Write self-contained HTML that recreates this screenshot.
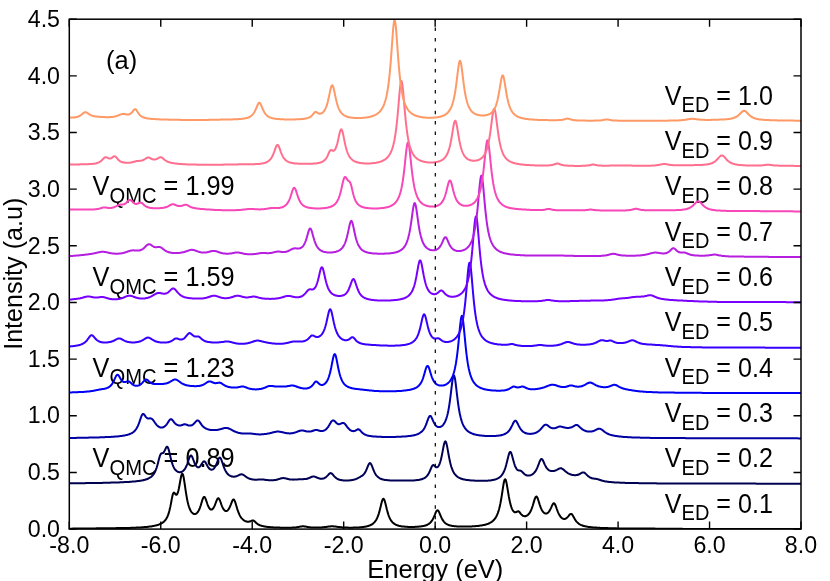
<!DOCTYPE html>
<html><head><meta charset="utf-8"><title>Spectra</title>
<style>
html,body{margin:0;padding:0;background:#fff;}
body{width:830px;height:581px;overflow:hidden;font-family:"Liberation Sans",sans-serif;}
svg{display:block;will-change:transform;}
svg text{filter:grayscale(1);font-family:"Liberation Sans",sans-serif;font-size:24px;fill:#000;}
</style></head>
<body>
<svg width="830" height="581" viewBox="0 0 830 581">
<rect width="830" height="581" fill="#fff"/>
<defs><clipPath id="c"><rect x="69.3" y="19.2" width="731.7" height="509.90000000000003"/></clipPath></defs>
<text transform="translate(69.30,552.80) scale(0.9670,1)" style="font-size:24.00px" text-anchor="middle">-8.0</text>
<text transform="translate(160.76,552.80) scale(0.9670,1)" style="font-size:24.00px" text-anchor="middle">-6.0</text>
<text transform="translate(252.23,552.80) scale(0.9670,1)" style="font-size:24.00px" text-anchor="middle">-4.0</text>
<text transform="translate(343.69,552.80) scale(0.9670,1)" style="font-size:24.00px" text-anchor="middle">-2.0</text>
<text transform="translate(435.15,552.80) scale(0.9670,1)" style="font-size:24.00px" text-anchor="middle">0.0</text>
<text transform="translate(526.61,552.80) scale(0.9670,1)" style="font-size:24.00px" text-anchor="middle">2.0</text>
<text transform="translate(618.08,552.80) scale(0.9670,1)" style="font-size:24.00px" text-anchor="middle">4.0</text>
<text transform="translate(709.54,552.80) scale(0.9670,1)" style="font-size:24.00px" text-anchor="middle">6.0</text>
<text transform="translate(801.00,552.80) scale(0.9670,1)" style="font-size:24.00px" text-anchor="middle">8.0</text>
<text transform="translate(60.00,536.80) scale(0.9670,1)" style="font-size:24.00px" text-anchor="end">0.0</text>
<text transform="translate(60.00,480.14) scale(0.9670,1)" style="font-size:24.00px" text-anchor="end">0.5</text>
<text transform="translate(60.00,423.49) scale(0.9670,1)" style="font-size:24.00px" text-anchor="end">1.0</text>
<text transform="translate(60.00,366.83) scale(0.9670,1)" style="font-size:24.00px" text-anchor="end">1.5</text>
<text transform="translate(60.00,310.18) scale(0.9670,1)" style="font-size:24.00px" text-anchor="end">2.0</text>
<text transform="translate(60.00,253.52) scale(0.9670,1)" style="font-size:24.00px" text-anchor="end">2.5</text>
<text transform="translate(60.00,196.87) scale(0.9670,1)" style="font-size:24.00px" text-anchor="end">3.0</text>
<text transform="translate(60.00,140.21) scale(0.9670,1)" style="font-size:24.00px" text-anchor="end">3.5</text>
<text transform="translate(60.00,83.56) scale(0.9670,1)" style="font-size:24.00px" text-anchor="end">4.0</text>
<text transform="translate(60.00,26.90) scale(0.9670,1)" style="font-size:24.00px" text-anchor="end">4.5</text>
<text transform="translate(664.80,512.54) scale(0.9370,1)" style="font-size:26.80px">V<tspan style="font-size:21.40px" dy="7.7">ED</tspan><tspan dy="-7.7"> = 0.1</tspan></text>
<text transform="translate(664.80,467.21) scale(0.9370,1)" style="font-size:26.80px">V<tspan style="font-size:21.40px" dy="7.7">ED</tspan><tspan dy="-7.7"> = 0.2</tspan></text>
<text transform="translate(664.80,421.89) scale(0.9370,1)" style="font-size:26.80px">V<tspan style="font-size:21.40px" dy="7.7">ED</tspan><tspan dy="-7.7"> = 0.3</tspan></text>
<text transform="translate(664.80,376.56) scale(0.9370,1)" style="font-size:26.80px">V<tspan style="font-size:21.40px" dy="7.7">ED</tspan><tspan dy="-7.7"> = 0.4</tspan></text>
<text transform="translate(664.80,331.24) scale(0.9370,1)" style="font-size:26.80px">V<tspan style="font-size:21.40px" dy="7.7">ED</tspan><tspan dy="-7.7"> = 0.5</tspan></text>
<text transform="translate(664.80,285.92) scale(0.9370,1)" style="font-size:26.80px">V<tspan style="font-size:21.40px" dy="7.7">ED</tspan><tspan dy="-7.7"> = 0.6</tspan></text>
<text transform="translate(664.80,240.59) scale(0.9370,1)" style="font-size:26.80px">V<tspan style="font-size:21.40px" dy="7.7">ED</tspan><tspan dy="-7.7"> = 0.7</tspan></text>
<text transform="translate(664.80,195.27) scale(0.9370,1)" style="font-size:26.80px">V<tspan style="font-size:21.40px" dy="7.7">ED</tspan><tspan dy="-7.7"> = 0.8</tspan></text>
<text transform="translate(664.80,149.94) scale(0.9370,1)" style="font-size:26.80px">V<tspan style="font-size:21.40px" dy="7.7">ED</tspan><tspan dy="-7.7"> = 0.9</tspan></text>
<text transform="translate(664.80,104.62) scale(0.9370,1)" style="font-size:26.80px">V<tspan style="font-size:21.40px" dy="7.7">ED</tspan><tspan dy="-7.7"> = 1.0</tspan></text>
<text transform="translate(92.60,467.21) scale(0.9440,1)" style="font-size:26.80px">V<tspan style="font-size:21.40px" dy="7.7">QMC</tspan><tspan dy="-7.7"> = 0.89</tspan></text>
<text transform="translate(92.60,376.56) scale(0.9440,1)" style="font-size:26.80px">V<tspan style="font-size:21.40px" dy="7.7">QMC</tspan><tspan dy="-7.7"> = 1.23</tspan></text>
<text transform="translate(92.60,285.92) scale(0.9440,1)" style="font-size:26.80px">V<tspan style="font-size:21.40px" dy="7.7">QMC</tspan><tspan dy="-7.7"> = 1.59</tspan></text>
<text transform="translate(92.60,195.27) scale(0.9440,1)" style="font-size:26.80px">V<tspan style="font-size:21.40px" dy="7.7">QMC</tspan><tspan dy="-7.7"> = 1.99</tspan></text>
<text transform="translate(106.00,69.00)" style="font-size:25.50px">(a)</text>
<text transform="translate(435.30,577.50)" style="font-size:25.50px" text-anchor="middle">Energy (eV)</text>
<text transform="translate(22.30,273.80) rotate(-90) scale(0.9850,1)" style="font-size:25.50px" text-anchor="middle">Intensity (a.u)</text>
<g fill="none" stroke-width="2" stroke-linejoin="round" stroke-linecap="round" clip-path="url(#c)">
<path d="M69.3,528.7 L69.8,528.7 L70.3,528.7 L70.8,528.7 L71.3,528.7 L71.8,528.7 L72.3,528.7 L72.8,528.6 L73.3,528.6 L73.8,528.6 L74.3,528.6 L74.8,528.6 L75.3,528.6 L75.8,528.6 L76.3,528.6 L76.8,528.6 L77.3,528.6 L77.8,528.6 L78.3,528.6 L78.8,528.6 L79.3,528.6 L79.8,528.6 L80.3,528.6 L80.8,528.6 L81.3,528.5 L81.8,528.5 L82.3,528.5 L82.8,528.5 L83.3,528.5 L83.8,528.5 L84.3,528.5 L84.8,528.5 L85.3,528.5 L85.8,528.5 L86.3,528.5 L86.8,528.5 L87.3,528.5 L87.8,528.5 L88.3,528.5 L88.8,528.4 L89.3,528.4 L89.8,528.4 L90.3,528.4 L90.8,528.4 L91.3,528.4 L91.8,528.4 L92.3,528.4 L92.8,528.4 L93.3,528.4 L93.8,528.4 L94.3,528.4 L94.8,528.4 L95.3,528.4 L95.8,528.4 L96.3,528.3 L96.8,528.3 L97.3,528.3 L97.8,528.3 L98.3,528.3 L98.8,528.3 L99.3,528.3 L99.8,528.3 L100.3,528.3 L100.8,528.3 L101.3,528.3 L101.8,528.3 L102.3,528.3 L102.8,528.3 L103.3,528.3 L103.8,528.3 L104.3,528.3 L104.8,528.3 L105.3,528.3 L105.8,528.3 L106.3,528.2 L106.8,528.2 L107.3,528.2 L107.8,528.2 L108.3,528.2 L108.8,528.2 L109.3,528.2 L109.8,528.2 L110.3,528.2 L110.8,528.2 L111.3,528.2 L111.8,528.2 L112.3,528.2 L112.8,528.2 L113.3,528.2 L113.8,528.2 L114.3,528.2 L114.8,528.2 L115.3,528.2 L115.8,528.2 L116.3,528.1 L116.8,528.1 L117.3,528.1 L117.8,528.1 L118.3,528.1 L118.8,528.1 L119.3,528.1 L119.8,528.1 L120.3,528.1 L120.8,528.1 L121.3,528.1 L121.8,528.1 L122.3,528.1 L122.8,528.0 L123.3,528.0 L123.8,528.0 L124.3,528.0 L124.8,528.0 L125.3,528.0 L125.8,528.0 L126.3,528.0 L126.8,528.0 L127.3,527.9 L127.8,527.9 L128.3,527.9 L128.8,527.9 L129.3,527.9 L129.8,527.9 L130.3,527.9 L130.8,527.8 L131.3,527.8 L131.8,527.8 L132.3,527.8 L132.8,527.8 L133.3,527.8 L133.8,527.7 L134.3,527.7 L134.8,527.7 L135.3,527.7 L135.8,527.7 L136.3,527.6 L136.8,527.6 L137.3,527.6 L137.8,527.6 L138.3,527.5 L138.8,527.5 L139.3,527.5 L139.8,527.4 L140.3,527.4 L140.8,527.4 L141.3,527.4 L141.8,527.3 L142.3,527.3 L142.8,527.3 L143.3,527.2 L143.8,527.2 L144.3,527.1 L144.8,527.1 L145.3,527.1 L145.8,527.0 L146.3,527.0 L146.8,526.9 L147.3,526.9 L147.8,526.8 L148.3,526.8 L148.8,526.7 L149.3,526.6 L149.8,526.6 L150.3,526.5 L150.8,526.4 L151.3,526.4 L151.8,526.3 L152.3,526.2 L152.8,526.1 L153.3,526.0 L153.8,525.9 L154.3,525.8 L154.8,525.7 L155.3,525.6 L155.8,525.5 L156.3,525.4 L156.8,525.2 L157.3,525.1 L157.8,524.9 L158.3,524.8 L158.8,524.6 L159.3,524.4 L159.8,524.2 L160.3,524.0 L160.8,523.7 L161.3,523.5 L161.8,523.2 L162.3,522.9 L162.8,522.5 L163.3,522.1 L163.8,521.7 L164.3,521.2 L164.8,520.7 L165.3,520.1 L165.8,519.5 L166.3,518.7 L166.8,517.8 L167.3,516.9 L167.8,515.7 L168.3,514.4 L168.8,512.9 L169.3,511.1 L169.8,509.1 L170.3,506.9 L170.8,504.4 L171.3,501.7 L171.8,498.9 L172.3,496.4 L172.8,494.4 L173.3,493.1 L173.8,492.6 L174.3,492.7 L174.8,493.3 L175.3,494.0 L175.8,494.6 L176.3,494.8 L176.8,494.6 L177.3,493.9 L177.8,492.7 L178.3,491.0 L178.8,488.8 L179.3,486.3 L179.8,483.5 L180.3,480.7 L180.8,478.0 L181.3,475.7 L181.8,474.2 L182.3,473.7 L182.8,474.2 L183.3,475.8 L183.8,478.3 L184.3,481.3 L184.8,484.7 L185.3,488.2 L185.8,491.6 L186.3,494.7 L186.8,497.6 L187.3,500.2 L187.8,502.5 L188.3,504.5 L188.8,506.2 L189.3,507.7 L189.8,509.0 L190.3,510.1 L190.8,511.0 L191.3,511.8 L191.8,512.4 L192.3,512.9 L192.8,513.3 L193.3,513.7 L193.8,513.9 L194.3,514.0 L194.8,514.0 L195.3,513.9 L195.8,513.8 L196.3,513.5 L196.8,513.1 L197.3,512.6 L197.8,512.0 L198.3,511.2 L198.8,510.3 L199.3,509.3 L199.8,508.1 L200.3,506.7 L200.8,505.2 L201.3,503.5 L201.8,501.9 L202.3,500.2 L202.8,498.8 L203.3,497.7 L203.8,497.0 L204.3,496.9 L204.8,497.3 L205.3,498.2 L205.8,499.4 L206.3,500.8 L206.8,502.3 L207.3,503.8 L207.8,505.1 L208.3,506.3 L208.8,507.3 L209.3,508.2 L209.8,508.8 L210.3,509.3 L210.8,509.5 L211.3,509.6 L211.8,509.5 L212.3,509.3 L212.8,508.8 L213.3,508.2 L213.8,507.4 L214.3,506.4 L214.8,505.3 L215.3,504.0 L215.8,502.7 L216.3,501.3 L216.8,500.1 L217.3,499.1 L217.8,498.4 L218.3,498.2 L218.8,498.5 L219.3,499.2 L219.8,500.2 L220.3,501.5 L220.8,502.9 L221.3,504.3 L221.8,505.6 L222.3,506.8 L222.8,507.9 L223.3,508.8 L223.8,509.5 L224.3,510.1 L224.8,510.6 L225.3,510.9 L225.8,511.0 L226.3,511.0 L226.8,510.9 L227.3,510.6 L227.8,510.2 L228.3,509.6 L228.8,508.9 L229.3,508.0 L229.8,507.0 L230.3,505.8 L230.8,504.6 L231.3,503.3 L231.8,502.0 L232.3,500.8 L232.8,500.0 L233.3,499.5 L233.8,499.5 L234.3,500.1 L234.8,501.1 L235.3,502.4 L235.8,504.0 L236.3,505.7 L236.8,507.4 L237.3,509.1 L237.8,510.6 L238.3,512.0 L238.8,513.2 L239.3,514.4 L239.8,515.4 L240.3,516.3 L240.8,517.1 L241.3,517.8 L241.8,518.4 L242.3,518.9 L242.8,519.4 L243.3,519.9 L243.8,520.2 L244.3,520.6 L244.8,520.9 L245.3,521.1 L245.8,521.3 L246.3,521.5 L246.8,521.6 L247.3,521.7 L247.8,521.8 L248.3,521.8 L248.8,521.7 L249.3,521.6 L249.8,521.5 L250.3,521.3 L250.8,521.1 L251.3,520.9 L251.8,520.7 L252.3,520.5 L252.8,520.4 L253.3,520.5 L253.8,520.7 L254.3,521.1 L254.8,521.5 L255.3,522.0 L255.8,522.5 L256.3,523.0 L256.8,523.4 L257.3,523.8 L257.8,524.1 L258.3,524.5 L258.8,524.7 L259.3,525.0 L259.8,525.2 L260.3,525.4 L260.8,525.6 L261.3,525.7 L261.8,525.9 L262.3,526.0 L262.8,526.1 L263.3,526.2 L263.8,526.3 L264.3,526.4 L264.8,526.5 L265.3,526.6 L265.8,526.7 L266.3,526.7 L266.8,526.8 L267.3,526.9 L267.8,526.9 L268.3,527.0 L268.8,527.0 L269.3,527.1 L269.8,527.1 L270.3,527.2 L270.8,527.2 L271.3,527.2 L271.8,527.3 L272.3,527.3 L272.8,527.3 L273.3,527.4 L273.8,527.4 L274.3,527.4 L274.8,527.5 L275.3,527.5 L275.8,527.5 L276.3,527.5 L276.8,527.5 L277.3,527.6 L277.8,527.6 L278.3,527.6 L278.8,527.6 L279.3,527.6 L279.8,527.6 L280.3,527.7 L280.8,527.7 L281.3,527.7 L281.8,527.7 L282.3,527.7 L282.8,527.7 L283.3,527.7 L283.8,527.7 L284.3,527.7 L284.8,527.7 L285.3,527.7 L285.8,527.8 L286.3,527.8 L286.8,527.8 L287.3,527.8 L287.8,527.7 L288.3,527.7 L288.8,527.7 L289.3,527.7 L289.8,527.7 L290.3,527.7 L290.8,527.7 L291.3,527.7 L291.8,527.7 L292.3,527.6 L292.8,527.6 L293.3,527.6 L293.8,527.5 L294.3,527.5 L294.8,527.5 L295.3,527.4 L295.8,527.4 L296.3,527.3 L296.8,527.2 L297.3,527.2 L297.8,527.1 L298.3,527.0 L298.8,526.9 L299.3,526.8 L299.8,526.7 L300.3,526.6 L300.8,526.5 L301.3,526.4 L301.8,526.4 L302.3,526.3 L302.8,526.3 L303.3,526.3 L303.8,526.3 L304.3,526.4 L304.8,526.4 L305.3,526.5 L305.8,526.6 L306.3,526.7 L306.8,526.8 L307.3,526.9 L307.8,527.0 L308.3,527.1 L308.8,527.2 L309.3,527.2 L309.8,527.3 L310.3,527.3 L310.8,527.4 L311.3,527.4 L311.8,527.5 L312.3,527.5 L312.8,527.5 L313.3,527.6 L313.8,527.6 L314.3,527.6 L314.8,527.6 L315.3,527.6 L315.8,527.6 L316.3,527.6 L316.8,527.6 L317.3,527.6 L317.8,527.6 L318.3,527.6 L318.8,527.5 L319.3,527.5 L319.8,527.5 L320.3,527.5 L320.8,527.4 L321.3,527.4 L321.8,527.4 L322.3,527.3 L322.8,527.3 L323.3,527.2 L323.8,527.2 L324.3,527.1 L324.8,527.1 L325.3,527.0 L325.8,526.9 L326.3,526.9 L326.8,526.8 L327.3,526.7 L327.8,526.7 L328.3,526.6 L328.8,526.5 L329.3,526.5 L329.8,526.4 L330.3,526.4 L330.8,526.3 L331.3,526.3 L331.8,526.3 L332.3,526.3 L332.8,526.3 L333.3,526.3 L333.8,526.4 L334.3,526.4 L334.8,526.5 L335.3,526.5 L335.8,526.6 L336.3,526.7 L336.8,526.7 L337.3,526.8 L337.8,526.9 L338.3,526.9 L338.8,527.0 L339.3,527.1 L339.8,527.1 L340.3,527.2 L340.8,527.2 L341.3,527.3 L341.8,527.3 L342.3,527.4 L342.8,527.4 L343.3,527.4 L343.8,527.5 L344.3,527.5 L344.8,527.5 L345.3,527.6 L345.8,527.6 L346.3,527.6 L346.8,527.6 L347.3,527.6 L347.8,527.6 L348.3,527.7 L348.8,527.7 L349.3,527.7 L349.8,527.7 L350.3,527.7 L350.8,527.7 L351.3,527.7 L351.8,527.7 L352.3,527.7 L352.8,527.7 L353.3,527.6 L353.8,527.6 L354.3,527.6 L354.8,527.6 L355.3,527.6 L355.8,527.6 L356.3,527.6 L356.8,527.5 L357.3,527.5 L357.8,527.5 L358.3,527.5 L358.8,527.4 L359.3,527.4 L359.8,527.3 L360.3,527.3 L360.8,527.3 L361.3,527.2 L361.8,527.2 L362.3,527.1 L362.8,527.1 L363.3,527.0 L363.8,526.9 L364.3,526.8 L364.8,526.8 L365.3,526.7 L365.8,526.6 L366.3,526.5 L366.8,526.4 L367.3,526.2 L367.8,526.1 L368.3,526.0 L368.8,525.8 L369.3,525.6 L369.8,525.4 L370.3,525.2 L370.8,525.0 L371.3,524.7 L371.8,524.5 L372.3,524.1 L372.8,523.8 L373.3,523.4 L373.8,522.9 L374.3,522.4 L374.8,521.9 L375.3,521.2 L375.8,520.5 L376.3,519.7 L376.8,518.8 L377.3,517.7 L377.8,516.5 L378.3,515.1 L378.8,513.6 L379.3,511.9 L379.8,510.0 L380.3,508.0 L380.8,505.9 L381.3,503.8 L381.8,501.9 L382.3,500.3 L382.8,499.2 L383.3,498.7 L383.8,498.9 L384.3,499.8 L384.8,501.2 L385.3,503.0 L385.8,505.0 L386.3,507.1 L386.8,509.2 L387.3,511.1 L387.8,512.9 L388.3,514.5 L388.8,515.9 L389.3,517.1 L389.8,518.2 L390.3,519.2 L390.8,520.1 L391.3,520.8 L391.8,521.5 L392.3,522.1 L392.8,522.6 L393.3,523.0 L393.8,523.4 L394.3,523.8 L394.8,524.1 L395.3,524.4 L395.8,524.7 L396.3,524.9 L396.8,525.1 L397.3,525.3 L397.8,525.5 L398.3,525.6 L398.8,525.8 L399.3,525.9 L399.8,526.0 L400.3,526.1 L400.8,526.2 L401.3,526.3 L401.8,526.4 L402.3,526.4 L402.8,526.5 L403.3,526.5 L403.8,526.6 L404.3,526.6 L404.8,526.7 L405.3,526.7 L405.8,526.8 L406.3,526.8 L406.8,526.8 L407.3,526.8 L407.8,526.9 L408.3,526.9 L408.8,526.9 L409.3,526.9 L409.8,526.9 L410.3,526.9 L410.8,526.9 L411.3,526.9 L411.8,526.9 L412.3,526.9 L412.8,526.9 L413.3,526.9 L413.8,526.9 L414.3,526.9 L414.8,526.9 L415.3,526.8 L415.8,526.8 L416.3,526.8 L416.8,526.8 L417.3,526.7 L417.8,526.7 L418.3,526.7 L418.8,526.6 L419.3,526.6 L419.8,526.5 L420.3,526.5 L420.8,526.4 L421.3,526.3 L421.8,526.3 L422.3,526.2 L422.8,526.1 L423.3,526.0 L423.8,525.9 L424.3,525.8 L424.8,525.7 L425.3,525.5 L425.8,525.4 L426.3,525.2 L426.8,525.0 L427.3,524.8 L427.8,524.5 L428.3,524.2 L428.8,523.9 L429.3,523.5 L429.8,523.1 L430.3,522.7 L430.8,522.1 L431.3,521.5 L431.8,520.8 L432.3,520.1 L432.8,519.2 L433.3,518.2 L433.8,517.1 L434.3,516.0 L434.8,514.8 L435.3,513.5 L435.8,512.4 L436.3,511.4 L436.8,510.7 L437.3,510.3 L437.8,510.4 L438.3,510.8 L438.8,511.6 L439.3,512.6 L439.8,513.8 L440.3,515.0 L440.8,516.2 L441.3,517.3 L441.8,518.4 L442.3,519.3 L442.8,520.2 L443.3,520.9 L443.8,521.6 L444.3,522.1 L444.8,522.7 L445.3,523.1 L445.8,523.5 L446.3,523.8 L446.8,524.1 L447.3,524.4 L447.8,524.6 L448.3,524.9 L448.8,525.0 L449.3,525.2 L449.8,525.4 L450.3,525.5 L450.8,525.6 L451.3,525.7 L451.8,525.8 L452.3,525.9 L452.8,526.0 L453.3,526.0 L453.8,526.1 L454.3,526.2 L454.8,526.2 L455.3,526.3 L455.8,526.3 L456.3,526.3 L456.8,526.4 L457.3,526.4 L457.8,526.4 L458.3,526.4 L458.8,526.5 L459.3,526.5 L459.8,526.5 L460.3,526.5 L460.8,526.5 L461.3,526.5 L461.8,526.5 L462.3,526.6 L462.8,526.6 L463.3,526.6 L463.8,526.6 L464.3,526.6 L464.8,526.6 L465.3,526.6 L465.8,526.5 L466.3,526.5 L466.8,526.5 L467.3,526.5 L467.8,526.5 L468.3,526.5 L468.8,526.5 L469.3,526.5 L469.8,526.5 L470.3,526.4 L470.8,526.4 L471.3,526.4 L471.8,526.4 L472.3,526.3 L472.8,526.3 L473.3,526.3 L473.8,526.3 L474.3,526.2 L474.8,526.2 L475.3,526.2 L475.8,526.1 L476.3,526.1 L476.8,526.0 L477.3,526.0 L477.8,525.9 L478.3,525.9 L478.8,525.8 L479.3,525.8 L479.8,525.7 L480.3,525.6 L480.8,525.6 L481.3,525.5 L481.8,525.4 L482.3,525.3 L482.8,525.2 L483.3,525.1 L483.8,525.0 L484.3,524.9 L484.8,524.8 L485.3,524.7 L485.8,524.5 L486.3,524.4 L486.8,524.2 L487.3,524.1 L487.8,523.9 L488.3,523.7 L488.8,523.5 L489.3,523.3 L489.8,523.0 L490.3,522.7 L490.8,522.4 L491.3,522.1 L491.8,521.8 L492.3,521.4 L492.8,521.0 L493.3,520.5 L493.8,520.0 L494.3,519.5 L494.8,518.8 L495.3,518.1 L495.8,517.4 L496.3,516.5 L496.8,515.5 L497.3,514.4 L497.8,513.1 L498.3,511.7 L498.8,510.1 L499.3,508.3 L499.8,506.2 L500.3,503.9 L500.8,501.3 L501.3,498.5 L501.8,495.4 L502.3,492.1 L502.8,488.8 L503.3,485.6 L503.8,482.8 L504.3,480.7 L504.8,479.5 L505.3,479.2 L505.8,480.1 L506.3,481.9 L506.8,484.4 L507.3,487.3 L507.8,490.4 L508.3,493.4 L508.8,496.4 L509.3,499.0 L509.8,501.4 L510.3,503.6 L510.8,505.4 L511.3,507.0 L511.8,508.3 L512.3,509.4 L512.8,510.3 L513.3,511.1 L513.8,511.6 L514.3,512.0 L514.8,512.2 L515.3,512.3 L515.8,512.2 L516.3,512.0 L516.8,511.8 L517.3,511.5 L517.8,511.4 L518.3,511.3 L518.8,511.5 L519.3,511.9 L519.8,512.5 L520.3,513.1 L520.8,513.8 L521.3,514.4 L521.8,514.9 L522.3,515.3 L522.8,515.7 L523.3,515.9 L523.8,516.1 L524.3,516.2 L524.8,516.2 L525.3,516.2 L525.8,516.0 L526.3,515.9 L526.8,515.6 L527.3,515.3 L527.8,515.0 L528.3,514.5 L528.8,514.0 L529.3,513.3 L529.8,512.6 L530.3,511.8 L530.8,510.8 L531.3,509.7 L531.8,508.4 L532.3,507.0 L532.8,505.5 L533.3,503.8 L533.8,502.1 L534.3,500.4 L534.8,498.9 L535.3,497.7 L535.8,496.8 L536.3,496.5 L536.8,496.7 L537.3,497.5 L537.8,498.7 L538.3,500.2 L538.8,501.8 L539.3,503.4 L539.8,505.0 L540.3,506.4 L540.8,507.7 L541.3,508.9 L541.8,509.9 L542.3,510.8 L542.8,511.5 L543.3,512.1 L543.8,512.6 L544.3,513.0 L544.8,513.3 L545.3,513.4 L545.8,513.5 L546.3,513.5 L546.8,513.4 L547.3,513.2 L547.8,512.9 L548.3,512.4 L548.8,511.9 L549.3,511.2 L549.8,510.4 L550.3,509.4 L550.8,508.4 L551.3,507.3 L551.8,506.1 L552.3,505.1 L552.8,504.2 L553.3,503.5 L553.8,503.3 L554.3,503.5 L554.8,504.0 L555.3,505.0 L555.8,506.2 L556.3,507.5 L556.8,509.0 L557.3,510.3 L557.8,511.6 L558.3,512.8 L558.8,513.9 L559.3,514.8 L559.8,515.7 L560.3,516.4 L560.8,517.0 L561.3,517.5 L561.8,518.0 L562.3,518.3 L562.8,518.6 L563.3,518.8 L563.8,518.9 L564.3,518.9 L564.8,518.9 L565.3,518.8 L565.8,518.5 L566.3,518.3 L566.8,517.9 L567.3,517.4 L567.8,516.9 L568.3,516.3 L568.8,515.6 L569.3,515.0 L569.8,514.5 L570.3,514.1 L570.8,513.9 L571.3,513.9 L571.8,514.2 L572.3,514.8 L572.8,515.5 L573.3,516.4 L573.8,517.3 L574.3,518.2 L574.8,519.1 L575.3,519.9 L575.8,520.6 L576.3,521.3 L576.8,521.9 L577.3,522.4 L577.8,522.9 L578.3,523.3 L578.8,523.7 L579.3,524.1 L579.8,524.4 L580.3,524.6 L580.8,524.9 L581.3,525.1 L581.8,525.3 L582.3,525.5 L582.8,525.7 L583.3,525.8 L583.8,526.0 L584.3,526.1 L584.8,526.2 L585.3,526.3 L585.8,526.4 L586.3,526.5 L586.8,526.6 L587.3,526.7 L587.8,526.8 L588.3,526.9 L588.8,526.9 L589.3,527.0 L589.8,527.1 L590.3,527.1 L590.8,527.2 L591.3,527.2 L591.8,527.3 L592.3,527.3 L592.8,527.4 L593.3,527.4 L593.8,527.5 L594.3,527.5 L594.8,527.5 L595.3,527.6 L595.8,527.6 L596.3,527.6 L596.8,527.7 L597.3,527.7 L597.8,527.7 L598.3,527.8 L598.8,527.8 L599.3,527.8 L599.8,527.8 L600.3,527.9 L600.8,527.9 L601.3,527.9 L601.8,527.9 L602.3,528.0 L602.8,528.0 L603.3,528.0 L603.8,528.0 L604.3,528.0 L604.8,528.0 L605.3,528.1 L605.8,528.1 L606.3,528.1 L606.8,528.1 L607.3,528.1 L607.8,528.1 L608.3,528.2 L608.8,528.2 L609.3,528.2 L609.8,528.2 L610.3,528.2 L610.8,528.2 L611.3,528.2 L611.8,528.3 L612.3,528.3 L612.8,528.3 L613.3,528.3 L613.8,528.3 L614.3,528.3 L614.8,528.3 L615.3,528.3 L615.8,528.3 L616.3,528.3 L616.8,528.4 L617.3,528.4 L617.8,528.4 L618.3,528.4 L618.8,528.4 L619.3,528.4 L619.8,528.4 L620.3,528.4 L620.8,528.4 L621.3,528.4 L621.8,528.4 L622.3,528.4 L622.8,528.5 L623.3,528.5 L623.8,528.5 L624.3,528.5 L624.8,528.5 L625.3,528.5 L625.8,528.5 L626.3,528.5 L626.8,528.5 L627.3,528.5 L627.8,528.5 L628.3,528.5 L628.8,528.5 L629.3,528.5 L629.8,528.5 L630.3,528.5 L630.8,528.5 L631.3,528.5 L631.8,528.5 L632.3,528.6 L632.8,528.6 L633.3,528.6 L633.8,528.6 L634.3,528.6 L634.8,528.6 L635.3,528.6 L635.8,528.6 L636.3,528.6 L636.8,528.6 L637.3,528.6 L637.8,528.6 L638.3,528.6 L638.8,528.6 L639.3,528.6 L639.8,528.6 L640.3,528.6 L640.8,528.6 L641.3,528.6 L641.8,528.6 L642.3,528.6 L642.8,528.6 L643.3,528.6 L643.8,528.6 L644.3,528.6 L644.8,528.6 L645.3,528.6 L645.8,528.6 L646.3,528.6 L646.8,528.6 L647.3,528.6 L647.8,528.6 L648.3,528.6 L648.8,528.6 L649.3,528.6 L649.8,528.6 L650.3,528.6 L650.8,528.6 L651.3,528.6 L651.8,528.6 L652.3,528.6 L652.8,528.6 L653.3,528.6 L653.8,528.6 L654.3,528.6 L654.8,528.6 L655.3,528.7 L655.8,528.7 L656.3,528.7 L656.8,528.7 L657.3,528.7 L657.8,528.7 L658.3,528.7 L658.8,528.7 L659.3,528.7 L659.8,528.7 L660.3,528.7 L660.8,528.7 L661.3,528.7 L661.8,528.7 L662.3,528.7 L662.8,528.7 L663.3,528.7 L663.8,528.7 L664.3,528.7 L664.8,528.7 L665.3,528.7 L665.8,528.7 L666.3,528.7 L666.8,528.8 L667.3,528.8 L667.8,528.8 L668.3,528.8 L668.8,528.8 L669.3,528.8 L669.8,528.8 L670.3,528.8 L670.8,528.8 L671.3,528.8 L671.8,528.8 L672.3,528.8 L672.8,528.8 L673.3,528.8 L673.8,528.8 L674.3,528.8 L674.8,528.8 L675.3,528.8 L675.8,528.8 L676.3,528.8 L676.8,528.8 L677.3,528.8 L677.8,528.8 L678.3,528.8 L678.8,528.8 L679.3,528.8 L679.8,528.8 L680.3,528.8 L680.8,528.8 L681.3,528.8 L681.8,528.8 L682.3,528.8 L682.8,528.9 L683.3,528.9 L683.8,528.9 L684.3,528.9 L684.8,528.9 L685.3,528.9 L685.8,528.9 L686.3,528.9 L686.8,528.9 L687.3,528.9 L687.8,528.9 L688.3,528.9 L688.8,528.9 L689.3,528.9 L689.8,528.9 L690.3,528.9 L690.8,528.9 L691.3,528.9 L691.8,528.9 L692.3,528.9 L692.8,528.9 L693.3,528.9 L693.8,528.9 L694.3,528.9 L694.8,528.9 L695.3,528.9 L695.8,528.9 L696.3,528.9 L696.8,528.9 L697.3,528.9 L697.8,528.9 L698.3,528.9 L698.8,528.9 L699.3,528.9 L699.8,528.9 L700.3,528.9 L700.8,528.9 L701.3,528.9 L701.8,528.9 L702.3,528.9 L702.8,528.9 L703.3,528.9 L703.8,528.9 L704.3,528.9 L704.8,528.9 L705.3,528.9 L705.8,528.9 L706.3,528.9 L706.8,528.9 L707.3,528.9 L707.8,528.9 L708.3,528.9 L708.8,528.9 L709.3,528.9 L709.8,528.9 L710.3,528.9 L710.8,528.9 L711.3,528.9 L711.8,528.9 L712.3,528.9 L712.8,528.9 L713.3,528.9 L713.8,528.9 L714.3,528.9 L714.8,528.9 L715.3,528.9 L715.8,528.9 L716.3,528.9 L716.8,528.9 L717.3,528.9 L717.8,528.9 L718.3,528.9 L718.8,528.9 L719.3,528.9 L719.8,528.9 L720.3,528.9 L720.8,528.9 L721.3,528.9 L721.8,528.9 L722.3,528.9 L722.8,529.0 L723.3,529.0 L723.8,529.0 L724.3,529.0 L724.8,529.0 L725.3,529.0 L725.8,529.0 L726.3,529.0 L726.8,529.0 L727.3,529.0 L727.8,529.0 L728.3,529.0 L728.8,529.0 L729.3,529.0 L729.8,529.0 L730.3,529.0 L730.8,529.0 L731.3,529.0 L731.8,529.0 L732.3,529.0 L732.8,529.0 L733.3,529.0 L733.8,529.0 L734.3,529.0 L734.8,529.0 L735.3,529.0 L735.8,529.0 L736.3,529.0 L736.8,529.0 L737.3,529.0 L737.8,529.0 L738.3,529.0 L738.8,529.0 L739.3,529.0 L739.8,529.0 L740.3,529.0 L740.8,529.0 L741.3,529.0 L741.8,529.0 L742.3,529.0 L742.8,529.0 L743.3,529.0 L743.8,529.0 L744.3,529.0 L744.8,529.0 L745.3,529.0 L745.8,529.0 L746.3,529.0 L746.8,529.0 L747.3,529.0 L747.8,529.0 L748.3,529.0 L748.8,529.0 L749.3,529.0 L749.8,529.0 L750.3,529.0 L750.8,529.0 L751.3,529.0 L751.8,529.0 L752.3,529.0 L752.8,529.0 L753.3,529.0 L753.8,529.0 L754.3,529.0 L754.8,529.0 L755.3,529.0 L755.8,529.0 L756.3,529.0 L756.8,529.0 L757.3,529.0 L757.8,529.0 L758.3,529.0 L758.8,529.0 L759.3,529.0 L759.8,529.0 L760.3,529.0 L760.8,529.0 L761.3,529.0 L761.8,529.0 L762.3,529.0 L762.8,529.0 L763.3,529.0 L763.8,529.0 L764.3,529.0 L764.8,529.0 L765.3,529.0 L765.8,529.0 L766.3,529.0 L766.8,529.0 L767.3,529.0 L767.8,529.0 L768.3,529.0 L768.8,529.0 L769.3,529.0 L769.8,529.0 L770.3,529.0 L770.8,529.0 L771.3,529.0 L771.8,529.0 L772.3,529.0 L772.8,529.0 L773.3,529.0 L773.8,529.0 L774.3,529.0 L774.8,529.0 L775.3,529.0 L775.8,529.0 L776.3,529.0 L776.8,529.0 L777.3,529.0 L777.8,529.0 L778.3,529.0 L778.8,529.0 L779.3,529.0 L779.8,529.0 L780.3,529.0 L780.8,529.0 L781.3,529.0 L781.8,529.0 L782.3,529.0 L782.8,529.0 L783.3,529.0 L783.8,529.0 L784.3,529.0 L784.8,529.0 L785.3,529.0 L785.8,529.0 L786.3,529.0 L786.8,529.0 L787.3,529.0 L787.8,529.0 L788.3,529.0 L788.8,529.0 L789.3,529.0 L789.8,529.0 L790.3,529.0 L790.8,529.0 L791.3,529.0 L791.8,529.0 L792.3,529.0 L792.8,529.0 L793.3,529.0 L793.8,529.0 L794.3,529.0 L794.8,529.0 L795.3,529.0 L795.8,529.0 L796.3,529.0 L796.8,529.0 L797.3,529.0 L797.8,529.0 L798.3,529.0 L798.8,529.0 L799.3,529.0 L799.8,529.0 L800.3,529.0 L800.8,529.0" stroke="#000000"/>
<path d="M69.3,483.3 L69.8,483.3 L70.3,483.3 L70.8,483.3 L71.3,483.3 L71.8,483.3 L72.3,483.3 L72.8,483.3 L73.3,483.3 L73.8,483.3 L74.3,483.3 L74.8,483.3 L75.3,483.3 L75.8,483.3 L76.3,483.3 L76.8,483.3 L77.3,483.3 L77.8,483.2 L78.3,483.2 L78.8,483.2 L79.3,483.2 L79.8,483.2 L80.3,483.2 L80.8,483.2 L81.3,483.2 L81.8,483.2 L82.3,483.2 L82.8,483.2 L83.3,483.2 L83.8,483.2 L84.3,483.2 L84.8,483.2 L85.3,483.2 L85.8,483.1 L86.3,483.1 L86.8,483.1 L87.3,483.1 L87.8,483.1 L88.3,483.1 L88.8,483.1 L89.3,483.1 L89.8,483.1 L90.3,483.1 L90.8,483.1 L91.3,483.1 L91.8,483.1 L92.3,483.0 L92.8,483.0 L93.3,483.0 L93.8,483.0 L94.3,483.0 L94.8,483.0 L95.3,483.0 L95.8,483.0 L96.3,483.0 L96.8,483.0 L97.3,483.0 L97.8,482.9 L98.3,482.9 L98.8,482.9 L99.3,482.9 L99.8,482.9 L100.3,482.9 L100.8,482.9 L101.3,482.9 L101.8,482.9 L102.3,482.9 L102.8,482.8 L103.3,482.8 L103.8,482.8 L104.3,482.8 L104.8,482.8 L105.3,482.8 L105.8,482.8 L106.3,482.8 L106.8,482.8 L107.3,482.7 L107.8,482.7 L108.3,482.7 L108.8,482.7 L109.3,482.7 L109.8,482.7 L110.3,482.7 L110.8,482.6 L111.3,482.6 L111.8,482.6 L112.3,482.6 L112.8,482.6 L113.3,482.6 L113.8,482.6 L114.3,482.5 L114.8,482.5 L115.3,482.5 L115.8,482.5 L116.3,482.5 L116.8,482.5 L117.3,482.4 L117.8,482.4 L118.3,482.4 L118.8,482.4 L119.3,482.4 L119.8,482.3 L120.3,482.3 L120.8,482.3 L121.3,482.3 L121.8,482.3 L122.3,482.2 L122.8,482.2 L123.3,482.2 L123.8,482.2 L124.3,482.1 L124.8,482.1 L125.3,482.1 L125.8,482.1 L126.3,482.0 L126.8,482.0 L127.3,482.0 L127.8,481.9 L128.3,481.9 L128.8,481.9 L129.3,481.9 L129.8,481.8 L130.3,481.8 L130.8,481.7 L131.3,481.7 L131.8,481.7 L132.3,481.6 L132.8,481.6 L133.3,481.5 L133.8,481.5 L134.3,481.5 L134.8,481.4 L135.3,481.4 L135.8,481.3 L136.3,481.3 L136.8,481.2 L137.3,481.1 L137.8,481.1 L138.3,481.0 L138.8,481.0 L139.3,480.9 L139.8,480.8 L140.3,480.7 L140.8,480.7 L141.3,480.6 L141.8,480.5 L142.3,480.4 L142.8,480.3 L143.3,480.2 L143.8,480.0 L144.3,479.9 L144.8,479.8 L145.3,479.7 L145.8,479.5 L146.3,479.3 L146.8,479.2 L147.3,479.0 L147.8,478.8 L148.3,478.5 L148.8,478.3 L149.3,478.0 L149.8,477.7 L150.3,477.4 L150.8,477.1 L151.3,476.7 L151.8,476.2 L152.3,475.8 L152.8,475.2 L153.3,474.6 L153.8,473.9 L154.3,473.1 L154.8,472.2 L155.3,471.2 L155.8,470.0 L156.3,468.7 L156.8,467.2 L157.3,465.5 L157.8,463.7 L158.3,461.8 L158.8,459.8 L159.3,457.9 L159.8,456.2 L160.3,454.9 L160.8,454.0 L161.3,453.5 L161.8,453.3 L162.3,453.2 L162.8,453.1 L163.3,452.8 L163.8,452.2 L164.3,451.4 L164.8,450.4 L165.3,449.3 L165.8,448.2 L166.3,447.3 L166.8,446.7 L167.3,446.7 L167.8,447.3 L168.3,448.5 L168.8,450.1 L169.3,452.1 L169.8,454.2 L170.3,456.3 L170.8,458.4 L171.3,460.4 L171.8,462.1 L172.3,463.7 L172.8,465.1 L173.3,466.3 L173.8,467.4 L174.3,468.3 L174.8,469.1 L175.3,469.8 L175.8,470.3 L176.3,470.8 L176.8,471.2 L177.3,471.5 L177.8,471.8 L178.3,472.0 L178.8,472.1 L179.3,472.2 L179.8,472.2 L180.3,472.2 L180.8,472.1 L181.3,472.0 L181.8,471.8 L182.3,471.5 L182.8,471.2 L183.3,470.8 L183.8,470.3 L184.3,469.7 L184.8,469.1 L185.3,468.3 L185.8,467.3 L186.3,466.3 L186.8,465.1 L187.3,463.8 L187.8,462.3 L188.3,460.8 L188.8,459.3 L189.3,457.9 L189.8,456.8 L190.3,455.9 L190.8,455.5 L191.3,455.6 L191.8,456.2 L192.3,457.1 L192.8,458.3 L193.3,459.7 L193.8,461.0 L194.3,462.3 L194.8,463.5 L195.3,464.5 L195.8,465.4 L196.3,466.1 L196.8,466.7 L197.3,467.0 L197.8,467.2 L198.3,467.3 L198.8,467.2 L199.3,467.0 L199.8,466.6 L200.3,466.1 L200.8,465.4 L201.3,464.6 L201.8,463.8 L202.3,463.0 L202.8,462.3 L203.3,461.7 L203.8,461.4 L204.3,461.3 L204.8,461.6 L205.3,462.1 L205.8,462.9 L206.3,463.8 L206.8,464.7 L207.3,465.7 L207.8,466.6 L208.3,467.3 L208.8,468.0 L209.3,468.6 L209.8,469.0 L210.3,469.4 L210.8,469.6 L211.3,469.7 L211.8,469.7 L212.3,469.6 L212.8,469.4 L213.3,469.1 L213.8,468.6 L214.3,468.0 L214.8,467.3 L215.3,466.5 L215.8,465.5 L216.3,464.4 L216.8,463.2 L217.3,461.9 L217.8,460.6 L218.3,459.4 L218.8,458.4 L219.3,457.8 L219.8,457.6 L220.3,457.8 L220.8,458.5 L221.3,459.6 L221.8,461.0 L222.3,462.5 L222.8,464.0 L223.3,465.5 L223.8,466.9 L224.3,468.2 L224.8,469.4 L225.3,470.4 L225.8,471.3 L226.3,472.2 L226.8,472.9 L227.3,473.5 L227.8,474.1 L228.3,474.5 L228.8,475.0 L229.3,475.3 L229.8,475.6 L230.3,475.9 L230.8,476.1 L231.3,476.3 L231.8,476.5 L232.3,476.6 L232.8,476.6 L233.3,476.7 L233.8,476.7 L234.3,476.7 L234.8,476.6 L235.3,476.6 L235.8,476.4 L236.3,476.3 L236.8,476.1 L237.3,475.9 L237.8,475.7 L238.3,475.4 L238.8,475.2 L239.3,474.9 L239.8,474.7 L240.3,474.5 L240.8,474.4 L241.3,474.3 L241.8,474.3 L242.3,474.4 L242.8,474.6 L243.3,474.8 L243.8,475.1 L244.3,475.5 L244.8,475.8 L245.3,476.2 L245.8,476.6 L246.3,476.9 L246.8,477.3 L247.3,477.6 L247.8,477.9 L248.3,478.2 L248.8,478.4 L249.3,478.6 L249.8,478.8 L250.3,479.0 L250.8,479.1 L251.3,479.2 L251.8,479.3 L252.3,479.4 L252.8,479.5 L253.3,479.6 L253.8,479.6 L254.3,479.7 L254.8,479.7 L255.3,479.7 L255.8,479.7 L256.3,479.7 L256.8,479.7 L257.3,479.7 L257.8,479.6 L258.3,479.6 L258.8,479.6 L259.3,479.6 L259.8,479.5 L260.3,479.5 L260.8,479.5 L261.3,479.5 L261.8,479.5 L262.3,479.5 L262.8,479.5 L263.3,479.6 L263.8,479.6 L264.3,479.7 L264.8,479.7 L265.3,479.8 L265.8,479.9 L266.3,479.9 L266.8,480.0 L267.3,480.1 L267.8,480.1 L268.3,480.2 L268.8,480.2 L269.3,480.3 L269.8,480.3 L270.3,480.3 L270.8,480.3 L271.3,480.3 L271.8,480.3 L272.3,480.3 L272.8,480.3 L273.3,480.2 L273.8,480.2 L274.3,480.1 L274.8,480.0 L275.3,480.0 L275.8,479.9 L276.3,479.8 L276.8,479.7 L277.3,479.5 L277.8,479.4 L278.3,479.2 L278.8,479.1 L279.3,478.9 L279.8,478.8 L280.3,478.6 L280.8,478.5 L281.3,478.3 L281.8,478.2 L282.3,478.2 L282.8,478.1 L283.3,478.1 L283.8,478.1 L284.3,478.2 L284.8,478.2 L285.3,478.3 L285.8,478.4 L286.3,478.6 L286.8,478.7 L287.3,478.8 L287.8,479.0 L288.3,479.1 L288.8,479.2 L289.3,479.3 L289.8,479.4 L290.3,479.5 L290.8,479.5 L291.3,479.6 L291.8,479.6 L292.3,479.6 L292.8,479.6 L293.3,479.7 L293.8,479.6 L294.3,479.6 L294.8,479.6 L295.3,479.6 L295.8,479.5 L296.3,479.5 L296.8,479.4 L297.3,479.4 L297.8,479.4 L298.3,479.3 L298.8,479.3 L299.3,479.2 L299.8,479.2 L300.3,479.2 L300.8,479.2 L301.3,479.2 L301.8,479.2 L302.3,479.2 L302.8,479.2 L303.3,479.2 L303.8,479.1 L304.3,479.1 L304.8,479.1 L305.3,479.0 L305.8,479.0 L306.3,478.9 L306.8,478.8 L307.3,478.7 L307.8,478.5 L308.3,478.3 L308.8,478.2 L309.3,477.9 L309.8,477.7 L310.3,477.5 L310.8,477.3 L311.3,477.0 L311.8,476.8 L312.3,476.7 L312.8,476.6 L313.3,476.5 L313.8,476.5 L314.3,476.6 L314.8,476.7 L315.3,476.9 L315.8,477.1 L316.3,477.3 L316.8,477.5 L317.3,477.7 L317.8,478.0 L318.3,478.1 L318.8,478.3 L319.3,478.5 L319.8,478.6 L320.3,478.7 L320.8,478.7 L321.3,478.7 L321.8,478.7 L322.3,478.7 L322.8,478.6 L323.3,478.5 L323.8,478.4 L324.3,478.2 L324.8,477.9 L325.3,477.6 L325.8,477.3 L326.3,476.9 L326.8,476.4 L327.3,475.9 L327.8,475.4 L328.3,474.8 L328.8,474.3 L329.3,473.8 L329.8,473.4 L330.3,473.2 L330.8,473.1 L331.3,473.3 L331.8,473.6 L332.3,474.0 L332.8,474.6 L333.3,475.2 L333.8,475.8 L334.3,476.4 L334.8,476.9 L335.3,477.4 L335.8,477.8 L336.3,478.2 L336.8,478.5 L337.3,478.8 L337.8,479.1 L338.3,479.3 L338.8,479.5 L339.3,479.7 L339.8,479.8 L340.3,479.9 L340.8,480.0 L341.3,480.1 L341.8,480.2 L342.3,480.3 L342.8,480.3 L343.3,480.4 L343.8,480.4 L344.3,480.4 L344.8,480.5 L345.3,480.5 L345.8,480.5 L346.3,480.5 L346.8,480.5 L347.3,480.5 L347.8,480.5 L348.3,480.4 L348.8,480.4 L349.3,480.4 L349.8,480.3 L350.3,480.3 L350.8,480.2 L351.3,480.2 L351.8,480.1 L352.3,480.0 L352.8,479.9 L353.3,479.8 L353.8,479.7 L354.3,479.6 L354.8,479.4 L355.3,479.3 L355.8,479.1 L356.3,478.9 L356.8,478.7 L357.3,478.4 L357.8,478.2 L358.3,477.9 L358.8,477.6 L359.3,477.4 L359.8,477.1 L360.3,476.8 L360.8,476.5 L361.3,476.2 L361.8,475.9 L362.3,475.6 L362.8,475.2 L363.3,474.8 L363.8,474.2 L364.3,473.6 L364.8,472.9 L365.3,472.1 L365.8,471.1 L366.3,470.0 L366.8,468.9 L367.3,467.6 L367.8,466.4 L368.3,465.2 L368.8,464.2 L369.3,463.5 L369.8,463.1 L370.3,463.2 L370.8,463.7 L371.3,464.5 L371.8,465.6 L372.3,466.9 L372.8,468.2 L373.3,469.5 L373.8,470.7 L374.3,471.8 L374.8,472.9 L375.3,473.8 L375.8,474.6 L376.3,475.3 L376.8,475.9 L377.3,476.4 L377.8,476.9 L378.3,477.3 L378.8,477.7 L379.3,478.0 L379.8,478.3 L380.3,478.6 L380.8,478.8 L381.3,479.0 L381.8,479.2 L382.3,479.3 L382.8,479.4 L383.3,479.6 L383.8,479.7 L384.3,479.8 L384.8,479.9 L385.3,479.9 L385.8,480.0 L386.3,480.1 L386.8,480.1 L387.3,480.2 L387.8,480.2 L388.3,480.3 L388.8,480.3 L389.3,480.3 L389.8,480.4 L390.3,480.4 L390.8,480.4 L391.3,480.4 L391.8,480.4 L392.3,480.4 L392.8,480.5 L393.3,480.5 L393.8,480.5 L394.3,480.5 L394.8,480.5 L395.3,480.5 L395.8,480.5 L396.3,480.5 L396.8,480.5 L397.3,480.5 L397.8,480.5 L398.3,480.5 L398.8,480.5 L399.3,480.5 L399.8,480.5 L400.3,480.5 L400.8,480.5 L401.3,480.5 L401.8,480.5 L402.3,480.5 L402.8,480.5 L403.3,480.6 L403.8,480.6 L404.3,480.6 L404.8,480.6 L405.3,480.6 L405.8,480.6 L406.3,480.6 L406.8,480.6 L407.3,480.5 L407.8,480.5 L408.3,480.5 L408.8,480.5 L409.3,480.5 L409.8,480.5 L410.3,480.5 L410.8,480.5 L411.3,480.5 L411.8,480.5 L412.3,480.4 L412.8,480.4 L413.3,480.4 L413.8,480.4 L414.3,480.4 L414.8,480.3 L415.3,480.3 L415.8,480.2 L416.3,480.2 L416.8,480.1 L417.3,480.1 L417.8,480.0 L418.3,480.0 L418.8,479.9 L419.3,479.8 L419.8,479.7 L420.3,479.6 L420.8,479.5 L421.3,479.3 L421.8,479.2 L422.3,479.0 L422.8,478.8 L423.3,478.6 L423.8,478.4 L424.3,478.1 L424.8,477.8 L425.3,477.5 L425.8,477.1 L426.3,476.6 L426.8,476.1 L427.3,475.5 L427.8,474.9 L428.3,474.1 L428.8,473.2 L429.3,472.2 L429.8,471.2 L430.3,470.0 L430.8,468.8 L431.3,467.6 L431.8,466.5 L432.3,465.7 L432.8,465.2 L433.3,465.1 L433.8,465.2 L434.3,465.6 L434.8,466.1 L435.3,466.6 L435.8,467.0 L436.3,467.2 L436.8,467.3 L437.3,467.2 L437.8,466.9 L438.3,466.3 L438.8,465.5 L439.3,464.5 L439.8,463.3 L440.3,461.8 L440.8,460.0 L441.3,457.9 L441.8,455.6 L442.3,453.1 L442.8,450.4 L443.3,447.8 L443.8,445.3 L444.3,443.3 L444.8,441.9 L445.3,441.3 L445.8,441.7 L446.3,442.9 L446.8,444.9 L447.3,447.4 L447.8,450.1 L448.3,453.0 L448.8,455.8 L449.3,458.4 L449.8,460.8 L450.3,463.0 L450.8,464.9 L451.3,466.7 L451.8,468.2 L452.3,469.5 L452.8,470.7 L453.3,471.7 L453.8,472.6 L454.3,473.4 L454.8,474.1 L455.3,474.7 L455.8,475.3 L456.3,475.8 L456.8,476.2 L457.3,476.6 L457.8,477.0 L458.3,477.3 L458.8,477.6 L459.3,477.9 L459.8,478.1 L460.3,478.3 L460.8,478.5 L461.3,478.7 L461.8,478.9 L462.3,479.0 L462.8,479.2 L463.3,479.3 L463.8,479.4 L464.3,479.5 L464.8,479.6 L465.3,479.7 L465.8,479.8 L466.3,479.9 L466.8,480.0 L467.3,480.0 L467.8,480.1 L468.3,480.1 L468.8,480.2 L469.3,480.2 L469.8,480.3 L470.3,480.3 L470.8,480.4 L471.3,480.4 L471.8,480.5 L472.3,480.5 L472.8,480.5 L473.3,480.6 L473.8,480.6 L474.3,480.6 L474.8,480.7 L475.3,480.7 L475.8,480.7 L476.3,480.7 L476.8,480.8 L477.3,480.8 L477.8,480.8 L478.3,480.8 L478.8,480.8 L479.3,480.8 L479.8,480.8 L480.3,480.8 L480.8,480.8 L481.3,480.8 L481.8,480.8 L482.3,480.8 L482.8,480.8 L483.3,480.8 L483.8,480.8 L484.3,480.8 L484.8,480.8 L485.3,480.8 L485.8,480.8 L486.3,480.7 L486.8,480.7 L487.3,480.7 L487.8,480.7 L488.3,480.6 L488.8,480.6 L489.3,480.5 L489.8,480.5 L490.3,480.4 L490.8,480.4 L491.3,480.3 L491.8,480.2 L492.3,480.1 L492.8,480.0 L493.3,479.9 L493.8,479.8 L494.3,479.7 L494.8,479.6 L495.3,479.4 L495.8,479.3 L496.3,479.1 L496.8,478.9 L497.3,478.6 L497.8,478.4 L498.3,478.1 L498.8,477.8 L499.3,477.5 L499.8,477.1 L500.3,476.7 L500.8,476.2 L501.3,475.7 L501.8,475.1 L502.3,474.4 L502.8,473.6 L503.3,472.8 L503.8,471.8 L504.3,470.7 L504.8,469.4 L505.3,468.0 L505.8,466.4 L506.3,464.6 L506.8,462.6 L507.3,460.6 L507.8,458.5 L508.3,456.4 L508.8,454.6 L509.3,453.1 L509.8,452.2 L510.3,451.9 L510.8,452.3 L511.3,453.3 L511.8,454.8 L512.3,456.5 L512.8,458.4 L513.3,460.3 L513.8,462.1 L514.3,463.8 L514.8,465.3 L515.3,466.5 L515.8,467.6 L516.3,468.5 L516.8,469.2 L517.3,469.7 L517.8,470.1 L518.3,470.3 L518.8,470.4 L519.3,470.5 L519.8,470.6 L520.3,470.6 L520.8,470.8 L521.3,471.1 L521.8,471.5 L522.3,471.9 L522.8,472.5 L523.3,473.0 L523.8,473.5 L524.3,474.0 L524.8,474.4 L525.3,474.7 L525.8,475.0 L526.3,475.2 L526.8,475.4 L527.3,475.5 L527.8,475.6 L528.3,475.6 L528.8,475.6 L529.3,475.5 L529.8,475.4 L530.3,475.3 L530.8,475.1 L531.3,474.9 L531.8,474.7 L532.3,474.4 L532.8,474.0 L533.3,473.6 L533.8,473.2 L534.3,472.6 L534.8,472.0 L535.3,471.4 L535.8,470.6 L536.3,469.7 L536.8,468.7 L537.3,467.6 L537.8,466.4 L538.3,465.1 L538.8,463.8 L539.3,462.5 L539.8,461.2 L540.3,460.2 L540.8,459.4 L541.3,459.0 L541.8,459.1 L542.3,459.5 L542.8,460.2 L543.3,461.2 L543.8,462.3 L544.3,463.5 L544.8,464.6 L545.3,465.6 L545.8,466.6 L546.3,467.4 L546.8,468.1 L547.3,468.7 L547.8,469.3 L548.3,469.7 L548.8,470.1 L549.3,470.4 L549.8,470.6 L550.3,470.8 L550.8,470.9 L551.3,471.0 L551.8,471.1 L552.3,471.1 L552.8,471.1 L553.3,471.1 L553.8,471.0 L554.3,470.9 L554.8,470.7 L555.3,470.6 L555.8,470.4 L556.3,470.1 L556.8,469.9 L557.3,469.6 L557.8,469.3 L558.3,469.0 L558.8,468.8 L559.3,468.6 L559.8,468.4 L560.3,468.3 L560.8,468.3 L561.3,468.3 L561.8,468.5 L562.3,468.8 L562.8,469.1 L563.3,469.5 L563.8,469.9 L564.3,470.3 L564.8,470.8 L565.3,471.2 L565.8,471.6 L566.3,472.0 L566.8,472.4 L567.3,472.7 L567.8,473.1 L568.3,473.4 L568.8,473.6 L569.3,473.9 L569.8,474.1 L570.3,474.3 L570.8,474.5 L571.3,474.6 L571.8,474.8 L572.3,474.9 L572.8,475.0 L573.3,475.1 L573.8,475.1 L574.3,475.2 L574.8,475.2 L575.3,475.2 L575.8,475.2 L576.3,475.1 L576.8,475.1 L577.3,475.0 L577.8,474.8 L578.3,474.7 L578.8,474.5 L579.3,474.2 L579.8,474.0 L580.3,473.7 L580.8,473.3 L581.3,473.0 L581.8,472.8 L582.3,472.5 L582.8,472.4 L583.3,472.4 L583.8,472.4 L584.3,472.7 L584.8,473.0 L585.3,473.4 L585.8,473.9 L586.3,474.4 L586.8,474.9 L587.3,475.4 L587.8,475.9 L588.3,476.3 L588.8,476.7 L589.3,477.0 L589.8,477.3 L590.3,477.6 L590.8,477.8 L591.3,478.0 L591.8,478.2 L592.3,478.3 L592.8,478.4 L593.3,478.5 L593.8,478.6 L594.3,478.7 L594.8,478.7 L595.3,478.8 L595.8,478.8 L596.3,478.9 L596.8,479.0 L597.3,479.1 L597.8,479.2 L598.3,479.4 L598.8,479.5 L599.3,479.7 L599.8,479.9 L600.3,480.0 L600.8,480.2 L601.3,480.4 L601.8,480.5 L602.3,480.7 L602.8,480.8 L603.3,480.9 L603.8,481.1 L604.3,481.2 L604.8,481.3 L605.3,481.4 L605.8,481.5 L606.3,481.6 L606.8,481.6 L607.3,481.7 L607.8,481.8 L608.3,481.8 L608.8,481.9 L609.3,482.0 L609.8,482.0 L610.3,482.1 L610.8,482.1 L611.3,482.1 L611.8,482.2 L612.3,482.2 L612.8,482.3 L613.3,482.3 L613.8,482.3 L614.3,482.4 L614.8,482.4 L615.3,482.4 L615.8,482.5 L616.3,482.5 L616.8,482.5 L617.3,482.5 L617.8,482.6 L618.3,482.6 L618.8,482.6 L619.3,482.6 L619.8,482.7 L620.3,482.7 L620.8,482.7 L621.3,482.7 L621.8,482.7 L622.3,482.8 L622.8,482.8 L623.3,482.8 L623.8,482.8 L624.3,482.8 L624.8,482.8 L625.3,482.9 L625.8,482.9 L626.3,482.9 L626.8,482.9 L627.3,482.9 L627.8,482.9 L628.3,482.9 L628.8,483.0 L629.3,483.0 L629.8,483.0 L630.3,483.0 L630.8,483.0 L631.3,483.0 L631.8,483.0 L632.3,483.0 L632.8,483.0 L633.3,483.1 L633.8,483.1 L634.3,483.1 L634.8,483.1 L635.3,483.1 L635.8,483.1 L636.3,483.1 L636.8,483.1 L637.3,483.1 L637.8,483.1 L638.3,483.1 L638.8,483.2 L639.3,483.2 L639.8,483.2 L640.3,483.2 L640.8,483.2 L641.3,483.2 L641.8,483.2 L642.3,483.2 L642.8,483.2 L643.3,483.2 L643.8,483.2 L644.3,483.2 L644.8,483.2 L645.3,483.2 L645.8,483.2 L646.3,483.2 L646.8,483.3 L647.3,483.3 L647.8,483.3 L648.3,483.3 L648.8,483.3 L649.3,483.3 L649.8,483.3 L650.3,483.3 L650.8,483.3 L651.3,483.3 L651.8,483.3 L652.3,483.3 L652.8,483.3 L653.3,483.3 L653.8,483.3 L654.3,483.3 L654.8,483.3 L655.3,483.3 L655.8,483.3 L656.3,483.3 L656.8,483.4 L657.3,483.4 L657.8,483.4 L658.3,483.4 L658.8,483.4 L659.3,483.4 L659.8,483.4 L660.3,483.4 L660.8,483.4 L661.3,483.4 L661.8,483.4 L662.3,483.4 L662.8,483.4 L663.3,483.4 L663.8,483.4 L664.3,483.4 L664.8,483.4 L665.3,483.4 L665.8,483.4 L666.3,483.4 L666.8,483.4 L667.3,483.4 L667.8,483.4 L668.3,483.4 L668.8,483.4 L669.3,483.4 L669.8,483.4 L670.3,483.4 L670.8,483.4 L671.3,483.4 L671.8,483.4 L672.3,483.4 L672.8,483.5 L673.3,483.5 L673.8,483.5 L674.3,483.5 L674.8,483.5 L675.3,483.5 L675.8,483.5 L676.3,483.5 L676.8,483.5 L677.3,483.5 L677.8,483.5 L678.3,483.5 L678.8,483.5 L679.3,483.5 L679.8,483.5 L680.3,483.5 L680.8,483.5 L681.3,483.5 L681.8,483.5 L682.3,483.5 L682.8,483.5 L683.3,483.5 L683.8,483.5 L684.3,483.5 L684.8,483.5 L685.3,483.5 L685.8,483.5 L686.3,483.5 L686.8,483.5 L687.3,483.5 L687.8,483.5 L688.3,483.5 L688.8,483.5 L689.3,483.5 L689.8,483.5 L690.3,483.5 L690.8,483.5 L691.3,483.5 L691.8,483.5 L692.3,483.5 L692.8,483.5 L693.3,483.5 L693.8,483.5 L694.3,483.5 L694.8,483.5 L695.3,483.5 L695.8,483.5 L696.3,483.5 L696.8,483.5 L697.3,483.5 L697.8,483.5 L698.3,483.5 L698.8,483.6 L699.3,483.6 L699.8,483.6 L700.3,483.6 L700.8,483.6 L701.3,483.6 L701.8,483.6 L702.3,483.6 L702.8,483.6 L703.3,483.6 L703.8,483.6 L704.3,483.6 L704.8,483.6 L705.3,483.6 L705.8,483.6 L706.3,483.6 L706.8,483.6 L707.3,483.6 L707.8,483.6 L708.3,483.6 L708.8,483.6 L709.3,483.6 L709.8,483.6 L710.3,483.6 L710.8,483.6 L711.3,483.6 L711.8,483.6 L712.3,483.6 L712.8,483.6 L713.3,483.6 L713.8,483.6 L714.3,483.6 L714.8,483.6 L715.3,483.6 L715.8,483.6 L716.3,483.6 L716.8,483.6 L717.3,483.6 L717.8,483.6 L718.3,483.6 L718.8,483.6 L719.3,483.6 L719.8,483.6 L720.3,483.6 L720.8,483.6 L721.3,483.6 L721.8,483.6 L722.3,483.6 L722.8,483.6 L723.3,483.6 L723.8,483.6 L724.3,483.6 L724.8,483.6 L725.3,483.6 L725.8,483.6 L726.3,483.6 L726.8,483.6 L727.3,483.6 L727.8,483.6 L728.3,483.6 L728.8,483.6 L729.3,483.6 L729.8,483.6 L730.3,483.6 L730.8,483.6 L731.3,483.6 L731.8,483.6 L732.3,483.6 L732.8,483.6 L733.3,483.6 L733.8,483.6 L734.3,483.6 L734.8,483.6 L735.3,483.6 L735.8,483.6 L736.3,483.6 L736.8,483.6 L737.3,483.6 L737.8,483.6 L738.3,483.6 L738.8,483.6 L739.3,483.6 L739.8,483.6 L740.3,483.6 L740.8,483.6 L741.3,483.6 L741.8,483.6 L742.3,483.6 L742.8,483.6 L743.3,483.6 L743.8,483.6 L744.3,483.6 L744.8,483.6 L745.3,483.6 L745.8,483.6 L746.3,483.6 L746.8,483.6 L747.3,483.6 L747.8,483.6 L748.3,483.6 L748.8,483.6 L749.3,483.6 L749.8,483.6 L750.3,483.6 L750.8,483.6 L751.3,483.6 L751.8,483.6 L752.3,483.6 L752.8,483.6 L753.3,483.6 L753.8,483.6 L754.3,483.6 L754.8,483.6 L755.3,483.6 L755.8,483.6 L756.3,483.7 L756.8,483.7 L757.3,483.7 L757.8,483.7 L758.3,483.7 L758.8,483.7 L759.3,483.7 L759.8,483.7 L760.3,483.7 L760.8,483.7 L761.3,483.7 L761.8,483.7 L762.3,483.7 L762.8,483.7 L763.3,483.7 L763.8,483.7 L764.3,483.7 L764.8,483.7 L765.3,483.7 L765.8,483.7 L766.3,483.7 L766.8,483.7 L767.3,483.7 L767.8,483.7 L768.3,483.7 L768.8,483.7 L769.3,483.7 L769.8,483.7 L770.3,483.7 L770.8,483.7 L771.3,483.7 L771.8,483.7 L772.3,483.7 L772.8,483.7 L773.3,483.7 L773.8,483.7 L774.3,483.7 L774.8,483.7 L775.3,483.7 L775.8,483.7 L776.3,483.7 L776.8,483.7 L777.3,483.7 L777.8,483.7 L778.3,483.7 L778.8,483.7 L779.3,483.7 L779.8,483.7 L780.3,483.7 L780.8,483.7 L781.3,483.7 L781.8,483.7 L782.3,483.7 L782.8,483.7 L783.3,483.7 L783.8,483.7 L784.3,483.7 L784.8,483.7 L785.3,483.7 L785.8,483.7 L786.3,483.7 L786.8,483.7 L787.3,483.7 L787.8,483.7 L788.3,483.7 L788.8,483.7 L789.3,483.7 L789.8,483.7 L790.3,483.7 L790.8,483.7 L791.3,483.7 L791.8,483.7 L792.3,483.7 L792.8,483.7 L793.3,483.7 L793.8,483.7 L794.3,483.7 L794.8,483.7 L795.3,483.7 L795.8,483.7 L796.3,483.7 L796.8,483.7 L797.3,483.7 L797.8,483.7 L798.3,483.7 L798.8,483.7 L799.3,483.7 L799.8,483.7 L800.3,483.7 L800.8,483.7" stroke="#000052"/>
<path d="M69.3,437.9 L69.8,437.9 L70.3,437.9 L70.8,437.9 L71.3,437.9 L71.8,437.9 L72.3,437.9 L72.8,437.9 L73.3,437.9 L73.8,437.9 L74.3,437.9 L74.8,437.9 L75.3,437.9 L75.8,437.9 L76.3,437.9 L76.8,437.8 L77.3,437.8 L77.8,437.8 L78.3,437.8 L78.8,437.8 L79.3,437.8 L79.8,437.8 L80.3,437.8 L80.8,437.8 L81.3,437.8 L81.8,437.8 L82.3,437.8 L82.8,437.8 L83.3,437.7 L83.8,437.7 L84.3,437.7 L84.8,437.7 L85.3,437.7 L85.8,437.7 L86.3,437.7 L86.8,437.7 L87.3,437.7 L87.8,437.7 L88.3,437.7 L88.8,437.6 L89.3,437.6 L89.8,437.6 L90.3,437.6 L90.8,437.6 L91.3,437.6 L91.8,437.6 L92.3,437.6 L92.8,437.5 L93.3,437.5 L93.8,437.5 L94.3,437.5 L94.8,437.5 L95.3,437.5 L95.8,437.5 L96.3,437.5 L96.8,437.4 L97.3,437.4 L97.8,437.4 L98.3,437.4 L98.8,437.4 L99.3,437.4 L99.8,437.3 L100.3,437.3 L100.8,437.3 L101.3,437.3 L101.8,437.3 L102.3,437.3 L102.8,437.2 L103.3,437.2 L103.8,437.2 L104.3,437.2 L104.8,437.2 L105.3,437.1 L105.8,437.1 L106.3,437.1 L106.8,437.1 L107.3,437.1 L107.8,437.0 L108.3,437.0 L108.8,437.0 L109.3,437.0 L109.8,436.9 L110.3,436.9 L110.8,436.9 L111.3,436.8 L111.8,436.8 L112.3,436.8 L112.8,436.8 L113.3,436.7 L113.8,436.7 L114.3,436.7 L114.8,436.6 L115.3,436.6 L115.8,436.5 L116.3,436.5 L116.8,436.5 L117.3,436.4 L117.8,436.4 L118.3,436.3 L118.8,436.3 L119.3,436.2 L119.8,436.2 L120.3,436.1 L120.8,436.0 L121.3,436.0 L121.8,435.9 L122.3,435.8 L122.8,435.8 L123.3,435.7 L123.8,435.6 L124.3,435.5 L124.8,435.4 L125.3,435.3 L125.8,435.2 L126.3,435.1 L126.8,435.0 L127.3,434.9 L127.8,434.7 L128.3,434.6 L128.8,434.4 L129.3,434.2 L129.8,434.0 L130.3,433.8 L130.8,433.6 L131.3,433.4 L131.8,433.1 L132.3,432.8 L132.8,432.5 L133.3,432.1 L133.8,431.7 L134.3,431.2 L134.8,430.7 L135.3,430.2 L135.8,429.5 L136.3,428.8 L136.8,428.0 L137.3,427.1 L137.8,426.1 L138.3,424.9 L138.8,423.7 L139.3,422.3 L139.8,420.9 L140.3,419.4 L140.8,417.9 L141.3,416.5 L141.8,415.4 L142.3,414.5 L142.8,414.0 L143.3,414.0 L143.8,414.2 L144.3,414.7 L144.8,415.4 L145.3,416.1 L145.8,416.8 L146.3,417.4 L146.8,417.9 L147.3,418.2 L147.8,418.4 L148.3,418.5 L148.8,418.5 L149.3,418.4 L149.8,418.3 L150.3,418.3 L150.8,418.4 L151.3,418.5 L151.8,418.8 L152.3,419.2 L152.8,419.7 L153.3,420.3 L153.8,421.0 L154.3,421.7 L154.8,422.5 L155.3,423.2 L155.8,423.9 L156.3,424.5 L156.8,425.1 L157.3,425.6 L157.8,426.1 L158.3,426.4 L158.8,426.8 L159.3,427.0 L159.8,427.3 L160.3,427.4 L160.8,427.5 L161.3,427.5 L161.8,427.5 L162.3,427.5 L162.8,427.4 L163.3,427.2 L163.8,427.0 L164.3,426.7 L164.8,426.3 L165.3,425.9 L165.8,425.4 L166.3,424.9 L166.8,424.2 L167.3,423.5 L167.8,422.7 L168.3,421.9 L168.8,421.2 L169.3,420.4 L169.8,419.8 L170.3,419.4 L170.8,419.2 L171.3,419.2 L171.8,419.5 L172.3,420.0 L172.8,420.6 L173.3,421.2 L173.8,421.9 L174.3,422.5 L174.8,423.1 L175.3,423.6 L175.8,424.0 L176.3,424.4 L176.8,424.7 L177.3,424.9 L177.8,425.1 L178.3,425.3 L178.8,425.4 L179.3,425.4 L179.8,425.5 L180.3,425.4 L180.8,425.4 L181.3,425.3 L181.8,425.1 L182.3,425.0 L182.8,424.8 L183.3,424.6 L183.8,424.5 L184.3,424.3 L184.8,424.3 L185.3,424.3 L185.8,424.4 L186.3,424.6 L186.8,424.8 L187.3,425.0 L187.8,425.2 L188.3,425.4 L188.8,425.5 L189.3,425.6 L189.8,425.6 L190.3,425.6 L190.8,425.5 L191.3,425.4 L191.8,425.2 L192.3,425.0 L192.8,424.6 L193.3,424.3 L193.8,423.8 L194.3,423.3 L194.8,422.8 L195.3,422.2 L195.8,421.6 L196.3,421.1 L196.8,420.7 L197.3,420.4 L197.8,420.4 L198.3,420.6 L198.8,421.0 L199.3,421.5 L199.8,422.2 L200.3,422.9 L200.8,423.7 L201.3,424.4 L201.8,425.1 L202.3,425.7 L202.8,426.2 L203.3,426.7 L203.8,427.2 L204.3,427.5 L204.8,427.9 L205.3,428.2 L205.8,428.5 L206.3,428.7 L206.8,428.9 L207.3,429.1 L207.8,429.3 L208.3,429.4 L208.8,429.5 L209.3,429.7 L209.8,429.8 L210.3,429.9 L210.8,429.9 L211.3,430.0 L211.8,430.0 L212.3,430.1 L212.8,430.1 L213.3,430.1 L213.8,430.1 L214.3,430.1 L214.8,430.1 L215.3,430.1 L215.8,430.1 L216.3,430.0 L216.8,429.9 L217.3,429.9 L217.8,429.8 L218.3,429.7 L218.8,429.6 L219.3,429.5 L219.8,429.4 L220.3,429.2 L220.8,429.1 L221.3,428.9 L221.8,428.8 L222.3,428.7 L222.8,428.5 L223.3,428.4 L223.8,428.2 L224.3,428.1 L224.8,428.0 L225.3,428.0 L225.8,427.9 L226.3,427.9 L226.8,428.0 L227.3,428.1 L227.8,428.2 L228.3,428.3 L228.8,428.5 L229.3,428.7 L229.8,428.9 L230.3,429.2 L230.8,429.4 L231.3,429.7 L231.8,430.0 L232.3,430.3 L232.8,430.5 L233.3,430.8 L233.8,431.0 L234.3,431.3 L234.8,431.5 L235.3,431.7 L235.8,431.9 L236.3,432.1 L236.8,432.3 L237.3,432.5 L237.8,432.6 L238.3,432.8 L238.8,432.9 L239.3,433.0 L239.8,433.1 L240.3,433.2 L240.8,433.3 L241.3,433.3 L241.8,433.4 L242.3,433.4 L242.8,433.5 L243.3,433.5 L243.8,433.5 L244.3,433.5 L244.8,433.5 L245.3,433.5 L245.8,433.5 L246.3,433.5 L246.8,433.5 L247.3,433.5 L247.8,433.5 L248.3,433.5 L248.8,433.5 L249.3,433.5 L249.8,433.5 L250.3,433.5 L250.8,433.6 L251.3,433.6 L251.8,433.7 L252.3,433.7 L252.8,433.8 L253.3,433.8 L253.8,433.9 L254.3,434.0 L254.8,434.0 L255.3,434.1 L255.8,434.2 L256.3,434.2 L256.8,434.2 L257.3,434.3 L257.8,434.3 L258.3,434.3 L258.8,434.4 L259.3,434.4 L259.8,434.4 L260.3,434.4 L260.8,434.4 L261.3,434.3 L261.8,434.3 L262.3,434.3 L262.8,434.3 L263.3,434.2 L263.8,434.2 L264.3,434.1 L264.8,434.1 L265.3,434.0 L265.8,434.0 L266.3,433.9 L266.8,433.8 L267.3,433.7 L267.8,433.6 L268.3,433.6 L268.8,433.5 L269.3,433.4 L269.8,433.2 L270.3,433.1 L270.8,433.0 L271.3,432.9 L271.8,432.7 L272.3,432.6 L272.8,432.5 L273.3,432.3 L273.8,432.2 L274.3,432.1 L274.8,432.0 L275.3,431.9 L275.8,431.8 L276.3,431.7 L276.8,431.6 L277.3,431.6 L277.8,431.6 L278.3,431.6 L278.8,431.6 L279.3,431.7 L279.8,431.7 L280.3,431.8 L280.8,431.9 L281.3,432.0 L281.8,432.1 L282.3,432.2 L282.8,432.3 L283.3,432.5 L283.8,432.6 L284.3,432.7 L284.8,432.8 L285.3,432.9 L285.8,433.0 L286.3,433.1 L286.8,433.2 L287.3,433.2 L287.8,433.3 L288.3,433.3 L288.8,433.3 L289.3,433.4 L289.8,433.4 L290.3,433.4 L290.8,433.3 L291.3,433.3 L291.8,433.2 L292.3,433.2 L292.8,433.1 L293.3,433.0 L293.8,432.9 L294.3,432.7 L294.8,432.6 L295.3,432.4 L295.8,432.3 L296.3,432.1 L296.8,431.9 L297.3,431.7 L297.8,431.5 L298.3,431.3 L298.8,431.1 L299.3,431.0 L299.8,430.8 L300.3,430.7 L300.8,430.6 L301.3,430.5 L301.8,430.5 L302.3,430.5 L302.8,430.5 L303.3,430.6 L303.8,430.7 L304.3,430.8 L304.8,430.9 L305.3,431.0 L305.8,431.2 L306.3,431.3 L306.8,431.4 L307.3,431.5 L307.8,431.6 L308.3,431.6 L308.8,431.6 L309.3,431.6 L309.8,431.6 L310.3,431.5 L310.8,431.4 L311.3,431.3 L311.8,431.2 L312.3,431.0 L312.8,430.8 L313.3,430.7 L313.8,430.5 L314.3,430.3 L314.8,430.2 L315.3,430.1 L315.8,430.0 L316.3,430.0 L316.8,430.0 L317.3,430.1 L317.8,430.2 L318.3,430.4 L318.8,430.5 L319.3,430.7 L319.8,430.8 L320.3,430.9 L320.8,431.0 L321.3,431.0 L321.8,431.0 L322.3,431.0 L322.8,430.9 L323.3,430.8 L323.8,430.7 L324.3,430.4 L324.8,430.2 L325.3,429.9 L325.8,429.5 L326.3,429.0 L326.8,428.5 L327.3,427.9 L327.8,427.3 L328.3,426.6 L328.8,425.8 L329.3,425.0 L329.8,424.1 L330.3,423.3 L330.8,422.4 L331.3,421.7 L331.8,421.1 L332.3,420.6 L332.8,420.4 L333.3,420.4 L333.8,420.5 L334.3,420.9 L334.8,421.3 L335.3,421.8 L335.8,422.3 L336.3,422.9 L336.8,423.3 L337.3,423.7 L337.8,424.0 L338.3,424.2 L338.8,424.2 L339.3,424.2 L339.8,424.1 L340.3,423.9 L340.8,423.7 L341.3,423.4 L341.8,423.2 L342.3,423.0 L342.8,422.9 L343.3,422.9 L343.8,423.1 L344.3,423.4 L344.8,423.8 L345.3,424.4 L345.8,425.0 L346.3,425.7 L346.8,426.4 L347.3,427.1 L347.8,427.7 L348.3,428.3 L348.8,428.8 L349.3,429.3 L349.8,429.8 L350.3,430.1 L350.8,430.4 L351.3,430.7 L351.8,430.9 L352.3,431.0 L352.8,431.1 L353.3,431.2 L353.8,431.1 L354.3,431.0 L354.8,430.9 L355.3,430.7 L355.8,430.4 L356.3,430.1 L356.8,429.8 L357.3,429.5 L357.8,429.3 L358.3,429.3 L358.8,429.4 L359.3,429.6 L359.8,430.0 L360.3,430.6 L360.8,431.1 L361.3,431.7 L361.8,432.2 L362.3,432.7 L362.8,433.1 L363.3,433.5 L363.8,433.9 L364.3,434.2 L364.8,434.5 L365.3,434.7 L365.8,434.9 L366.3,435.1 L366.8,435.3 L367.3,435.4 L367.8,435.5 L368.3,435.7 L368.8,435.8 L369.3,435.9 L369.8,436.0 L370.3,436.0 L370.8,436.1 L371.3,436.2 L371.8,436.2 L372.3,436.3 L372.8,436.4 L373.3,436.4 L373.8,436.4 L374.3,436.5 L374.8,436.5 L375.3,436.6 L375.8,436.6 L376.3,436.6 L376.8,436.7 L377.3,436.7 L377.8,436.7 L378.3,436.7 L378.8,436.8 L379.3,436.8 L379.8,436.8 L380.3,436.8 L380.8,436.8 L381.3,436.8 L381.8,436.9 L382.3,436.9 L382.8,436.9 L383.3,436.9 L383.8,436.9 L384.3,436.9 L384.8,436.9 L385.3,436.9 L385.8,436.9 L386.3,436.9 L386.8,436.9 L387.3,436.9 L387.8,436.9 L388.3,436.9 L388.8,436.9 L389.3,436.9 L389.8,436.9 L390.3,436.9 L390.8,436.9 L391.3,436.9 L391.8,436.9 L392.3,436.9 L392.8,436.9 L393.3,436.9 L393.8,436.9 L394.3,436.9 L394.8,436.9 L395.3,436.9 L395.8,436.9 L396.3,436.8 L396.8,436.8 L397.3,436.8 L397.8,436.8 L398.3,436.8 L398.8,436.8 L399.3,436.7 L399.8,436.7 L400.3,436.7 L400.8,436.7 L401.3,436.7 L401.8,436.6 L402.3,436.6 L402.8,436.6 L403.3,436.6 L403.8,436.5 L404.3,436.5 L404.8,436.5 L405.3,436.4 L405.8,436.4 L406.3,436.3 L406.8,436.3 L407.3,436.2 L407.8,436.2 L408.3,436.1 L408.8,436.1 L409.3,436.0 L409.8,436.0 L410.3,435.9 L410.8,435.8 L411.3,435.7 L411.8,435.7 L412.3,435.6 L412.8,435.5 L413.3,435.4 L413.8,435.3 L414.3,435.2 L414.8,435.0 L415.3,434.9 L415.8,434.8 L416.3,434.6 L416.8,434.4 L417.3,434.3 L417.8,434.1 L418.3,433.8 L418.8,433.6 L419.3,433.3 L419.8,433.0 L420.3,432.7 L420.8,432.3 L421.3,431.9 L421.8,431.5 L422.3,431.0 L422.8,430.4 L423.3,429.8 L423.8,429.1 L424.3,428.3 L424.8,427.4 L425.3,426.3 L425.8,425.2 L426.3,424.0 L426.8,422.6 L427.3,421.2 L427.8,419.8 L428.3,418.5 L428.8,417.4 L429.3,416.5 L429.8,416.0 L430.3,415.9 L430.8,416.2 L431.3,416.9 L431.8,417.9 L432.3,419.0 L432.8,420.2 L433.3,421.3 L433.8,422.4 L434.3,423.3 L434.8,424.1 L435.3,424.9 L435.8,425.5 L436.3,426.0 L436.8,426.4 L437.3,426.7 L437.8,426.9 L438.3,427.0 L438.8,427.1 L439.3,427.1 L439.8,427.0 L440.3,426.9 L440.8,426.7 L441.3,426.4 L441.8,426.1 L442.3,425.7 L442.8,425.2 L443.3,424.6 L443.8,423.9 L444.3,423.1 L444.8,422.2 L445.3,421.2 L445.8,420.0 L446.3,418.6 L446.8,417.0 L447.3,415.2 L447.8,413.2 L448.3,410.8 L448.8,408.1 L449.3,405.1 L449.8,401.7 L450.3,397.9 L450.8,393.9 L451.3,389.7 L451.8,385.6 L452.3,381.7 L452.8,378.5 L453.3,376.3 L453.8,375.4 L454.3,375.9 L454.8,377.7 L455.3,380.7 L455.8,384.5 L456.3,388.7 L456.8,393.0 L457.3,397.2 L457.8,401.2 L458.3,404.9 L458.8,408.2 L459.3,411.1 L459.8,413.7 L460.3,416.0 L460.8,418.1 L461.3,419.9 L461.8,421.5 L462.3,422.8 L462.8,424.1 L463.3,425.2 L463.8,426.2 L464.3,427.0 L464.8,427.8 L465.3,428.5 L465.8,429.1 L466.3,429.7 L466.8,430.2 L467.3,430.7 L467.8,431.1 L468.3,431.5 L468.8,431.9 L469.3,432.2 L469.8,432.5 L470.3,432.7 L470.8,433.0 L471.3,433.2 L471.8,433.4 L472.3,433.6 L472.8,433.8 L473.3,434.0 L473.8,434.2 L474.3,434.3 L474.8,434.4 L475.3,434.6 L475.8,434.7 L476.3,434.8 L476.8,434.9 L477.3,435.0 L477.8,435.1 L478.3,435.2 L478.8,435.3 L479.3,435.3 L479.8,435.4 L480.3,435.5 L480.8,435.5 L481.3,435.6 L481.8,435.6 L482.3,435.7 L482.8,435.7 L483.3,435.8 L483.8,435.8 L484.3,435.8 L484.8,435.9 L485.3,435.9 L485.8,435.9 L486.3,436.0 L486.8,436.0 L487.3,436.0 L487.8,436.0 L488.3,436.0 L488.8,436.0 L489.3,436.0 L489.8,436.0 L490.3,436.0 L490.8,436.0 L491.3,436.0 L491.8,436.0 L492.3,436.0 L492.8,436.0 L493.3,436.0 L493.8,436.0 L494.3,436.0 L494.8,435.9 L495.3,435.9 L495.8,435.9 L496.3,435.8 L496.8,435.8 L497.3,435.8 L497.8,435.7 L498.3,435.7 L498.8,435.6 L499.3,435.5 L499.8,435.4 L500.3,435.4 L500.8,435.3 L501.3,435.2 L501.8,435.0 L502.3,434.9 L502.8,434.8 L503.3,434.6 L503.8,434.4 L504.3,434.2 L504.8,434.0 L505.3,433.8 L505.8,433.5 L506.3,433.2 L506.8,432.8 L507.3,432.5 L507.8,432.0 L508.3,431.5 L508.8,431.0 L509.3,430.4 L509.8,429.7 L510.3,428.9 L510.8,428.0 L511.3,427.1 L511.8,426.1 L512.3,425.1 L512.8,424.0 L513.3,423.0 L513.8,422.1 L514.3,421.4 L514.8,420.9 L515.3,420.7 L515.8,420.8 L516.3,421.3 L516.8,422.0 L517.3,422.9 L517.8,423.8 L518.3,424.9 L518.8,425.9 L519.3,426.8 L519.8,427.7 L520.3,428.5 L520.8,429.3 L521.3,429.9 L521.8,430.5 L522.3,431.0 L522.8,431.5 L523.3,431.9 L523.8,432.2 L524.3,432.5 L524.8,432.8 L525.3,433.0 L525.8,433.2 L526.3,433.3 L526.8,433.5 L527.3,433.6 L527.8,433.7 L528.3,433.7 L528.8,433.8 L529.3,433.8 L529.8,433.9 L530.3,433.9 L530.8,433.8 L531.3,433.8 L531.8,433.8 L532.3,433.7 L532.8,433.6 L533.3,433.5 L533.8,433.4 L534.3,433.3 L534.8,433.1 L535.3,432.9 L535.8,432.8 L536.3,432.5 L536.8,432.3 L537.3,432.0 L537.8,431.7 L538.3,431.3 L538.8,431.0 L539.3,430.5 L539.8,430.1 L540.3,429.6 L540.8,429.0 L541.3,428.5 L541.8,427.9 L542.3,427.3 L542.8,426.7 L543.3,426.1 L543.8,425.6 L544.3,425.2 L544.8,424.9 L545.3,424.7 L545.8,424.7 L546.3,424.7 L546.8,424.9 L547.3,425.2 L547.8,425.5 L548.3,425.9 L548.8,426.3 L549.3,426.7 L549.8,427.1 L550.3,427.4 L550.8,427.7 L551.3,427.9 L551.8,428.1 L552.3,428.2 L552.8,428.3 L553.3,428.3 L553.8,428.3 L554.3,428.3 L554.8,428.2 L555.3,428.1 L555.8,427.9 L556.3,427.7 L556.8,427.5 L557.3,427.3 L557.8,427.1 L558.3,426.9 L558.8,426.7 L559.3,426.6 L559.8,426.6 L560.3,426.6 L560.8,426.6 L561.3,426.7 L561.8,426.8 L562.3,426.9 L562.8,427.1 L563.3,427.2 L563.8,427.3 L564.3,427.5 L564.8,427.6 L565.3,427.7 L565.8,427.8 L566.3,427.8 L566.8,427.9 L567.3,427.9 L567.8,427.9 L568.3,427.9 L568.8,427.9 L569.3,427.8 L569.8,427.7 L570.3,427.6 L570.8,427.5 L571.3,427.4 L571.8,427.2 L572.3,426.9 L572.8,426.7 L573.3,426.4 L573.8,426.1 L574.3,425.8 L574.8,425.5 L575.3,425.2 L575.8,425.1 L576.3,425.0 L576.8,425.0 L577.3,425.1 L577.8,425.4 L578.3,425.8 L578.8,426.2 L579.3,426.6 L579.8,427.1 L580.3,427.6 L580.8,428.1 L581.3,428.5 L581.8,428.9 L582.3,429.3 L582.8,429.6 L583.3,429.9 L583.8,430.2 L584.3,430.4 L584.8,430.7 L585.3,430.8 L585.8,431.0 L586.3,431.2 L586.8,431.3 L587.3,431.4 L587.8,431.5 L588.3,431.6 L588.8,431.6 L589.3,431.6 L589.8,431.6 L590.3,431.6 L590.8,431.6 L591.3,431.5 L591.8,431.4 L592.3,431.3 L592.8,431.2 L593.3,431.0 L593.8,430.9 L594.3,430.7 L594.8,430.4 L595.3,430.2 L595.8,429.9 L596.3,429.7 L596.8,429.4 L597.3,429.2 L597.8,429.0 L598.3,428.8 L598.8,428.7 L599.3,428.7 L599.8,428.7 L600.3,428.9 L600.8,429.1 L601.3,429.4 L601.8,429.7 L602.3,430.0 L602.8,430.4 L603.3,430.8 L603.8,431.2 L604.3,431.6 L604.8,432.0 L605.3,432.3 L605.8,432.7 L606.3,433.0 L606.8,433.3 L607.3,433.5 L607.8,433.8 L608.3,434.0 L608.8,434.2 L609.3,434.4 L609.8,434.6 L610.3,434.8 L610.8,434.9 L611.3,435.1 L611.8,435.2 L612.3,435.3 L612.8,435.4 L613.3,435.5 L613.8,435.6 L614.3,435.7 L614.8,435.8 L615.3,435.9 L615.8,436.0 L616.3,436.1 L616.8,436.1 L617.3,436.2 L617.8,436.3 L618.3,436.3 L618.8,436.4 L619.3,436.5 L619.8,436.5 L620.3,436.6 L620.8,436.6 L621.3,436.7 L621.8,436.7 L622.3,436.8 L622.8,436.8 L623.3,436.9 L623.8,436.9 L624.3,436.9 L624.8,437.0 L625.3,437.0 L625.8,437.0 L626.3,437.1 L626.8,437.1 L627.3,437.1 L627.8,437.2 L628.3,437.2 L628.8,437.2 L629.3,437.2 L629.8,437.3 L630.3,437.3 L630.8,437.3 L631.3,437.3 L631.8,437.4 L632.3,437.4 L632.8,437.4 L633.3,437.4 L633.8,437.4 L634.3,437.5 L634.8,437.5 L635.3,437.5 L635.8,437.5 L636.3,437.5 L636.8,437.6 L637.3,437.6 L637.8,437.6 L638.3,437.6 L638.8,437.6 L639.3,437.6 L639.8,437.6 L640.3,437.7 L640.8,437.7 L641.3,437.7 L641.8,437.7 L642.3,437.7 L642.8,437.7 L643.3,437.7 L643.8,437.7 L644.3,437.7 L644.8,437.8 L645.3,437.8 L645.8,437.8 L646.3,437.8 L646.8,437.8 L647.3,437.8 L647.8,437.8 L648.3,437.8 L648.8,437.8 L649.3,437.8 L649.8,437.8 L650.3,437.9 L650.8,437.9 L651.3,437.9 L651.8,437.9 L652.3,437.9 L652.8,437.9 L653.3,437.9 L653.8,437.9 L654.3,437.9 L654.8,437.9 L655.3,437.9 L655.8,437.9 L656.3,437.9 L656.8,437.9 L657.3,437.9 L657.8,438.0 L658.3,438.0 L658.8,438.0 L659.3,438.0 L659.8,438.0 L660.3,438.0 L660.8,438.0 L661.3,438.0 L661.8,438.0 L662.3,438.0 L662.8,438.0 L663.3,438.0 L663.8,438.0 L664.3,438.0 L664.8,438.0 L665.3,438.0 L665.8,438.0 L666.3,438.0 L666.8,438.0 L667.3,438.0 L667.8,438.0 L668.3,438.0 L668.8,438.1 L669.3,438.1 L669.8,438.1 L670.3,438.1 L670.8,438.1 L671.3,438.1 L671.8,438.1 L672.3,438.1 L672.8,438.1 L673.3,438.1 L673.8,438.1 L674.3,438.1 L674.8,438.1 L675.3,438.1 L675.8,438.1 L676.3,438.1 L676.8,438.1 L677.3,438.1 L677.8,438.1 L678.3,438.1 L678.8,438.1 L679.3,438.1 L679.8,438.1 L680.3,438.1 L680.8,438.1 L681.3,438.1 L681.8,438.1 L682.3,438.1 L682.8,438.1 L683.3,438.1 L683.8,438.1 L684.3,438.1 L684.8,438.1 L685.3,438.1 L685.8,438.2 L686.3,438.2 L686.8,438.2 L687.3,438.2 L687.8,438.2 L688.3,438.2 L688.8,438.2 L689.3,438.2 L689.8,438.2 L690.3,438.2 L690.8,438.2 L691.3,438.2 L691.8,438.2 L692.3,438.2 L692.8,438.2 L693.3,438.2 L693.8,438.2 L694.3,438.2 L694.8,438.2 L695.3,438.2 L695.8,438.2 L696.3,438.2 L696.8,438.2 L697.3,438.2 L697.8,438.2 L698.3,438.2 L698.8,438.2 L699.3,438.2 L699.8,438.2 L700.3,438.2 L700.8,438.2 L701.3,438.2 L701.8,438.2 L702.3,438.2 L702.8,438.2 L703.3,438.2 L703.8,438.2 L704.3,438.2 L704.8,438.2 L705.3,438.2 L705.8,438.2 L706.3,438.2 L706.8,438.2 L707.3,438.2 L707.8,438.2 L708.3,438.2 L708.8,438.2 L709.3,438.2 L709.8,438.2 L710.3,438.2 L710.8,438.2 L711.3,438.2 L711.8,438.2 L712.3,438.2 L712.8,438.2 L713.3,438.2 L713.8,438.2 L714.3,438.2 L714.8,438.2 L715.3,438.2 L715.8,438.2 L716.3,438.2 L716.8,438.2 L717.3,438.2 L717.8,438.2 L718.3,438.2 L718.8,438.2 L719.3,438.2 L719.8,438.2 L720.3,438.2 L720.8,438.2 L721.3,438.2 L721.8,438.2 L722.3,438.2 L722.8,438.2 L723.3,438.2 L723.8,438.2 L724.3,438.2 L724.8,438.2 L725.3,438.2 L725.8,438.2 L726.3,438.2 L726.8,438.2 L727.3,438.2 L727.8,438.2 L728.3,438.2 L728.8,438.2 L729.3,438.2 L729.8,438.2 L730.3,438.2 L730.8,438.2 L731.3,438.2 L731.8,438.2 L732.3,438.2 L732.8,438.2 L733.3,438.2 L733.8,438.2 L734.3,438.2 L734.8,438.2 L735.3,438.2 L735.8,438.2 L736.3,438.2 L736.8,438.2 L737.3,438.2 L737.8,438.2 L738.3,438.2 L738.8,438.2 L739.3,438.2 L739.8,438.2 L740.3,438.2 L740.8,438.2 L741.3,438.2 L741.8,438.2 L742.3,438.2 L742.8,438.2 L743.3,438.2 L743.8,438.2 L744.3,438.2 L744.8,438.2 L745.3,438.2 L745.8,438.2 L746.3,438.2 L746.8,438.2 L747.3,438.2 L747.8,438.2 L748.3,438.2 L748.8,438.2 L749.3,438.2 L749.8,438.2 L750.3,438.2 L750.8,438.2 L751.3,438.2 L751.8,438.2 L752.3,438.2 L752.8,438.2 L753.3,438.2 L753.8,438.2 L754.3,438.2 L754.8,438.2 L755.3,438.2 L755.8,438.3 L756.3,438.3 L756.8,438.3 L757.3,438.3 L757.8,438.3 L758.3,438.3 L758.8,438.3 L759.3,438.3 L759.8,438.3 L760.3,438.3 L760.8,438.3 L761.3,438.3 L761.8,438.3 L762.3,438.3 L762.8,438.3 L763.3,438.3 L763.8,438.3 L764.3,438.3 L764.8,438.3 L765.3,438.3 L765.8,438.3 L766.3,438.3 L766.8,438.3 L767.3,438.3 L767.8,438.3 L768.3,438.3 L768.8,438.3 L769.3,438.3 L769.8,438.3 L770.3,438.3 L770.8,438.3 L771.3,438.3 L771.8,438.3 L772.3,438.3 L772.8,438.3 L773.3,438.3 L773.8,438.3 L774.3,438.3 L774.8,438.3 L775.3,438.3 L775.8,438.3 L776.3,438.3 L776.8,438.3 L777.3,438.3 L777.8,438.3 L778.3,438.3 L778.8,438.3 L779.3,438.3 L779.8,438.3 L780.3,438.3 L780.8,438.3 L781.3,438.3 L781.8,438.3 L782.3,438.3 L782.8,438.3 L783.3,438.3 L783.8,438.3 L784.3,438.3 L784.8,438.3 L785.3,438.3 L785.8,438.3 L786.3,438.3 L786.8,438.3 L787.3,438.3 L787.8,438.3 L788.3,438.3 L788.8,438.3 L789.3,438.3 L789.8,438.3 L790.3,438.3 L790.8,438.3 L791.3,438.3 L791.8,438.3 L792.3,438.3 L792.8,438.3 L793.3,438.3 L793.8,438.3 L794.3,438.3 L794.8,438.3 L795.3,438.3 L795.8,438.3 L796.3,438.3 L796.8,438.3 L797.3,438.3 L797.8,438.3 L798.3,438.4 L798.8,438.4 L799.3,438.4 L799.8,438.4 L800.3,438.4 L800.8,438.4" stroke="#0000a3"/>
<path d="M69.3,392.4 L69.8,392.4 L70.3,392.4 L70.8,392.4 L71.3,392.4 L71.8,392.4 L72.3,392.3 L72.8,392.3 L73.3,392.3 L73.8,392.3 L74.3,392.3 L74.8,392.3 L75.3,392.3 L75.8,392.2 L76.3,392.2 L76.8,392.2 L77.3,392.2 L77.8,392.2 L78.3,392.1 L78.8,392.1 L79.3,392.1 L79.8,392.1 L80.3,392.1 L80.8,392.0 L81.3,392.0 L81.8,392.0 L82.3,392.0 L82.8,391.9 L83.3,391.9 L83.8,391.9 L84.3,391.8 L84.8,391.8 L85.3,391.8 L85.8,391.7 L86.3,391.7 L86.8,391.6 L87.3,391.6 L87.8,391.5 L88.3,391.5 L88.8,391.4 L89.3,391.4 L89.8,391.3 L90.3,391.3 L90.8,391.2 L91.3,391.1 L91.8,391.1 L92.3,391.0 L92.8,390.9 L93.3,390.8 L93.8,390.7 L94.3,390.6 L94.8,390.5 L95.3,390.4 L95.8,390.3 L96.3,390.2 L96.8,390.1 L97.3,390.0 L97.8,389.9 L98.3,389.8 L98.8,389.7 L99.3,389.6 L99.8,389.5 L100.3,389.4 L100.8,389.3 L101.3,389.3 L101.8,389.2 L102.3,389.1 L102.8,389.0 L103.3,389.0 L103.8,388.9 L104.3,388.8 L104.8,388.7 L105.3,388.6 L105.8,388.4 L106.3,388.3 L106.8,388.1 L107.3,387.9 L107.8,387.7 L108.3,387.5 L108.8,387.2 L109.3,386.8 L109.8,386.5 L110.3,386.0 L110.8,385.5 L111.3,385.0 L111.8,384.3 L112.3,383.6 L112.8,382.8 L113.3,381.9 L113.8,380.9 L114.3,379.8 L114.8,378.7 L115.3,377.6 L115.8,376.6 L116.3,375.7 L116.8,375.1 L117.3,374.7 L117.8,374.7 L118.3,375.1 L118.8,375.7 L119.3,376.5 L119.8,377.4 L120.3,378.3 L120.8,379.1 L121.3,379.9 L121.8,380.6 L122.3,381.1 L122.8,381.5 L123.3,381.8 L123.8,382.0 L124.3,382.1 L124.8,382.1 L125.3,382.1 L125.8,381.9 L126.3,381.7 L126.8,381.6 L127.3,381.4 L127.8,381.4 L128.3,381.4 L128.8,381.5 L129.3,381.7 L129.8,382.0 L130.3,382.4 L130.8,382.9 L131.3,383.3 L131.8,383.8 L132.3,384.2 L132.8,384.6 L133.3,384.9 L133.8,385.2 L134.3,385.4 L134.8,385.6 L135.3,385.7 L135.8,385.8 L136.3,385.8 L136.8,385.8 L137.3,385.8 L137.8,385.7 L138.3,385.6 L138.8,385.4 L139.3,385.2 L139.8,385.0 L140.3,384.7 L140.8,384.3 L141.3,383.9 L141.8,383.4 L142.3,382.9 L142.8,382.3 L143.3,381.7 L143.8,381.1 L144.3,380.6 L144.8,380.1 L145.3,379.7 L145.8,379.5 L146.3,379.5 L146.8,379.7 L147.3,379.9 L147.8,380.3 L148.3,380.8 L148.8,381.3 L149.3,381.7 L149.8,382.1 L150.3,382.5 L150.8,382.8 L151.3,383.1 L151.8,383.3 L152.3,383.5 L152.8,383.7 L153.3,383.8 L153.8,383.9 L154.3,384.0 L154.8,384.0 L155.3,384.1 L155.8,384.1 L156.3,384.1 L156.8,384.1 L157.3,384.1 L157.8,384.1 L158.3,384.1 L158.8,384.1 L159.3,384.1 L159.8,384.1 L160.3,384.0 L160.8,384.0 L161.3,384.0 L161.8,384.0 L162.3,384.0 L162.8,383.9 L163.3,383.9 L163.8,383.8 L164.3,383.8 L164.8,383.7 L165.3,383.6 L165.8,383.5 L166.3,383.4 L166.8,383.3 L167.3,383.1 L167.8,383.0 L168.3,382.7 L168.8,382.5 L169.3,382.3 L169.8,382.0 L170.3,381.7 L170.8,381.4 L171.3,381.1 L171.8,380.8 L172.3,380.5 L172.8,380.2 L173.3,380.0 L173.8,379.7 L174.3,379.6 L174.8,379.5 L175.3,379.5 L175.8,379.6 L176.3,379.7 L176.8,379.9 L177.3,380.2 L177.8,380.5 L178.3,380.8 L178.8,381.2 L179.3,381.5 L179.8,381.9 L180.3,382.3 L180.8,382.6 L181.3,383.0 L181.8,383.3 L182.3,383.6 L182.8,383.8 L183.3,384.1 L183.8,384.3 L184.3,384.5 L184.8,384.7 L185.3,384.9 L185.8,385.0 L186.3,385.2 L186.8,385.3 L187.3,385.4 L187.8,385.5 L188.3,385.6 L188.8,385.7 L189.3,385.8 L189.8,385.8 L190.3,385.9 L190.8,386.0 L191.3,386.0 L191.8,386.0 L192.3,386.1 L192.8,386.1 L193.3,386.1 L193.8,386.1 L194.3,386.2 L194.8,386.2 L195.3,386.2 L195.8,386.2 L196.3,386.2 L196.8,386.1 L197.3,386.1 L197.8,386.1 L198.3,386.0 L198.8,386.0 L199.3,385.9 L199.8,385.8 L200.3,385.7 L200.8,385.6 L201.3,385.5 L201.8,385.3 L202.3,385.1 L202.8,384.9 L203.3,384.7 L203.8,384.5 L204.3,384.2 L204.8,383.9 L205.3,383.5 L205.8,383.2 L206.3,382.9 L206.8,382.5 L207.3,382.2 L207.8,381.9 L208.3,381.7 L208.8,381.5 L209.3,381.4 L209.8,381.4 L210.3,381.5 L210.8,381.6 L211.3,381.8 L211.8,382.0 L212.3,382.2 L212.8,382.5 L213.3,382.7 L213.8,382.8 L214.3,383.0 L214.8,383.1 L215.3,383.2 L215.8,383.2 L216.3,383.1 L216.8,383.1 L217.3,383.0 L217.8,382.9 L218.3,382.7 L218.8,382.7 L219.3,382.6 L219.8,382.7 L220.3,382.8 L220.8,383.0 L221.3,383.2 L221.8,383.5 L222.3,383.9 L222.8,384.2 L223.3,384.6 L223.8,384.9 L224.3,385.2 L224.8,385.5 L225.3,385.8 L225.8,386.0 L226.3,386.2 L226.8,386.4 L227.3,386.6 L227.8,386.7 L228.3,386.9 L228.8,387.0 L229.3,387.1 L229.8,387.2 L230.3,387.3 L230.8,387.3 L231.3,387.4 L231.8,387.4 L232.3,387.5 L232.8,387.5 L233.3,387.6 L233.8,387.6 L234.3,387.6 L234.8,387.6 L235.3,387.6 L235.8,387.6 L236.3,387.5 L236.8,387.5 L237.3,387.4 L237.8,387.3 L238.3,387.2 L238.8,387.1 L239.3,387.0 L239.8,386.9 L240.3,386.8 L240.8,386.7 L241.3,386.6 L241.8,386.5 L242.3,386.5 L242.8,386.5 L243.3,386.5 L243.8,386.6 L244.3,386.8 L244.8,386.9 L245.3,387.1 L245.8,387.3 L246.3,387.5 L246.8,387.7 L247.3,387.9 L247.8,388.1 L248.3,388.3 L248.8,388.4 L249.3,388.6 L249.8,388.7 L250.3,388.8 L250.8,388.9 L251.3,389.0 L251.8,389.1 L252.3,389.2 L252.8,389.2 L253.3,389.3 L253.8,389.3 L254.3,389.3 L254.8,389.3 L255.3,389.4 L255.8,389.4 L256.3,389.4 L256.8,389.3 L257.3,389.3 L257.8,389.3 L258.3,389.2 L258.8,389.2 L259.3,389.1 L259.8,389.1 L260.3,389.0 L260.8,388.9 L261.3,388.8 L261.8,388.7 L262.3,388.5 L262.8,388.4 L263.3,388.2 L263.8,388.1 L264.3,387.9 L264.8,387.7 L265.3,387.5 L265.8,387.3 L266.3,387.0 L266.8,386.8 L267.3,386.6 L267.8,386.4 L268.3,386.2 L268.8,386.1 L269.3,386.0 L269.8,385.9 L270.3,385.9 L270.8,385.9 L271.3,385.9 L271.8,386.0 L272.3,386.0 L272.8,386.1 L273.3,386.2 L273.8,386.2 L274.3,386.3 L274.8,386.4 L275.3,386.4 L275.8,386.5 L276.3,386.5 L276.8,386.5 L277.3,386.5 L277.8,386.6 L278.3,386.6 L278.8,386.6 L279.3,386.6 L279.8,386.6 L280.3,386.6 L280.8,386.6 L281.3,386.6 L281.8,386.6 L282.3,386.6 L282.8,386.6 L283.3,386.6 L283.8,386.6 L284.3,386.6 L284.8,386.5 L285.3,386.5 L285.8,386.4 L286.3,386.4 L286.8,386.3 L287.3,386.2 L287.8,386.1 L288.3,386.1 L288.8,386.0 L289.3,385.9 L289.8,385.8 L290.3,385.7 L290.8,385.6 L291.3,385.6 L291.8,385.6 L292.3,385.6 L292.8,385.6 L293.3,385.6 L293.8,385.7 L294.3,385.8 L294.8,386.0 L295.3,386.1 L295.8,386.3 L296.3,386.5 L296.8,386.7 L297.3,386.8 L297.8,387.0 L298.3,387.2 L298.8,387.4 L299.3,387.5 L299.8,387.7 L300.3,387.8 L300.8,388.0 L301.3,388.1 L301.8,388.2 L302.3,388.3 L302.8,388.3 L303.3,388.4 L303.8,388.4 L304.3,388.5 L304.8,388.5 L305.3,388.5 L305.8,388.4 L306.3,388.4 L306.8,388.4 L307.3,388.3 L307.8,388.2 L308.3,388.0 L308.8,387.9 L309.3,387.7 L309.8,387.5 L310.3,387.2 L310.8,386.8 L311.3,386.5 L311.8,386.0 L312.3,385.5 L312.8,384.9 L313.3,384.3 L313.8,383.6 L314.3,382.9 L314.8,382.3 L315.3,381.8 L315.8,381.6 L316.3,381.5 L316.8,381.7 L317.3,382.0 L317.8,382.5 L318.3,383.0 L318.8,383.5 L319.3,383.9 L319.8,384.3 L320.3,384.6 L320.8,384.8 L321.3,384.9 L321.8,385.0 L322.3,384.9 L322.8,384.8 L323.3,384.7 L323.8,384.5 L324.3,384.2 L324.8,383.8 L325.3,383.3 L325.8,382.8 L326.3,382.1 L326.8,381.4 L327.3,380.5 L327.8,379.5 L328.3,378.3 L328.8,377.0 L329.3,375.4 L329.8,373.7 L330.3,371.7 L330.8,369.5 L331.3,367.2 L331.8,364.6 L332.3,362.0 L332.8,359.5 L333.3,357.2 L333.8,355.5 L334.3,354.4 L334.8,354.1 L335.3,354.7 L335.8,356.1 L336.3,358.1 L336.8,360.5 L337.3,363.1 L337.8,365.7 L338.3,368.2 L338.8,370.5 L339.3,372.6 L339.8,374.5 L340.3,376.2 L340.8,377.7 L341.3,379.0 L341.8,380.1 L342.3,381.2 L342.8,382.0 L343.3,382.8 L343.8,383.5 L344.3,384.1 L344.8,384.6 L345.3,385.1 L345.8,385.5 L346.3,385.9 L346.8,386.2 L347.3,386.5 L347.8,386.8 L348.3,387.0 L348.8,387.2 L349.3,387.4 L349.8,387.6 L350.3,387.7 L350.8,387.9 L351.3,388.0 L351.8,388.2 L352.3,388.3 L352.8,388.4 L353.3,388.5 L353.8,388.6 L354.3,388.7 L354.8,388.7 L355.3,388.8 L355.8,388.9 L356.3,388.9 L356.8,389.0 L357.3,389.1 L357.8,389.1 L358.3,389.2 L358.8,389.2 L359.3,389.3 L359.8,389.3 L360.3,389.4 L360.8,389.4 L361.3,389.5 L361.8,389.5 L362.3,389.6 L362.8,389.7 L363.3,389.7 L363.8,389.8 L364.3,389.8 L364.8,389.9 L365.3,389.9 L365.8,390.0 L366.3,390.0 L366.8,390.1 L367.3,390.2 L367.8,390.2 L368.3,390.3 L368.8,390.3 L369.3,390.4 L369.8,390.4 L370.3,390.5 L370.8,390.5 L371.3,390.6 L371.8,390.6 L372.3,390.7 L372.8,390.7 L373.3,390.8 L373.8,390.8 L374.3,390.9 L374.8,390.9 L375.3,390.9 L375.8,391.0 L376.3,391.0 L376.8,391.0 L377.3,391.1 L377.8,391.1 L378.3,391.1 L378.8,391.1 L379.3,391.2 L379.8,391.2 L380.3,391.2 L380.8,391.2 L381.3,391.2 L381.8,391.2 L382.3,391.3 L382.8,391.3 L383.3,391.3 L383.8,391.3 L384.3,391.3 L384.8,391.3 L385.3,391.3 L385.8,391.3 L386.3,391.3 L386.8,391.3 L387.3,391.3 L387.8,391.3 L388.3,391.3 L388.8,391.3 L389.3,391.3 L389.8,391.3 L390.3,391.3 L390.8,391.3 L391.3,391.3 L391.8,391.3 L392.3,391.3 L392.8,391.3 L393.3,391.3 L393.8,391.3 L394.3,391.2 L394.8,391.2 L395.3,391.2 L395.8,391.2 L396.3,391.2 L396.8,391.1 L397.3,391.1 L397.8,391.1 L398.3,391.1 L398.8,391.0 L399.3,391.0 L399.8,391.0 L400.3,390.9 L400.8,390.9 L401.3,390.9 L401.8,390.8 L402.3,390.8 L402.8,390.7 L403.3,390.7 L403.8,390.6 L404.3,390.6 L404.8,390.5 L405.3,390.5 L405.8,390.4 L406.3,390.3 L406.8,390.3 L407.3,390.2 L407.8,390.1 L408.3,390.0 L408.8,390.0 L409.3,389.9 L409.8,389.8 L410.3,389.7 L410.8,389.6 L411.3,389.5 L411.8,389.3 L412.3,389.2 L412.8,389.1 L413.3,388.9 L413.8,388.7 L414.3,388.5 L414.8,388.3 L415.3,388.1 L415.8,387.9 L416.3,387.6 L416.8,387.3 L417.3,386.9 L417.8,386.6 L418.3,386.1 L418.8,385.7 L419.3,385.1 L419.8,384.5 L420.3,383.8 L420.8,383.1 L421.3,382.2 L421.8,381.2 L422.3,380.1 L422.8,378.8 L423.3,377.4 L423.8,375.8 L424.3,374.1 L424.8,372.4 L425.3,370.6 L425.8,368.9 L426.3,367.5 L426.8,366.4 L427.3,365.9 L427.8,365.9 L428.3,366.4 L428.8,367.5 L429.3,368.9 L429.8,370.5 L430.3,372.2 L430.8,373.8 L431.3,375.4 L431.8,376.8 L432.3,378.1 L432.8,379.3 L433.3,380.3 L433.8,381.2 L434.3,381.9 L434.8,382.6 L435.3,383.1 L435.8,383.6 L436.3,384.0 L436.8,384.4 L437.3,384.7 L437.8,384.9 L438.3,385.1 L438.8,385.3 L439.3,385.4 L439.8,385.5 L440.3,385.6 L440.8,385.6 L441.3,385.6 L441.8,385.6 L442.3,385.6 L442.8,385.5 L443.3,385.4 L443.8,385.3 L444.3,385.2 L444.8,385.0 L445.3,384.8 L445.8,384.6 L446.3,384.3 L446.8,384.0 L447.3,383.7 L447.8,383.3 L448.3,382.9 L448.8,382.4 L449.3,381.9 L449.8,381.3 L450.3,380.6 L450.8,379.9 L451.3,379.0 L451.8,378.1 L452.3,377.0 L452.8,375.8 L453.3,374.4 L453.8,372.8 L454.3,371.0 L454.8,369.0 L455.3,366.6 L455.8,364.0 L456.3,360.9 L456.8,357.5 L457.3,353.6 L457.8,349.3 L458.3,344.6 L458.8,339.5 L459.3,334.2 L459.8,328.9 L460.3,324.0 L460.8,320.0 L461.3,317.1 L461.8,315.9 L462.3,316.5 L462.8,318.7 L463.3,322.4 L463.8,327.1 L464.3,332.3 L464.8,337.6 L465.3,342.9 L465.8,347.8 L466.3,352.4 L466.8,356.5 L467.3,360.1 L467.8,363.4 L468.3,366.2 L468.8,368.7 L469.3,370.9 L469.8,372.9 L470.3,374.6 L470.8,376.1 L471.3,377.5 L471.8,378.7 L472.3,379.7 L472.8,380.7 L473.3,381.6 L473.8,382.3 L474.3,383.0 L474.8,383.6 L475.3,384.2 L475.8,384.7 L476.3,385.2 L476.8,385.6 L477.3,386.0 L477.8,386.4 L478.3,386.7 L478.8,387.0 L479.3,387.3 L479.8,387.5 L480.3,387.8 L480.8,388.0 L481.3,388.2 L481.8,388.4 L482.3,388.6 L482.8,388.7 L483.3,388.9 L483.8,389.0 L484.3,389.2 L484.8,389.3 L485.3,389.4 L485.8,389.5 L486.3,389.6 L486.8,389.7 L487.3,389.8 L487.8,389.9 L488.3,390.0 L488.8,390.0 L489.3,390.1 L489.8,390.2 L490.3,390.2 L490.8,390.3 L491.3,390.3 L491.8,390.4 L492.3,390.4 L492.8,390.5 L493.3,390.5 L493.8,390.5 L494.3,390.6 L494.8,390.6 L495.3,390.6 L495.8,390.6 L496.3,390.7 L496.8,390.7 L497.3,390.7 L497.8,390.7 L498.3,390.7 L498.8,390.7 L499.3,390.7 L499.8,390.7 L500.3,390.7 L500.8,390.7 L501.3,390.6 L501.8,390.6 L502.3,390.6 L502.8,390.5 L503.3,390.5 L503.8,390.4 L504.3,390.4 L504.8,390.3 L505.3,390.2 L505.8,390.1 L506.3,390.0 L506.8,389.8 L507.3,389.7 L507.8,389.5 L508.3,389.3 L508.8,389.1 L509.3,388.8 L509.8,388.5 L510.3,388.2 L510.8,387.9 L511.3,387.6 L511.8,387.3 L512.3,387.0 L512.8,386.8 L513.3,386.6 L513.8,386.6 L514.3,386.6 L514.8,386.7 L515.3,386.9 L515.8,387.0 L516.3,387.2 L516.8,387.3 L517.3,387.4 L517.8,387.4 L518.3,387.4 L518.8,387.3 L519.3,387.3 L519.8,387.1 L520.3,387.0 L520.8,386.9 L521.3,386.7 L521.8,386.6 L522.3,386.6 L522.8,386.6 L523.3,386.7 L523.8,386.8 L524.3,387.0 L524.8,387.3 L525.3,387.5 L525.8,387.8 L526.3,388.0 L526.8,388.2 L527.3,388.4 L527.8,388.6 L528.3,388.8 L528.8,388.9 L529.3,389.0 L529.8,389.1 L530.3,389.2 L530.8,389.2 L531.3,389.3 L531.8,389.3 L532.3,389.3 L532.8,389.3 L533.3,389.3 L533.8,389.3 L534.3,389.2 L534.8,389.2 L535.3,389.2 L535.8,389.1 L536.3,389.1 L536.8,389.0 L537.3,388.9 L537.8,388.8 L538.3,388.8 L538.8,388.7 L539.3,388.6 L539.8,388.5 L540.3,388.4 L540.8,388.2 L541.3,388.1 L541.8,388.0 L542.3,387.9 L542.8,387.7 L543.3,387.6 L543.8,387.4 L544.3,387.3 L544.8,387.1 L545.3,386.9 L545.8,386.7 L546.3,386.5 L546.8,386.3 L547.3,386.1 L547.8,385.9 L548.3,385.7 L548.8,385.6 L549.3,385.4 L549.8,385.2 L550.3,385.0 L550.8,384.9 L551.3,384.8 L551.8,384.7 L552.3,384.7 L552.8,384.7 L553.3,384.7 L553.8,384.8 L554.3,384.9 L554.8,385.0 L555.3,385.1 L555.8,385.3 L556.3,385.5 L556.8,385.6 L557.3,385.8 L557.8,386.0 L558.3,386.2 L558.8,386.3 L559.3,386.5 L559.8,386.6 L560.3,386.7 L560.8,386.8 L561.3,386.9 L561.8,387.0 L562.3,387.0 L562.8,387.1 L563.3,387.1 L563.8,387.1 L564.3,387.0 L564.8,387.0 L565.3,386.9 L565.8,386.8 L566.3,386.7 L566.8,386.5 L567.3,386.4 L567.8,386.2 L568.3,386.0 L568.8,385.9 L569.3,385.7 L569.8,385.6 L570.3,385.5 L570.8,385.5 L571.3,385.5 L571.8,385.5 L572.3,385.6 L572.8,385.7 L573.3,385.9 L573.8,386.0 L574.3,386.1 L574.8,386.3 L575.3,386.4 L575.8,386.5 L576.3,386.6 L576.8,386.6 L577.3,386.7 L577.8,386.7 L578.3,386.7 L578.8,386.7 L579.3,386.6 L579.8,386.6 L580.3,386.5 L580.8,386.4 L581.3,386.3 L581.8,386.2 L582.3,386.0 L582.8,385.8 L583.3,385.6 L583.8,385.4 L584.3,385.1 L584.8,384.9 L585.3,384.6 L585.8,384.3 L586.3,384.0 L586.8,383.7 L587.3,383.4 L587.8,383.2 L588.3,383.0 L588.8,382.8 L589.3,382.7 L589.8,382.6 L590.3,382.6 L590.8,382.7 L591.3,382.8 L591.8,383.0 L592.3,383.2 L592.8,383.5 L593.3,383.7 L593.8,384.0 L594.3,384.3 L594.8,384.6 L595.3,384.9 L595.8,385.2 L596.3,385.4 L596.8,385.6 L597.3,385.8 L597.8,386.0 L598.3,386.2 L598.8,386.4 L599.3,386.5 L599.8,386.6 L600.3,386.7 L600.8,386.8 L601.3,386.9 L601.8,387.0 L602.3,387.1 L602.8,387.1 L603.3,387.2 L603.8,387.2 L604.3,387.2 L604.8,387.2 L605.3,387.2 L605.8,387.2 L606.3,387.1 L606.8,387.1 L607.3,387.0 L607.8,386.9 L608.3,386.8 L608.8,386.6 L609.3,386.5 L609.8,386.3 L610.3,386.1 L610.8,385.9 L611.3,385.7 L611.8,385.5 L612.3,385.3 L612.8,385.1 L613.3,384.9 L613.8,384.8 L614.3,384.8 L614.8,384.8 L615.3,384.9 L615.8,385.0 L616.3,385.2 L616.8,385.5 L617.3,385.7 L617.8,386.0 L618.3,386.3 L618.8,386.6 L619.3,386.9 L619.8,387.1 L620.3,387.4 L620.8,387.6 L621.3,387.8 L621.8,388.0 L622.3,388.2 L622.8,388.4 L623.3,388.5 L623.8,388.7 L624.3,388.8 L624.8,388.9 L625.3,389.1 L625.8,389.2 L626.3,389.3 L626.8,389.4 L627.3,389.5 L627.8,389.6 L628.3,389.7 L628.8,389.8 L629.3,389.9 L629.8,390.0 L630.3,390.1 L630.8,390.1 L631.3,390.2 L631.8,390.3 L632.3,390.4 L632.8,390.5 L633.3,390.5 L633.8,390.6 L634.3,390.7 L634.8,390.8 L635.3,390.8 L635.8,390.9 L636.3,391.0 L636.8,391.0 L637.3,391.1 L637.8,391.2 L638.3,391.2 L638.8,391.3 L639.3,391.3 L639.8,391.4 L640.3,391.4 L640.8,391.5 L641.3,391.5 L641.8,391.5 L642.3,391.6 L642.8,391.6 L643.3,391.7 L643.8,391.7 L644.3,391.7 L644.8,391.8 L645.3,391.8 L645.8,391.8 L646.3,391.9 L646.8,391.9 L647.3,391.9 L647.8,392.0 L648.3,392.0 L648.8,392.0 L649.3,392.0 L649.8,392.1 L650.3,392.1 L650.8,392.1 L651.3,392.1 L651.8,392.1 L652.3,392.2 L652.8,392.2 L653.3,392.2 L653.8,392.2 L654.3,392.2 L654.8,392.3 L655.3,392.3 L655.8,392.3 L656.3,392.3 L656.8,392.3 L657.3,392.3 L657.8,392.3 L658.3,392.4 L658.8,392.4 L659.3,392.4 L659.8,392.4 L660.3,392.4 L660.8,392.4 L661.3,392.4 L661.8,392.4 L662.3,392.5 L662.8,392.5 L663.3,392.5 L663.8,392.5 L664.3,392.5 L664.8,392.5 L665.3,392.5 L665.8,392.5 L666.3,392.5 L666.8,392.5 L667.3,392.5 L667.8,392.6 L668.3,392.6 L668.8,392.6 L669.3,392.6 L669.8,392.6 L670.3,392.6 L670.8,392.6 L671.3,392.6 L671.8,392.6 L672.3,392.6 L672.8,392.6 L673.3,392.6 L673.8,392.6 L674.3,392.6 L674.8,392.7 L675.3,392.7 L675.8,392.7 L676.3,392.7 L676.8,392.7 L677.3,392.7 L677.8,392.7 L678.3,392.7 L678.8,392.7 L679.3,392.7 L679.8,392.7 L680.3,392.7 L680.8,392.7 L681.3,392.7 L681.8,392.7 L682.3,392.7 L682.8,392.7 L683.3,392.7 L683.8,392.7 L684.3,392.7 L684.8,392.7 L685.3,392.8 L685.8,392.8 L686.3,392.8 L686.8,392.8 L687.3,392.8 L687.8,392.8 L688.3,392.8 L688.8,392.8 L689.3,392.8 L689.8,392.8 L690.3,392.8 L690.8,392.8 L691.3,392.8 L691.8,392.8 L692.3,392.8 L692.8,392.8 L693.3,392.8 L693.8,392.8 L694.3,392.8 L694.8,392.8 L695.3,392.8 L695.8,392.8 L696.3,392.8 L696.8,392.8 L697.3,392.8 L697.8,392.8 L698.3,392.8 L698.8,392.8 L699.3,392.8 L699.8,392.8 L700.3,392.8 L700.8,392.8 L701.3,392.8 L701.8,392.8 L702.3,392.9 L702.8,392.9 L703.3,392.9 L703.8,392.9 L704.3,392.9 L704.8,392.9 L705.3,392.9 L705.8,392.9 L706.3,392.9 L706.8,392.9 L707.3,392.9 L707.8,392.9 L708.3,392.9 L708.8,392.9 L709.3,392.9 L709.8,392.9 L710.3,392.9 L710.8,392.9 L711.3,392.9 L711.8,392.9 L712.3,392.9 L712.8,392.9 L713.3,392.9 L713.8,392.9 L714.3,392.9 L714.8,392.9 L715.3,392.9 L715.8,392.9 L716.3,392.9 L716.8,392.9 L717.3,392.9 L717.8,392.9 L718.3,392.9 L718.8,392.9 L719.3,392.9 L719.8,392.9 L720.3,392.9 L720.8,392.9 L721.3,392.9 L721.8,392.9 L722.3,392.9 L722.8,392.9 L723.3,392.9 L723.8,392.9 L724.3,392.9 L724.8,392.9 L725.3,392.9 L725.8,392.9 L726.3,392.9 L726.8,392.9 L727.3,392.9 L727.8,392.9 L728.3,392.9 L728.8,392.9 L729.3,392.9 L729.8,392.9 L730.3,392.9 L730.8,392.9 L731.3,392.9 L731.8,392.9 L732.3,392.9 L732.8,392.9 L733.3,392.9 L733.8,392.9 L734.3,392.9 L734.8,392.9 L735.3,392.9 L735.8,393.0 L736.3,393.0 L736.8,393.0 L737.3,393.0 L737.8,393.0 L738.3,393.0 L738.8,393.0 L739.3,393.0 L739.8,393.0 L740.3,393.0 L740.8,393.0 L741.3,393.0 L741.8,393.0 L742.3,393.0 L742.8,393.0 L743.3,393.0 L743.8,393.0 L744.3,393.0 L744.8,393.0 L745.3,393.0 L745.8,393.0 L746.3,393.0 L746.8,393.0 L747.3,393.0 L747.8,393.0 L748.3,393.0 L748.8,393.0 L749.3,393.0 L749.8,393.0 L750.3,393.0 L750.8,393.0 L751.3,393.0 L751.8,393.0 L752.3,393.0 L752.8,393.0 L753.3,393.0 L753.8,393.0 L754.3,393.0 L754.8,393.0 L755.3,393.0 L755.8,393.0 L756.3,393.0 L756.8,393.0 L757.3,393.0 L757.8,393.0 L758.3,393.0 L758.8,393.0 L759.3,393.0 L759.8,393.0 L760.3,393.0 L760.8,393.0 L761.3,393.0 L761.8,393.0 L762.3,393.0 L762.8,393.0 L763.3,393.0 L763.8,393.0 L764.3,393.0 L764.8,393.0 L765.3,393.0 L765.8,393.0 L766.3,393.0 L766.8,393.0 L767.3,393.0 L767.8,393.0 L768.3,393.0 L768.8,393.0 L769.3,393.0 L769.8,393.0 L770.3,393.0 L770.8,393.0 L771.3,393.0 L771.8,393.0 L772.3,393.0 L772.8,393.0 L773.3,393.0 L773.8,393.0 L774.3,393.0 L774.8,393.0 L775.3,393.0 L775.8,393.0 L776.3,393.0 L776.8,393.0 L777.3,393.0 L777.8,393.0 L778.3,393.0 L778.8,393.0 L779.3,393.0 L779.8,393.0 L780.3,393.0 L780.8,393.0 L781.3,393.0 L781.8,393.0 L782.3,393.0 L782.8,393.0 L783.3,393.0 L783.8,393.0 L784.3,393.0 L784.8,393.0 L785.3,393.0 L785.8,393.0 L786.3,393.0 L786.8,393.0 L787.3,393.0 L787.8,393.0 L788.3,393.0 L788.8,393.0 L789.3,393.0 L789.8,393.0 L790.3,393.0 L790.8,393.0 L791.3,393.0 L791.8,393.0 L792.3,393.0 L792.8,393.0 L793.3,393.0 L793.8,393.0 L794.3,393.0 L794.8,393.0 L795.3,393.0 L795.8,393.0 L796.3,393.0 L796.8,393.0 L797.3,393.0 L797.8,393.0 L798.3,393.0 L798.8,393.0 L799.3,393.0 L799.8,393.0 L800.3,393.0 L800.8,393.0" stroke="#0000f5"/>
<path d="M69.3,346.5 L69.8,346.4 L70.3,346.4 L70.8,346.3 L71.3,346.3 L71.8,346.3 L72.3,346.2 L72.8,346.2 L73.3,346.1 L73.8,346.0 L74.3,346.0 L74.8,345.9 L75.3,345.8 L75.8,345.8 L76.3,345.7 L76.8,345.6 L77.3,345.5 L77.8,345.4 L78.3,345.3 L78.8,345.2 L79.3,345.0 L79.8,344.9 L80.3,344.8 L80.8,344.6 L81.3,344.4 L81.8,344.2 L82.3,344.0 L82.8,343.7 L83.3,343.5 L83.8,343.2 L84.3,342.8 L84.8,342.5 L85.3,342.0 L85.8,341.6 L86.3,341.1 L86.8,340.5 L87.3,339.9 L87.8,339.2 L88.3,338.5 L88.8,337.8 L89.3,337.1 L89.8,336.5 L90.3,335.9 L90.8,335.5 L91.3,335.2 L91.8,335.2 L92.3,335.4 L92.8,335.7 L93.3,336.2 L93.8,336.7 L94.3,337.3 L94.8,337.9 L95.3,338.5 L95.8,339.1 L96.3,339.5 L96.8,340.0 L97.3,340.4 L97.8,340.7 L98.3,341.0 L98.8,341.3 L99.3,341.5 L99.8,341.7 L100.3,341.9 L100.8,342.0 L101.3,342.2 L101.8,342.2 L102.3,342.3 L102.8,342.4 L103.3,342.4 L103.8,342.5 L104.3,342.5 L104.8,342.5 L105.3,342.5 L105.8,342.5 L106.3,342.5 L106.8,342.4 L107.3,342.4 L107.8,342.3 L108.3,342.3 L108.8,342.2 L109.3,342.1 L109.8,342.0 L110.3,341.9 L110.8,341.8 L111.3,341.7 L111.8,341.5 L112.3,341.3 L112.8,341.2 L113.3,341.0 L113.8,340.7 L114.3,340.5 L114.8,340.2 L115.3,340.0 L115.8,339.7 L116.3,339.4 L116.8,339.1 L117.3,338.9 L117.8,338.7 L118.3,338.5 L118.8,338.4 L119.3,338.4 L119.8,338.5 L120.3,338.6 L120.8,338.8 L121.3,339.0 L121.8,339.3 L122.3,339.5 L122.8,339.8 L123.3,340.1 L123.8,340.4 L124.3,340.6 L124.8,340.9 L125.3,341.1 L125.8,341.3 L126.3,341.5 L126.8,341.6 L127.3,341.8 L127.8,341.9 L128.3,342.0 L128.8,342.1 L129.3,342.2 L129.8,342.2 L130.3,342.3 L130.8,342.3 L131.3,342.4 L131.8,342.4 L132.3,342.4 L132.8,342.4 L133.3,342.4 L133.8,342.4 L134.3,342.4 L134.8,342.4 L135.3,342.3 L135.8,342.3 L136.3,342.2 L136.8,342.1 L137.3,342.1 L137.8,342.0 L138.3,341.9 L138.8,341.7 L139.3,341.6 L139.8,341.5 L140.3,341.3 L140.8,341.1 L141.3,340.9 L141.8,340.6 L142.3,340.4 L142.8,340.1 L143.3,339.8 L143.8,339.5 L144.3,339.2 L144.8,338.9 L145.3,338.5 L145.8,338.3 L146.3,338.0 L146.8,337.8 L147.3,337.7 L147.8,337.6 L148.3,337.6 L148.8,337.7 L149.3,337.9 L149.8,338.1 L150.3,338.3 L150.8,338.6 L151.3,338.9 L151.8,339.3 L152.3,339.6 L152.8,339.9 L153.3,340.2 L153.8,340.5 L154.3,340.7 L154.8,341.0 L155.3,341.2 L155.8,341.4 L156.3,341.5 L156.8,341.7 L157.3,341.8 L157.8,342.0 L158.3,342.1 L158.8,342.2 L159.3,342.3 L159.8,342.3 L160.3,342.4 L160.8,342.5 L161.3,342.5 L161.8,342.6 L162.3,342.6 L162.8,342.6 L163.3,342.6 L163.8,342.6 L164.3,342.6 L164.8,342.6 L165.3,342.6 L165.8,342.5 L166.3,342.5 L166.8,342.4 L167.3,342.3 L167.8,342.3 L168.3,342.2 L168.8,342.0 L169.3,341.9 L169.8,341.7 L170.3,341.6 L170.8,341.3 L171.3,341.1 L171.8,340.8 L172.3,340.5 L172.8,340.2 L173.3,339.9 L173.8,339.5 L174.3,339.1 L174.8,338.8 L175.3,338.6 L175.8,338.4 L176.3,338.4 L176.8,338.4 L177.3,338.5 L177.8,338.7 L178.3,338.9 L178.8,339.1 L179.3,339.3 L179.8,339.4 L180.3,339.5 L180.8,339.6 L181.3,339.5 L181.8,339.5 L182.3,339.3 L182.8,339.1 L183.3,338.9 L183.8,338.6 L184.3,338.2 L184.8,337.7 L185.3,337.2 L185.8,336.6 L186.3,336.0 L186.8,335.4 L187.3,334.8 L187.8,334.2 L188.3,333.7 L188.8,333.3 L189.3,333.1 L189.8,333.1 L190.3,333.3 L190.8,333.6 L191.3,334.0 L191.8,334.4 L192.3,334.9 L192.8,335.3 L193.3,335.7 L193.8,336.0 L194.3,336.3 L194.8,336.4 L195.3,336.5 L195.8,336.5 L196.3,336.5 L196.8,336.4 L197.3,336.4 L197.8,336.4 L198.3,336.4 L198.8,336.6 L199.3,336.9 L199.8,337.3 L200.3,337.7 L200.8,338.2 L201.3,338.6 L201.8,339.1 L202.3,339.5 L202.8,339.9 L203.3,340.2 L203.8,340.5 L204.3,340.8 L204.8,341.0 L205.3,341.2 L205.8,341.4 L206.3,341.5 L206.8,341.7 L207.3,341.8 L207.8,341.9 L208.3,342.0 L208.8,342.1 L209.3,342.1 L209.8,342.2 L210.3,342.3 L210.8,342.3 L211.3,342.3 L211.8,342.4 L212.3,342.4 L212.8,342.4 L213.3,342.4 L213.8,342.5 L214.3,342.5 L214.8,342.5 L215.3,342.5 L215.8,342.5 L216.3,342.5 L216.8,342.4 L217.3,342.4 L217.8,342.4 L218.3,342.4 L218.8,342.3 L219.3,342.3 L219.8,342.3 L220.3,342.2 L220.8,342.2 L221.3,342.1 L221.8,342.1 L222.3,342.0 L222.8,341.9 L223.3,341.9 L223.8,341.8 L224.3,341.7 L224.8,341.6 L225.3,341.6 L225.8,341.5 L226.3,341.5 L226.8,341.5 L227.3,341.5 L227.8,341.5 L228.3,341.5 L228.8,341.6 L229.3,341.7 L229.8,341.8 L230.3,341.9 L230.8,342.0 L231.3,342.1 L231.8,342.3 L232.3,342.4 L232.8,342.5 L233.3,342.7 L233.8,342.8 L234.3,342.9 L234.8,343.1 L235.3,343.2 L235.8,343.3 L236.3,343.4 L236.8,343.5 L237.3,343.5 L237.8,343.6 L238.3,343.7 L238.8,343.7 L239.3,343.7 L239.8,343.8 L240.3,343.8 L240.8,343.8 L241.3,343.8 L241.8,343.8 L242.3,343.8 L242.8,343.8 L243.3,343.8 L243.8,343.8 L244.3,343.7 L244.8,343.7 L245.3,343.6 L245.8,343.6 L246.3,343.5 L246.8,343.4 L247.3,343.3 L247.8,343.2 L248.3,343.1 L248.8,343.0 L249.3,342.8 L249.8,342.7 L250.3,342.6 L250.8,342.4 L251.3,342.2 L251.8,342.0 L252.3,341.9 L252.8,341.7 L253.3,341.5 L253.8,341.3 L254.3,341.2 L254.8,341.0 L255.3,340.9 L255.8,340.8 L256.3,340.7 L256.8,340.6 L257.3,340.6 L257.8,340.6 L258.3,340.6 L258.8,340.7 L259.3,340.8 L259.8,340.9 L260.3,341.0 L260.8,341.1 L261.3,341.2 L261.8,341.4 L262.3,341.5 L262.8,341.6 L263.3,341.7 L263.8,341.9 L264.3,342.0 L264.8,342.1 L265.3,342.2 L265.8,342.3 L266.3,342.4 L266.8,342.5 L267.3,342.6 L267.8,342.7 L268.3,342.8 L268.8,342.9 L269.3,343.0 L269.8,343.0 L270.3,343.1 L270.8,343.2 L271.3,343.3 L271.8,343.3 L272.3,343.4 L272.8,343.4 L273.3,343.5 L273.8,343.6 L274.3,343.6 L274.8,343.6 L275.3,343.7 L275.8,343.7 L276.3,343.7 L276.8,343.8 L277.3,343.8 L277.8,343.8 L278.3,343.8 L278.8,343.8 L279.3,343.8 L279.8,343.8 L280.3,343.8 L280.8,343.8 L281.3,343.8 L281.8,343.7 L282.3,343.7 L282.8,343.7 L283.3,343.6 L283.8,343.6 L284.3,343.5 L284.8,343.4 L285.3,343.3 L285.8,343.2 L286.3,343.1 L286.8,343.0 L287.3,342.9 L287.8,342.8 L288.3,342.7 L288.8,342.5 L289.3,342.4 L289.8,342.3 L290.3,342.1 L290.8,342.0 L291.3,341.9 L291.8,341.8 L292.3,341.7 L292.8,341.6 L293.3,341.5 L293.8,341.5 L294.3,341.4 L294.8,341.4 L295.3,341.4 L295.8,341.5 L296.3,341.5 L296.8,341.5 L297.3,341.5 L297.8,341.6 L298.3,341.6 L298.8,341.6 L299.3,341.6 L299.8,341.6 L300.3,341.6 L300.8,341.6 L301.3,341.6 L301.8,341.5 L302.3,341.5 L302.8,341.4 L303.3,341.3 L303.8,341.2 L304.3,341.0 L304.8,340.9 L305.3,340.7 L305.8,340.4 L306.3,340.2 L306.8,339.9 L307.3,339.6 L307.8,339.2 L308.3,338.7 L308.8,338.3 L309.3,337.7 L309.8,337.2 L310.3,336.6 L310.8,336.1 L311.3,335.7 L311.8,335.5 L312.3,335.4 L312.8,335.4 L313.3,335.6 L313.8,335.8 L314.3,336.1 L314.8,336.4 L315.3,336.7 L315.8,336.8 L316.3,337.0 L316.8,337.1 L317.3,337.1 L317.8,337.0 L318.3,336.9 L318.8,336.7 L319.3,336.5 L319.8,336.2 L320.3,335.9 L320.8,335.4 L321.3,334.9 L321.8,334.3 L322.3,333.6 L322.8,332.9 L323.3,331.9 L323.8,330.9 L324.3,329.7 L324.8,328.3 L325.3,326.7 L325.8,324.9 L326.3,323.0 L326.8,320.8 L327.3,318.5 L327.8,316.2 L328.3,314.0 L328.8,311.9 L329.3,310.4 L329.8,309.4 L330.3,309.2 L330.8,309.8 L331.3,311.1 L331.8,313.0 L332.3,315.2 L332.8,317.6 L333.3,320.0 L333.8,322.4 L334.3,324.5 L334.8,326.5 L335.3,328.3 L335.8,329.8 L336.3,331.2 L336.8,332.5 L337.3,333.5 L337.8,334.5 L338.3,335.3 L338.8,336.1 L339.3,336.7 L339.8,337.3 L340.3,337.8 L340.8,338.2 L341.3,338.6 L341.8,339.0 L342.3,339.3 L342.8,339.5 L343.3,339.7 L343.8,339.9 L344.3,340.1 L344.8,340.2 L345.3,340.2 L345.8,340.3 L346.3,340.3 L346.8,340.2 L347.3,340.1 L347.8,339.9 L348.3,339.7 L348.8,339.5 L349.3,339.1 L349.8,338.8 L350.3,338.4 L350.8,338.0 L351.3,337.6 L351.8,337.3 L352.3,337.2 L352.8,337.2 L353.3,337.5 L353.8,337.9 L354.3,338.4 L354.8,339.0 L355.3,339.6 L355.8,340.2 L356.3,340.7 L356.8,341.2 L357.3,341.6 L357.8,341.9 L358.3,342.3 L358.8,342.5 L359.3,342.8 L359.8,343.0 L360.3,343.2 L360.8,343.4 L361.3,343.5 L361.8,343.6 L362.3,343.8 L362.8,343.9 L363.3,344.0 L363.8,344.1 L364.3,344.2 L364.8,344.2 L365.3,344.3 L365.8,344.4 L366.3,344.4 L366.8,344.5 L367.3,344.5 L367.8,344.6 L368.3,344.6 L368.8,344.7 L369.3,344.7 L369.8,344.8 L370.3,344.8 L370.8,344.8 L371.3,344.9 L371.8,344.9 L372.3,344.9 L372.8,345.0 L373.3,345.0 L373.8,345.0 L374.3,345.0 L374.8,345.1 L375.3,345.1 L375.8,345.1 L376.3,345.2 L376.8,345.2 L377.3,345.2 L377.8,345.3 L378.3,345.3 L378.8,345.3 L379.3,345.3 L379.8,345.4 L380.3,345.4 L380.8,345.4 L381.3,345.4 L381.8,345.5 L382.3,345.5 L382.8,345.5 L383.3,345.5 L383.8,345.5 L384.3,345.6 L384.8,345.6 L385.3,345.6 L385.8,345.6 L386.3,345.6 L386.8,345.6 L387.3,345.6 L387.8,345.7 L388.3,345.7 L388.8,345.7 L389.3,345.7 L389.8,345.7 L390.3,345.7 L390.8,345.7 L391.3,345.7 L391.8,345.7 L392.3,345.7 L392.8,345.7 L393.3,345.7 L393.8,345.7 L394.3,345.7 L394.8,345.7 L395.3,345.6 L395.8,345.6 L396.3,345.6 L396.8,345.6 L397.3,345.6 L397.8,345.5 L398.3,345.5 L398.8,345.5 L399.3,345.5 L399.8,345.4 L400.3,345.4 L400.8,345.3 L401.3,345.3 L401.8,345.3 L402.3,345.2 L402.8,345.1 L403.3,345.1 L403.8,345.0 L404.3,344.9 L404.8,344.9 L405.3,344.8 L405.8,344.7 L406.3,344.6 L406.8,344.5 L407.3,344.4 L407.8,344.2 L408.3,344.1 L408.8,343.9 L409.3,343.8 L409.8,343.6 L410.3,343.4 L410.8,343.2 L411.3,342.9 L411.8,342.6 L412.3,342.3 L412.8,342.0 L413.3,341.6 L413.8,341.2 L414.3,340.8 L414.8,340.2 L415.3,339.7 L415.8,339.0 L416.3,338.3 L416.8,337.4 L417.3,336.5 L417.8,335.4 L418.3,334.1 L418.8,332.7 L419.3,331.1 L419.8,329.4 L420.3,327.4 L420.8,325.3 L421.3,323.1 L421.8,320.8 L422.3,318.6 L422.8,316.7 L423.3,315.3 L423.8,314.5 L424.3,314.3 L424.8,315.0 L425.3,316.2 L425.8,318.0 L426.3,320.0 L426.8,322.2 L427.3,324.4 L427.8,326.5 L428.3,328.4 L428.8,330.1 L429.3,331.6 L429.8,332.9 L430.3,334.1 L430.8,335.1 L431.3,335.9 L431.8,336.6 L432.3,337.2 L432.8,337.7 L433.3,338.0 L433.8,338.3 L434.3,338.5 L434.8,338.6 L435.3,338.6 L435.8,338.6 L436.3,338.5 L436.8,338.4 L437.3,338.3 L437.8,338.2 L438.3,338.3 L438.8,338.4 L439.3,338.6 L439.8,339.0 L440.3,339.4 L440.8,339.8 L441.3,340.2 L441.8,340.5 L442.3,340.9 L442.8,341.1 L443.3,341.4 L443.8,341.6 L444.3,341.7 L444.8,341.8 L445.3,341.9 L445.8,342.0 L446.3,342.0 L446.8,342.0 L447.3,342.0 L447.8,341.9 L448.3,341.9 L448.8,341.8 L449.3,341.7 L449.8,341.6 L450.3,341.4 L450.8,341.3 L451.3,341.1 L451.8,340.9 L452.3,340.6 L452.8,340.4 L453.3,340.1 L453.8,339.7 L454.3,339.4 L454.8,339.0 L455.3,338.5 L455.8,338.0 L456.3,337.5 L456.8,336.9 L457.3,336.2 L457.8,335.5 L458.3,334.6 L458.8,333.7 L459.3,332.6 L459.8,331.4 L460.3,330.1 L460.8,328.6 L461.3,326.9 L461.8,325.0 L462.3,322.8 L462.8,320.3 L463.3,317.4 L463.8,314.2 L464.3,310.6 L464.8,306.4 L465.3,301.8 L465.8,296.7 L466.3,291.1 L466.8,285.3 L467.3,279.4 L467.8,273.7 L468.3,268.7 L468.8,265.0 L469.3,262.9 L469.8,262.7 L470.3,264.4 L470.8,267.9 L471.3,272.7 L471.8,278.2 L472.3,284.1 L472.8,290.0 L473.3,295.7 L473.8,300.9 L474.3,305.6 L474.8,309.9 L475.3,313.6 L475.8,316.9 L476.3,319.9 L476.8,322.4 L477.3,324.7 L477.8,326.7 L478.3,328.5 L478.8,330.0 L479.3,331.4 L479.8,332.6 L480.3,333.7 L480.8,334.7 L481.3,335.6 L481.8,336.4 L482.3,337.1 L482.8,337.7 L483.3,338.3 L483.8,338.8 L484.3,339.3 L484.8,339.7 L485.3,340.1 L485.8,340.5 L486.3,340.8 L486.8,341.2 L487.3,341.4 L487.8,341.7 L488.3,341.9 L488.8,342.2 L489.3,342.4 L489.8,342.6 L490.3,342.7 L490.8,342.9 L491.3,343.1 L491.8,343.2 L492.3,343.3 L492.8,343.5 L493.3,343.6 L493.8,343.7 L494.3,343.8 L494.8,343.9 L495.3,344.0 L495.8,344.1 L496.3,344.1 L496.8,344.2 L497.3,344.3 L497.8,344.4 L498.3,344.4 L498.8,344.5 L499.3,344.5 L499.8,344.6 L500.3,344.6 L500.8,344.6 L501.3,344.7 L501.8,344.7 L502.3,344.7 L502.8,344.8 L503.3,344.8 L503.8,344.8 L504.3,344.8 L504.8,344.8 L505.3,344.8 L505.8,344.8 L506.3,344.7 L506.8,344.7 L507.3,344.7 L507.8,344.6 L508.3,344.5 L508.8,344.4 L509.3,344.4 L509.8,344.3 L510.3,344.2 L510.8,344.1 L511.3,344.0 L511.8,344.0 L512.3,344.0 L512.8,344.1 L513.3,344.2 L513.8,344.4 L514.3,344.5 L514.8,344.7 L515.3,344.9 L515.8,345.0 L516.3,345.1 L516.8,345.2 L517.3,345.3 L517.8,345.4 L518.3,345.5 L518.8,345.6 L519.3,345.6 L519.8,345.7 L520.3,345.7 L520.8,345.8 L521.3,345.8 L521.8,345.9 L522.3,345.9 L522.8,345.9 L523.3,345.9 L523.8,346.0 L524.3,346.0 L524.8,346.0 L525.3,346.0 L525.8,346.0 L526.3,346.0 L526.8,346.0 L527.3,346.0 L527.8,346.0 L528.3,346.0 L528.8,346.0 L529.3,346.0 L529.8,346.0 L530.3,346.0 L530.8,346.0 L531.3,345.9 L531.8,345.9 L532.3,345.9 L532.8,345.8 L533.3,345.8 L533.8,345.7 L534.3,345.7 L534.8,345.6 L535.3,345.6 L535.8,345.5 L536.3,345.4 L536.8,345.3 L537.3,345.3 L537.8,345.2 L538.3,345.1 L538.8,345.1 L539.3,345.0 L539.8,345.0 L540.3,345.0 L540.8,345.0 L541.3,345.1 L541.8,345.1 L542.3,345.2 L542.8,345.2 L543.3,345.3 L543.8,345.4 L544.3,345.4 L544.8,345.5 L545.3,345.6 L545.8,345.6 L546.3,345.7 L546.8,345.7 L547.3,345.7 L547.8,345.7 L548.3,345.8 L548.8,345.8 L549.3,345.8 L549.8,345.8 L550.3,345.8 L550.8,345.8 L551.3,345.8 L551.8,345.7 L552.3,345.7 L552.8,345.7 L553.3,345.7 L553.8,345.6 L554.3,345.6 L554.8,345.5 L555.3,345.5 L555.8,345.4 L556.3,345.3 L556.8,345.2 L557.3,345.2 L557.8,345.1 L558.3,345.0 L558.8,344.8 L559.3,344.7 L559.8,344.6 L560.3,344.4 L560.8,344.3 L561.3,344.1 L561.8,343.9 L562.3,343.7 L562.8,343.5 L563.3,343.3 L563.8,343.1 L564.3,342.9 L564.8,342.7 L565.3,342.5 L565.8,342.3 L566.3,342.2 L566.8,342.1 L567.3,342.0 L567.8,342.0 L568.3,342.0 L568.8,342.1 L569.3,342.2 L569.8,342.3 L570.3,342.5 L570.8,342.6 L571.3,342.8 L571.8,343.0 L572.3,343.1 L572.8,343.3 L573.3,343.5 L573.8,343.6 L574.3,343.8 L574.8,343.9 L575.3,344.0 L575.8,344.1 L576.3,344.2 L576.8,344.3 L577.3,344.4 L577.8,344.4 L578.3,344.5 L578.8,344.6 L579.3,344.6 L579.8,344.6 L580.3,344.7 L580.8,344.7 L581.3,344.7 L581.8,344.7 L582.3,344.7 L582.8,344.7 L583.3,344.7 L583.8,344.7 L584.3,344.7 L584.8,344.7 L585.3,344.7 L585.8,344.7 L586.3,344.7 L586.8,344.6 L587.3,344.6 L587.8,344.5 L588.3,344.5 L588.8,344.4 L589.3,344.4 L589.8,344.3 L590.3,344.3 L590.8,344.2 L591.3,344.1 L591.8,344.0 L592.3,343.9 L592.8,343.8 L593.3,343.6 L593.8,343.5 L594.3,343.3 L594.8,343.1 L595.3,342.9 L595.8,342.7 L596.3,342.5 L596.8,342.2 L597.3,342.0 L597.8,341.7 L598.3,341.4 L598.8,341.2 L599.3,340.9 L599.8,340.7 L600.3,340.5 L600.8,340.3 L601.3,340.2 L601.8,340.2 L602.3,340.2 L602.8,340.2 L603.3,340.3 L603.8,340.5 L604.3,340.6 L604.8,340.7 L605.3,340.8 L605.8,340.9 L606.3,340.9 L606.8,341.0 L607.3,340.9 L607.8,340.9 L608.3,340.8 L608.8,340.7 L609.3,340.6 L609.8,340.5 L610.3,340.5 L610.8,340.5 L611.3,340.6 L611.8,340.8 L612.3,341.1 L612.8,341.3 L613.3,341.6 L613.8,341.8 L614.3,342.0 L614.8,342.2 L615.3,342.4 L615.8,342.6 L616.3,342.7 L616.8,342.8 L617.3,342.9 L617.8,343.0 L618.3,343.0 L618.8,343.1 L619.3,343.1 L619.8,343.1 L620.3,343.1 L620.8,343.1 L621.3,343.1 L621.8,343.1 L622.3,343.0 L622.8,343.0 L623.3,342.9 L623.8,342.8 L624.3,342.8 L624.8,342.7 L625.3,342.5 L625.8,342.4 L626.3,342.3 L626.8,342.1 L627.3,341.9 L627.8,341.8 L628.3,341.6 L628.8,341.3 L629.3,341.1 L629.8,340.9 L630.3,340.7 L630.8,340.6 L631.3,340.4 L631.8,340.3 L632.3,340.3 L632.8,340.3 L633.3,340.4 L633.8,340.6 L634.3,340.7 L634.8,341.0 L635.3,341.2 L635.8,341.5 L636.3,341.7 L636.8,342.0 L637.3,342.2 L637.8,342.4 L638.3,342.6 L638.8,342.8 L639.3,343.0 L639.8,343.2 L640.3,343.3 L640.8,343.5 L641.3,343.6 L641.8,343.7 L642.3,343.8 L642.8,343.9 L643.3,343.9 L643.8,344.0 L644.3,344.1 L644.8,344.1 L645.3,344.2 L645.8,344.2 L646.3,344.3 L646.8,344.3 L647.3,344.4 L647.8,344.4 L648.3,344.4 L648.8,344.5 L649.3,344.5 L649.8,344.5 L650.3,344.6 L650.8,344.6 L651.3,344.6 L651.8,344.6 L652.3,344.7 L652.8,344.7 L653.3,344.7 L653.8,344.8 L654.3,344.8 L654.8,344.8 L655.3,344.9 L655.8,344.9 L656.3,344.9 L656.8,344.9 L657.3,345.0 L657.8,345.0 L658.3,345.0 L658.8,345.1 L659.3,345.1 L659.8,345.1 L660.3,345.2 L660.8,345.2 L661.3,345.2 L661.8,345.3 L662.3,345.3 L662.8,345.4 L663.3,345.4 L663.8,345.5 L664.3,345.5 L664.8,345.5 L665.3,345.6 L665.8,345.6 L666.3,345.7 L666.8,345.7 L667.3,345.8 L667.8,345.8 L668.3,345.9 L668.8,345.9 L669.3,346.0 L669.8,346.0 L670.3,346.1 L670.8,346.1 L671.3,346.2 L671.8,346.2 L672.3,346.3 L672.8,346.3 L673.3,346.3 L673.8,346.4 L674.3,346.4 L674.8,346.5 L675.3,346.5 L675.8,346.5 L676.3,346.6 L676.8,346.6 L677.3,346.6 L677.8,346.7 L678.3,346.7 L678.8,346.7 L679.3,346.7 L679.8,346.8 L680.3,346.8 L680.8,346.8 L681.3,346.8 L681.8,346.9 L682.3,346.9 L682.8,346.9 L683.3,346.9 L683.8,346.9 L684.3,347.0 L684.8,347.0 L685.3,347.0 L685.8,347.0 L686.3,347.0 L686.8,347.0 L687.3,347.1 L687.8,347.1 L688.3,347.1 L688.8,347.1 L689.3,347.1 L689.8,347.1 L690.3,347.1 L690.8,347.2 L691.3,347.2 L691.8,347.2 L692.3,347.2 L692.8,347.2 L693.3,347.2 L693.8,347.2 L694.3,347.2 L694.8,347.2 L695.3,347.2 L695.8,347.3 L696.3,347.3 L696.8,347.3 L697.3,347.3 L697.8,347.3 L698.3,347.3 L698.8,347.3 L699.3,347.3 L699.8,347.3 L700.3,347.3 L700.8,347.3 L701.3,347.3 L701.8,347.3 L702.3,347.4 L702.8,347.4 L703.3,347.4 L703.8,347.4 L704.3,347.4 L704.8,347.4 L705.3,347.4 L705.8,347.4 L706.3,347.4 L706.8,347.4 L707.3,347.4 L707.8,347.4 L708.3,347.4 L708.8,347.4 L709.3,347.4 L709.8,347.4 L710.3,347.4 L710.8,347.4 L711.3,347.4 L711.8,347.4 L712.3,347.5 L712.8,347.5 L713.3,347.5 L713.8,347.5 L714.3,347.5 L714.8,347.5 L715.3,347.5 L715.8,347.5 L716.3,347.5 L716.8,347.5 L717.3,347.5 L717.8,347.5 L718.3,347.5 L718.8,347.5 L719.3,347.5 L719.8,347.5 L720.3,347.5 L720.8,347.5 L721.3,347.5 L721.8,347.5 L722.3,347.5 L722.8,347.5 L723.3,347.5 L723.8,347.5 L724.3,347.5 L724.8,347.5 L725.3,347.5 L725.8,347.5 L726.3,347.5 L726.8,347.5 L727.3,347.5 L727.8,347.5 L728.3,347.5 L728.8,347.5 L729.3,347.6 L729.8,347.6 L730.3,347.6 L730.8,347.6 L731.3,347.6 L731.8,347.6 L732.3,347.6 L732.8,347.6 L733.3,347.6 L733.8,347.6 L734.3,347.6 L734.8,347.6 L735.3,347.6 L735.8,347.6 L736.3,347.6 L736.8,347.6 L737.3,347.6 L737.8,347.6 L738.3,347.6 L738.8,347.6 L739.3,347.6 L739.8,347.6 L740.3,347.6 L740.8,347.6 L741.3,347.6 L741.8,347.6 L742.3,347.6 L742.8,347.6 L743.3,347.6 L743.8,347.6 L744.3,347.6 L744.8,347.6 L745.3,347.6 L745.8,347.6 L746.3,347.6 L746.8,347.6 L747.3,347.6 L747.8,347.6 L748.3,347.6 L748.8,347.6 L749.3,347.6 L749.8,347.6 L750.3,347.6 L750.8,347.6 L751.3,347.6 L751.8,347.6 L752.3,347.6 L752.8,347.6 L753.3,347.6 L753.8,347.6 L754.3,347.6 L754.8,347.6 L755.3,347.6 L755.8,347.6 L756.3,347.6 L756.8,347.6 L757.3,347.6 L757.8,347.6 L758.3,347.6 L758.8,347.6 L759.3,347.6 L759.8,347.6 L760.3,347.6 L760.8,347.6 L761.3,347.6 L761.8,347.6 L762.3,347.6 L762.8,347.6 L763.3,347.6 L763.8,347.6 L764.3,347.6 L764.8,347.6 L765.3,347.7 L765.8,347.7 L766.3,347.7 L766.8,347.7 L767.3,347.7 L767.8,347.7 L768.3,347.7 L768.8,347.7 L769.3,347.7 L769.8,347.7 L770.3,347.7 L770.8,347.7 L771.3,347.7 L771.8,347.7 L772.3,347.7 L772.8,347.7 L773.3,347.7 L773.8,347.7 L774.3,347.7 L774.8,347.7 L775.3,347.7 L775.8,347.7 L776.3,347.7 L776.8,347.7 L777.3,347.7 L777.8,347.7 L778.3,347.7 L778.8,347.7 L779.3,347.7 L779.8,347.7 L780.3,347.7 L780.8,347.7 L781.3,347.7 L781.8,347.7 L782.3,347.7 L782.8,347.7 L783.3,347.7 L783.8,347.7 L784.3,347.7 L784.8,347.7 L785.3,347.7 L785.8,347.7 L786.3,347.7 L786.8,347.7 L787.3,347.7 L787.8,347.7 L788.3,347.7 L788.8,347.7 L789.3,347.7 L789.8,347.7 L790.3,347.7 L790.8,347.7 L791.3,347.7 L791.8,347.7 L792.3,347.7 L792.8,347.7 L793.3,347.7 L793.8,347.7 L794.3,347.7 L794.8,347.7 L795.3,347.7 L795.8,347.7 L796.3,347.7 L796.8,347.7 L797.3,347.7 L797.8,347.7 L798.3,347.7 L798.8,347.7 L799.3,347.7 L799.8,347.7 L800.3,347.7 L800.8,347.7" stroke="#3800ff"/>
<path d="M69.3,299.6 L69.8,299.5 L70.3,299.5 L70.8,299.5 L71.3,299.4 L71.8,299.4 L72.3,299.3 L72.8,299.3 L73.3,299.2 L73.8,299.2 L74.3,299.1 L74.8,299.1 L75.3,299.0 L75.8,299.0 L76.3,298.9 L76.8,298.8 L77.3,298.8 L77.8,298.7 L78.3,298.6 L78.8,298.5 L79.3,298.5 L79.8,298.4 L80.3,298.3 L80.8,298.1 L81.3,298.0 L81.8,297.9 L82.3,297.8 L82.8,297.6 L83.3,297.5 L83.8,297.3 L84.3,297.2 L84.8,297.0 L85.3,296.9 L85.8,296.8 L86.3,296.7 L86.8,296.6 L87.3,296.5 L87.8,296.5 L88.3,296.5 L88.8,296.5 L89.3,296.6 L89.8,296.6 L90.3,296.7 L90.8,296.8 L91.3,296.9 L91.8,297.0 L92.3,297.1 L92.8,297.2 L93.3,297.3 L93.8,297.4 L94.3,297.5 L94.8,297.5 L95.3,297.5 L95.8,297.6 L96.3,297.6 L96.8,297.5 L97.3,297.5 L97.8,297.5 L98.3,297.4 L98.8,297.3 L99.3,297.3 L99.8,297.2 L100.3,297.1 L100.8,297.1 L101.3,297.0 L101.8,297.0 L102.3,297.0 L102.8,297.0 L103.3,297.1 L103.8,297.2 L104.3,297.3 L104.8,297.4 L105.3,297.6 L105.8,297.7 L106.3,297.9 L106.8,298.0 L107.3,298.2 L107.8,298.3 L108.3,298.5 L108.8,298.6 L109.3,298.7 L109.8,298.9 L110.3,299.0 L110.8,299.0 L111.3,299.1 L111.8,299.2 L112.3,299.2 L112.8,299.3 L113.3,299.3 L113.8,299.3 L114.3,299.3 L114.8,299.3 L115.3,299.3 L115.8,299.3 L116.3,299.3 L116.8,299.2 L117.3,299.2 L117.8,299.1 L118.3,299.0 L118.8,299.0 L119.3,298.9 L119.8,298.8 L120.3,298.6 L120.8,298.5 L121.3,298.4 L121.8,298.2 L122.3,298.0 L122.8,297.9 L123.3,297.7 L123.8,297.5 L124.3,297.3 L124.8,297.1 L125.3,296.8 L125.8,296.6 L126.3,296.4 L126.8,296.2 L127.3,296.1 L127.8,295.9 L128.3,295.8 L128.8,295.7 L129.3,295.7 L129.8,295.7 L130.3,295.7 L130.8,295.8 L131.3,295.9 L131.8,296.1 L132.3,296.2 L132.8,296.4 L133.3,296.6 L133.8,296.8 L134.3,297.0 L134.8,297.2 L135.3,297.3 L135.8,297.5 L136.3,297.7 L136.8,297.8 L137.3,297.9 L137.8,298.1 L138.3,298.2 L138.8,298.3 L139.3,298.3 L139.8,298.4 L140.3,298.4 L140.8,298.5 L141.3,298.5 L141.8,298.5 L142.3,298.5 L142.8,298.5 L143.3,298.5 L143.8,298.5 L144.3,298.4 L144.8,298.4 L145.3,298.3 L145.8,298.2 L146.3,298.1 L146.8,298.0 L147.3,297.9 L147.8,297.8 L148.3,297.6 L148.8,297.5 L149.3,297.3 L149.8,297.1 L150.3,296.9 L150.8,296.6 L151.3,296.4 L151.8,296.1 L152.3,295.8 L152.8,295.5 L153.3,295.2 L153.8,294.9 L154.3,294.6 L154.8,294.3 L155.3,294.0 L155.8,293.8 L156.3,293.5 L156.8,293.3 L157.3,293.2 L157.8,293.0 L158.3,293.0 L158.8,292.9 L159.3,292.9 L159.8,293.0 L160.3,293.1 L160.8,293.2 L161.3,293.3 L161.8,293.4 L162.3,293.5 L162.8,293.6 L163.3,293.7 L163.8,293.7 L164.3,293.7 L164.8,293.7 L165.3,293.6 L165.8,293.5 L166.3,293.4 L166.8,293.1 L167.3,292.9 L167.8,292.6 L168.3,292.2 L168.8,291.8 L169.3,291.4 L169.8,290.9 L170.3,290.4 L170.8,289.9 L171.3,289.4 L171.8,289.0 L172.3,288.7 L172.8,288.5 L173.3,288.5 L173.8,288.6 L174.3,288.8 L174.8,289.2 L175.3,289.6 L175.8,290.2 L176.3,290.8 L176.8,291.4 L177.3,292.0 L177.8,292.6 L178.3,293.1 L178.8,293.6 L179.3,294.1 L179.8,294.6 L180.3,295.0 L180.8,295.4 L181.3,295.7 L181.8,296.0 L182.3,296.3 L182.8,296.5 L183.3,296.7 L183.8,296.9 L184.3,297.1 L184.8,297.3 L185.3,297.4 L185.8,297.5 L186.3,297.6 L186.8,297.7 L187.3,297.8 L187.8,297.9 L188.3,298.0 L188.8,298.1 L189.3,298.1 L189.8,298.2 L190.3,298.2 L190.8,298.3 L191.3,298.3 L191.8,298.3 L192.3,298.4 L192.8,298.4 L193.3,298.4 L193.8,298.5 L194.3,298.5 L194.8,298.5 L195.3,298.5 L195.8,298.5 L196.3,298.6 L196.8,298.6 L197.3,298.6 L197.8,298.6 L198.3,298.6 L198.8,298.6 L199.3,298.6 L199.8,298.6 L200.3,298.6 L200.8,298.5 L201.3,298.5 L201.8,298.5 L202.3,298.4 L202.8,298.4 L203.3,298.3 L203.8,298.3 L204.3,298.2 L204.8,298.1 L205.3,298.0 L205.8,297.9 L206.3,297.8 L206.8,297.6 L207.3,297.5 L207.8,297.3 L208.3,297.2 L208.8,297.0 L209.3,296.8 L209.8,296.7 L210.3,296.5 L210.8,296.3 L211.3,296.2 L211.8,296.0 L212.3,295.9 L212.8,295.8 L213.3,295.7 L213.8,295.7 L214.3,295.7 L214.8,295.8 L215.3,295.8 L215.8,295.9 L216.3,296.1 L216.8,296.2 L217.3,296.4 L217.8,296.5 L218.3,296.7 L218.8,296.9 L219.3,297.1 L219.8,297.2 L220.3,297.4 L220.8,297.5 L221.3,297.7 L221.8,297.8 L222.3,297.9 L222.8,298.0 L223.3,298.0 L223.8,298.1 L224.3,298.2 L224.8,298.2 L225.3,298.2 L225.8,298.2 L226.3,298.2 L226.8,298.2 L227.3,298.1 L227.8,298.1 L228.3,298.0 L228.8,297.9 L229.3,297.9 L229.8,297.7 L230.3,297.6 L230.8,297.5 L231.3,297.3 L231.8,297.2 L232.3,297.0 L232.8,296.9 L233.3,296.7 L233.8,296.5 L234.3,296.3 L234.8,296.2 L235.3,296.0 L235.8,295.9 L236.3,295.8 L236.8,295.7 L237.3,295.7 L237.8,295.7 L238.3,295.7 L238.8,295.8 L239.3,295.9 L239.8,296.0 L240.3,296.1 L240.8,296.3 L241.3,296.4 L241.8,296.6 L242.3,296.7 L242.8,296.9 L243.3,297.0 L243.8,297.1 L244.3,297.2 L244.8,297.3 L245.3,297.3 L245.8,297.4 L246.3,297.4 L246.8,297.4 L247.3,297.4 L247.8,297.4 L248.3,297.3 L248.8,297.3 L249.3,297.2 L249.8,297.1 L250.3,297.0 L250.8,297.0 L251.3,296.9 L251.8,296.8 L252.3,296.7 L252.8,296.6 L253.3,296.6 L253.8,296.6 L254.3,296.6 L254.8,296.7 L255.3,296.7 L255.8,296.8 L256.3,297.0 L256.8,297.1 L257.3,297.2 L257.8,297.4 L258.3,297.5 L258.8,297.6 L259.3,297.8 L259.8,297.9 L260.3,298.0 L260.8,298.1 L261.3,298.2 L261.8,298.3 L262.3,298.4 L262.8,298.4 L263.3,298.5 L263.8,298.6 L264.3,298.6 L264.8,298.7 L265.3,298.7 L265.8,298.7 L266.3,298.7 L266.8,298.8 L267.3,298.8 L267.8,298.8 L268.3,298.8 L268.8,298.8 L269.3,298.8 L269.8,298.9 L270.3,298.9 L270.8,298.9 L271.3,298.8 L271.8,298.8 L272.3,298.8 L272.8,298.8 L273.3,298.8 L273.8,298.8 L274.3,298.7 L274.8,298.7 L275.3,298.7 L275.8,298.6 L276.3,298.5 L276.8,298.5 L277.3,298.4 L277.8,298.3 L278.3,298.3 L278.8,298.2 L279.3,298.1 L279.8,298.0 L280.3,297.9 L280.8,297.7 L281.3,297.6 L281.8,297.5 L282.3,297.3 L282.8,297.2 L283.3,297.0 L283.8,296.8 L284.3,296.7 L284.8,296.5 L285.3,296.4 L285.8,296.2 L286.3,296.1 L286.8,296.0 L287.3,295.9 L287.8,295.9 L288.3,295.9 L288.8,295.9 L289.3,296.0 L289.8,296.0 L290.3,296.1 L290.8,296.2 L291.3,296.4 L291.8,296.5 L292.3,296.6 L292.8,296.7 L293.3,296.8 L293.8,296.9 L294.3,297.0 L294.8,297.1 L295.3,297.2 L295.8,297.2 L296.3,297.3 L296.8,297.3 L297.3,297.3 L297.8,297.3 L298.3,297.2 L298.8,297.2 L299.3,297.1 L299.8,297.0 L300.3,296.8 L300.8,296.7 L301.3,296.5 L301.8,296.2 L302.3,296.0 L302.8,295.6 L303.3,295.3 L303.8,294.9 L304.3,294.4 L304.8,293.9 L305.3,293.4 L305.8,292.8 L306.3,292.2 L306.8,291.6 L307.3,291.0 L307.8,290.4 L308.3,290.0 L308.8,289.6 L309.3,289.4 L309.8,289.3 L310.3,289.3 L310.8,289.3 L311.3,289.4 L311.8,289.5 L312.3,289.5 L312.8,289.4 L313.3,289.2 L313.8,289.0 L314.3,288.5 L314.8,288.0 L315.3,287.3 L315.8,286.4 L316.3,285.3 L316.8,284.0 L317.3,282.5 L317.8,280.8 L318.3,278.9 L318.8,276.9 L319.3,274.7 L319.8,272.5 L320.3,270.5 L320.8,268.8 L321.3,267.7 L321.8,267.2 L322.3,267.5 L322.8,268.4 L323.3,270.0 L323.8,272.0 L324.3,274.2 L324.8,276.5 L325.3,278.7 L325.8,280.8 L326.3,282.7 L326.8,284.4 L327.3,285.9 L327.8,287.3 L328.3,288.5 L328.8,289.5 L329.3,290.4 L329.8,291.2 L330.3,291.9 L330.8,292.5 L331.3,293.0 L331.8,293.5 L332.3,293.9 L332.8,294.2 L333.3,294.5 L333.8,294.8 L334.3,295.0 L334.8,295.2 L335.3,295.4 L335.8,295.5 L336.3,295.6 L336.8,295.7 L337.3,295.8 L337.8,295.9 L338.3,295.9 L338.8,296.0 L339.3,296.0 L339.8,296.0 L340.3,295.9 L340.8,295.9 L341.3,295.8 L341.8,295.7 L342.3,295.6 L342.8,295.5 L343.3,295.3 L343.8,295.1 L344.3,294.8 L344.8,294.5 L345.3,294.1 L345.8,293.7 L346.3,293.2 L346.8,292.6 L347.3,291.9 L347.8,291.1 L348.3,290.2 L348.8,289.2 L349.3,288.0 L349.8,286.7 L350.3,285.4 L350.8,283.9 L351.3,282.5 L351.8,281.1 L352.3,280.1 L352.8,279.3 L353.3,279.0 L353.8,279.2 L354.3,279.9 L354.8,280.9 L355.3,282.3 L355.8,283.8 L356.3,285.3 L356.8,286.8 L357.3,288.2 L357.8,289.5 L358.3,290.7 L358.8,291.8 L359.3,292.7 L359.8,293.5 L360.3,294.3 L360.8,294.9 L361.3,295.5 L361.8,296.0 L362.3,296.4 L362.8,296.8 L363.3,297.2 L363.8,297.5 L364.3,297.8 L364.8,298.0 L365.3,298.2 L365.8,298.5 L366.3,298.6 L366.8,298.8 L367.3,299.0 L367.8,299.1 L368.3,299.2 L368.8,299.3 L369.3,299.5 L369.8,299.6 L370.3,299.6 L370.8,299.7 L371.3,299.8 L371.8,299.9 L372.3,299.9 L372.8,300.0 L373.3,300.1 L373.8,300.1 L374.3,300.2 L374.8,300.2 L375.3,300.2 L375.8,300.3 L376.3,300.3 L376.8,300.3 L377.3,300.4 L377.8,300.4 L378.3,300.4 L378.8,300.4 L379.3,300.4 L379.8,300.5 L380.3,300.5 L380.8,300.5 L381.3,300.5 L381.8,300.5 L382.3,300.5 L382.8,300.5 L383.3,300.5 L383.8,300.5 L384.3,300.5 L384.8,300.5 L385.3,300.5 L385.8,300.5 L386.3,300.5 L386.8,300.5 L387.3,300.5 L387.8,300.5 L388.3,300.5 L388.8,300.4 L389.3,300.4 L389.8,300.4 L390.3,300.4 L390.8,300.4 L391.3,300.3 L391.8,300.3 L392.3,300.3 L392.8,300.2 L393.3,300.2 L393.8,300.2 L394.3,300.1 L394.8,300.1 L395.3,300.0 L395.8,300.0 L396.3,299.9 L396.8,299.9 L397.3,299.8 L397.8,299.7 L398.3,299.7 L398.8,299.6 L399.3,299.5 L399.8,299.4 L400.3,299.3 L400.8,299.2 L401.3,299.1 L401.8,299.0 L402.3,298.8 L402.8,298.7 L403.3,298.5 L403.8,298.4 L404.3,298.2 L404.8,298.0 L405.3,297.8 L405.8,297.5 L406.3,297.3 L406.8,297.0 L407.3,296.7 L407.8,296.3 L408.3,296.0 L408.8,295.5 L409.3,295.1 L409.8,294.5 L410.3,293.9 L410.8,293.3 L411.3,292.5 L411.8,291.7 L412.3,290.7 L412.8,289.7 L413.3,288.4 L413.8,287.1 L414.3,285.5 L414.8,283.7 L415.3,281.7 L415.8,279.4 L416.3,277.0 L416.8,274.3 L417.3,271.4 L417.8,268.6 L418.3,265.8 L418.8,263.4 L419.3,261.5 L419.8,260.5 L420.3,260.4 L420.8,261.2 L421.3,262.8 L421.8,265.0 L422.3,267.7 L422.8,270.5 L423.3,273.2 L423.8,275.9 L424.3,278.3 L424.8,280.5 L425.3,282.5 L425.8,284.3 L426.3,285.8 L426.8,287.1 L427.3,288.3 L427.8,289.3 L428.3,290.1 L428.8,290.9 L429.3,291.6 L429.8,292.1 L430.3,292.6 L430.8,293.0 L431.3,293.3 L431.8,293.6 L432.3,293.8 L432.8,294.0 L433.3,294.1 L433.8,294.2 L434.3,294.2 L434.8,294.2 L435.3,294.1 L435.8,294.0 L436.3,293.8 L436.8,293.5 L437.3,293.2 L437.8,292.8 L438.3,292.4 L438.8,292.0 L439.3,291.5 L439.8,291.1 L440.3,290.8 L440.8,290.6 L441.3,290.5 L441.8,290.6 L442.3,290.9 L442.8,291.3 L443.3,291.8 L443.8,292.3 L444.3,292.9 L444.8,293.5 L445.3,294.0 L445.8,294.4 L446.3,294.8 L446.8,295.2 L447.3,295.5 L447.8,295.8 L448.3,296.0 L448.8,296.2 L449.3,296.4 L449.8,296.5 L450.3,296.6 L450.8,296.7 L451.3,296.7 L451.8,296.8 L452.3,296.8 L452.8,296.8 L453.3,296.8 L453.8,296.7 L454.3,296.6 L454.8,296.6 L455.3,296.5 L455.8,296.4 L456.3,296.2 L456.8,296.1 L457.3,295.9 L457.8,295.7 L458.3,295.5 L458.8,295.2 L459.3,295.0 L459.8,294.7 L460.3,294.3 L460.8,293.9 L461.3,293.5 L461.8,293.1 L462.3,292.6 L462.8,292.0 L463.3,291.4 L463.8,290.7 L464.3,289.9 L464.8,289.1 L465.3,288.1 L465.8,287.0 L466.3,285.8 L466.8,284.4 L467.3,282.8 L467.8,281.1 L468.3,279.1 L468.8,276.8 L469.3,274.2 L469.8,271.3 L470.3,267.9 L470.8,264.1 L471.3,259.9 L471.8,255.1 L472.3,249.8 L472.8,244.2 L473.3,238.2 L473.8,232.2 L474.3,226.6 L474.8,221.8 L475.3,218.3 L475.8,216.6 L476.3,216.8 L476.8,218.9 L477.3,222.7 L477.8,227.8 L478.3,233.5 L478.8,239.5 L479.3,245.5 L479.8,251.1 L480.3,256.3 L480.8,261.0 L481.3,265.2 L481.8,268.9 L482.3,272.2 L482.8,275.1 L483.3,277.6 L483.8,279.9 L484.3,281.8 L484.8,283.6 L485.3,285.1 L485.8,286.5 L486.3,287.7 L486.8,288.8 L487.3,289.8 L487.8,290.7 L488.3,291.5 L488.8,292.2 L489.3,292.8 L489.8,293.4 L490.3,294.0 L490.8,294.4 L491.3,294.9 L491.8,295.3 L492.3,295.7 L492.8,296.0 L493.3,296.3 L493.8,296.6 L494.3,296.9 L494.8,297.2 L495.3,297.4 L495.8,297.6 L496.3,297.8 L496.8,298.0 L497.3,298.2 L497.8,298.4 L498.3,298.5 L498.8,298.7 L499.3,298.8 L499.8,298.9 L500.3,299.1 L500.8,299.2 L501.3,299.3 L501.8,299.4 L502.3,299.5 L502.8,299.6 L503.3,299.7 L503.8,299.8 L504.3,299.8 L504.8,299.9 L505.3,300.0 L505.8,300.1 L506.3,300.1 L506.8,300.2 L507.3,300.2 L507.8,300.3 L508.3,300.3 L508.8,300.4 L509.3,300.4 L509.8,300.5 L510.3,300.5 L510.8,300.6 L511.3,300.6 L511.8,300.7 L512.3,300.7 L512.8,300.7 L513.3,300.8 L513.8,300.8 L514.3,300.8 L514.8,300.9 L515.3,300.9 L515.8,300.9 L516.3,300.9 L516.8,301.0 L517.3,301.0 L517.8,301.0 L518.3,301.0 L518.8,301.1 L519.3,301.1 L519.8,301.1 L520.3,301.1 L520.8,301.1 L521.3,301.2 L521.8,301.2 L522.3,301.2 L522.8,301.2 L523.3,301.2 L523.8,301.2 L524.3,301.2 L524.8,301.2 L525.3,301.3 L525.8,301.3 L526.3,301.3 L526.8,301.3 L527.3,301.3 L527.8,301.3 L528.3,301.3 L528.8,301.3 L529.3,301.3 L529.8,301.3 L530.3,301.3 L530.8,301.3 L531.3,301.3 L531.8,301.3 L532.3,301.3 L532.8,301.3 L533.3,301.3 L533.8,301.3 L534.3,301.3 L534.8,301.3 L535.3,301.3 L535.8,301.3 L536.3,301.2 L536.8,301.2 L537.3,301.2 L537.8,301.2 L538.3,301.1 L538.8,301.1 L539.3,301.1 L539.8,301.0 L540.3,301.0 L540.8,300.9 L541.3,300.9 L541.8,300.8 L542.3,300.8 L542.8,300.7 L543.3,300.6 L543.8,300.5 L544.3,300.4 L544.8,300.4 L545.3,300.3 L545.8,300.2 L546.3,300.1 L546.8,300.1 L547.3,300.0 L547.8,300.0 L548.3,300.0 L548.8,300.0 L549.3,300.1 L549.8,300.1 L550.3,300.2 L550.8,300.3 L551.3,300.4 L551.8,300.5 L552.3,300.6 L552.8,300.6 L553.3,300.7 L553.8,300.8 L554.3,300.8 L554.8,300.9 L555.3,301.0 L555.8,301.0 L556.3,301.0 L556.8,301.1 L557.3,301.1 L557.8,301.1 L558.3,301.2 L558.8,301.2 L559.3,301.2 L559.8,301.2 L560.3,301.2 L560.8,301.2 L561.3,301.3 L561.8,301.3 L562.3,301.3 L562.8,301.3 L563.3,301.3 L563.8,301.3 L564.3,301.3 L564.8,301.3 L565.3,301.3 L565.8,301.2 L566.3,301.2 L566.8,301.2 L567.3,301.2 L567.8,301.2 L568.3,301.2 L568.8,301.2 L569.3,301.2 L569.8,301.2 L570.3,301.1 L570.8,301.1 L571.3,301.1 L571.8,301.1 L572.3,301.1 L572.8,301.1 L573.3,301.0 L573.8,301.0 L574.3,301.0 L574.8,301.0 L575.3,301.0 L575.8,300.9 L576.3,300.9 L576.8,300.9 L577.3,300.9 L577.8,300.9 L578.3,300.9 L578.8,300.9 L579.3,300.8 L579.8,300.8 L580.3,300.8 L580.8,300.8 L581.3,300.8 L581.8,300.8 L582.3,300.8 L582.8,300.8 L583.3,300.8 L583.8,300.8 L584.3,300.7 L584.8,300.7 L585.3,300.7 L585.8,300.7 L586.3,300.7 L586.8,300.7 L587.3,300.7 L587.8,300.7 L588.3,300.7 L588.8,300.7 L589.3,300.7 L589.8,300.7 L590.3,300.7 L590.8,300.6 L591.3,300.6 L591.8,300.6 L592.3,300.6 L592.8,300.6 L593.3,300.6 L593.8,300.6 L594.3,300.6 L594.8,300.6 L595.3,300.6 L595.8,300.6 L596.3,300.6 L596.8,300.6 L597.3,300.6 L597.8,300.6 L598.3,300.5 L598.8,300.5 L599.3,300.5 L599.8,300.5 L600.3,300.5 L600.8,300.5 L601.3,300.5 L601.8,300.5 L602.3,300.4 L602.8,300.4 L603.3,300.4 L603.8,300.4 L604.3,300.4 L604.8,300.3 L605.3,300.3 L605.8,300.3 L606.3,300.3 L606.8,300.2 L607.3,300.2 L607.8,300.2 L608.3,300.1 L608.8,300.1 L609.3,300.0 L609.8,300.0 L610.3,299.9 L610.8,299.9 L611.3,299.8 L611.8,299.8 L612.3,299.7 L612.8,299.6 L613.3,299.6 L613.8,299.5 L614.3,299.4 L614.8,299.3 L615.3,299.2 L615.8,299.2 L616.3,299.1 L616.8,299.0 L617.3,298.9 L617.8,298.8 L618.3,298.7 L618.8,298.7 L619.3,298.6 L619.8,298.5 L620.3,298.5 L620.8,298.4 L621.3,298.4 L621.8,298.3 L622.3,298.3 L622.8,298.3 L623.3,298.3 L623.8,298.2 L624.3,298.2 L624.8,298.2 L625.3,298.1 L625.8,298.1 L626.3,298.1 L626.8,298.0 L627.3,298.0 L627.8,297.9 L628.3,297.8 L628.8,297.8 L629.3,297.7 L629.8,297.6 L630.3,297.5 L630.8,297.4 L631.3,297.3 L631.8,297.2 L632.3,297.2 L632.8,297.1 L633.3,297.0 L633.8,297.0 L634.3,296.9 L634.8,296.9 L635.3,296.9 L635.8,296.8 L636.3,296.8 L636.8,296.8 L637.3,296.8 L637.8,296.8 L638.3,296.8 L638.8,296.8 L639.3,296.7 L639.8,296.7 L640.3,296.7 L640.8,296.7 L641.3,296.6 L641.8,296.6 L642.3,296.6 L642.8,296.5 L643.3,296.4 L643.8,296.4 L644.3,296.3 L644.8,296.2 L645.3,296.1 L645.8,296.0 L646.3,295.9 L646.8,295.8 L647.3,295.6 L647.8,295.5 L648.3,295.4 L648.8,295.3 L649.3,295.2 L649.8,295.2 L650.3,295.2 L650.8,295.2 L651.3,295.3 L651.8,295.4 L652.3,295.6 L652.8,295.8 L653.3,296.0 L653.8,296.2 L654.3,296.5 L654.8,296.7 L655.3,296.9 L655.8,297.1 L656.3,297.3 L656.8,297.5 L657.3,297.7 L657.8,297.9 L658.3,298.0 L658.8,298.2 L659.3,298.3 L659.8,298.4 L660.3,298.6 L660.8,298.7 L661.3,298.8 L661.8,298.9 L662.3,299.0 L662.8,299.1 L663.3,299.1 L663.8,299.2 L664.3,299.3 L664.8,299.3 L665.3,299.4 L665.8,299.5 L666.3,299.5 L666.8,299.6 L667.3,299.6 L667.8,299.7 L668.3,299.7 L668.8,299.8 L669.3,299.8 L669.8,299.9 L670.3,299.9 L670.8,300.0 L671.3,300.0 L671.8,300.0 L672.3,300.1 L672.8,300.1 L673.3,300.1 L673.8,300.2 L674.3,300.2 L674.8,300.2 L675.3,300.2 L675.8,300.3 L676.3,300.3 L676.8,300.3 L677.3,300.4 L677.8,300.4 L678.3,300.4 L678.8,300.4 L679.3,300.5 L679.8,300.5 L680.3,300.5 L680.8,300.6 L681.3,300.6 L681.8,300.6 L682.3,300.6 L682.8,300.6 L683.3,300.7 L683.8,300.7 L684.3,300.7 L684.8,300.7 L685.3,300.8 L685.8,300.8 L686.3,300.8 L686.8,300.8 L687.3,300.9 L687.8,300.9 L688.3,300.9 L688.8,300.9 L689.3,301.0 L689.8,301.0 L690.3,301.0 L690.8,301.0 L691.3,301.0 L691.8,301.1 L692.3,301.1 L692.8,301.1 L693.3,301.1 L693.8,301.2 L694.3,301.2 L694.8,301.2 L695.3,301.2 L695.8,301.2 L696.3,301.3 L696.8,301.3 L697.3,301.3 L697.8,301.3 L698.3,301.3 L698.8,301.4 L699.3,301.4 L699.8,301.4 L700.3,301.4 L700.8,301.4 L701.3,301.5 L701.8,301.5 L702.3,301.5 L702.8,301.5 L703.3,301.5 L703.8,301.5 L704.3,301.6 L704.8,301.6 L705.3,301.6 L705.8,301.6 L706.3,301.6 L706.8,301.6 L707.3,301.6 L707.8,301.7 L708.3,301.7 L708.8,301.7 L709.3,301.7 L709.8,301.7 L710.3,301.7 L710.8,301.7 L711.3,301.7 L711.8,301.8 L712.3,301.8 L712.8,301.8 L713.3,301.8 L713.8,301.8 L714.3,301.8 L714.8,301.8 L715.3,301.8 L715.8,301.8 L716.3,301.8 L716.8,301.8 L717.3,301.9 L717.8,301.9 L718.3,301.9 L718.8,301.9 L719.3,301.9 L719.8,301.9 L720.3,301.9 L720.8,301.9 L721.3,301.9 L721.8,301.9 L722.3,301.9 L722.8,301.9 L723.3,301.9 L723.8,302.0 L724.3,302.0 L724.8,302.0 L725.3,302.0 L725.8,302.0 L726.3,302.0 L726.8,302.0 L727.3,302.0 L727.8,302.0 L728.3,302.0 L728.8,302.0 L729.3,302.0 L729.8,302.0 L730.3,302.0 L730.8,302.0 L731.3,302.0 L731.8,302.0 L732.3,302.0 L732.8,302.0 L733.3,302.0 L733.8,302.0 L734.3,302.0 L734.8,302.1 L735.3,302.1 L735.8,302.1 L736.3,302.1 L736.8,302.1 L737.3,302.1 L737.8,302.1 L738.3,302.1 L738.8,302.1 L739.3,302.1 L739.8,302.1 L740.3,302.1 L740.8,302.1 L741.3,302.1 L741.8,302.1 L742.3,302.1 L742.8,302.1 L743.3,302.1 L743.8,302.1 L744.3,302.1 L744.8,302.1 L745.3,302.1 L745.8,302.1 L746.3,302.1 L746.8,302.1 L747.3,302.1 L747.8,302.1 L748.3,302.1 L748.8,302.1 L749.3,302.1 L749.8,302.1 L750.3,302.1 L750.8,302.1 L751.3,302.1 L751.8,302.1 L752.3,302.1 L752.8,302.1 L753.3,302.1 L753.8,302.1 L754.3,302.0 L754.8,302.0 L755.3,302.0 L755.8,302.0 L756.3,302.0 L756.8,302.0 L757.3,302.0 L757.8,302.0 L758.3,302.0 L758.8,302.0 L759.3,302.0 L759.8,302.0 L760.3,302.0 L760.8,302.0 L761.3,302.0 L761.8,302.0 L762.3,302.0 L762.8,302.0 L763.3,302.0 L763.8,302.0 L764.3,302.0 L764.8,302.0 L765.3,302.0 L765.8,302.0 L766.3,302.0 L766.8,302.0 L767.3,302.0 L767.8,302.0 L768.3,302.0 L768.8,302.0 L769.3,302.0 L769.8,302.0 L770.3,302.0 L770.8,302.0 L771.3,302.0 L771.8,302.0 L772.3,302.0 L772.8,302.0 L773.3,302.0 L773.8,302.0 L774.3,302.0 L774.8,302.0 L775.3,302.0 L775.8,302.0 L776.3,302.0 L776.8,302.1 L777.3,302.1 L777.8,302.1 L778.3,302.1 L778.8,302.1 L779.3,302.1 L779.8,302.1 L780.3,302.1 L780.8,302.1 L781.3,302.1 L781.8,302.1 L782.3,302.1 L782.8,302.1 L783.3,302.1 L783.8,302.1 L784.3,302.1 L784.8,302.1 L785.3,302.1 L785.8,302.1 L786.3,302.2 L786.8,302.2 L787.3,302.2 L787.8,302.2 L788.3,302.2 L788.8,302.2 L789.3,302.2 L789.8,302.2 L790.3,302.2 L790.8,302.2 L791.3,302.2 L791.8,302.2 L792.3,302.2 L792.8,302.2 L793.3,302.2 L793.8,302.2 L794.3,302.2 L794.8,302.2 L795.3,302.2 L795.8,302.2 L796.3,302.2 L796.8,302.3 L797.3,302.3 L797.8,302.3 L798.3,302.3 L798.8,302.3 L799.3,302.3 L799.8,302.3 L800.3,302.3 L800.8,302.3" stroke="#7800ff"/>
<path d="M69.3,256.1 L69.8,256.1 L70.3,256.0 L70.8,256.0 L71.3,256.0 L71.8,255.9 L72.3,255.9 L72.8,255.9 L73.3,255.8 L73.8,255.8 L74.3,255.8 L74.8,255.7 L75.3,255.7 L75.8,255.6 L76.3,255.6 L76.8,255.6 L77.3,255.5 L77.8,255.5 L78.3,255.4 L78.8,255.4 L79.3,255.3 L79.8,255.3 L80.3,255.2 L80.8,255.2 L81.3,255.1 L81.8,255.1 L82.3,255.0 L82.8,255.0 L83.3,254.9 L83.8,254.9 L84.3,254.8 L84.8,254.7 L85.3,254.7 L85.8,254.6 L86.3,254.6 L86.8,254.5 L87.3,254.4 L87.8,254.4 L88.3,254.3 L88.8,254.3 L89.3,254.2 L89.8,254.1 L90.3,254.1 L90.8,254.0 L91.3,253.9 L91.8,253.8 L92.3,253.7 L92.8,253.6 L93.3,253.5 L93.8,253.4 L94.3,253.3 L94.8,253.2 L95.3,253.1 L95.8,253.0 L96.3,252.9 L96.8,252.7 L97.3,252.6 L97.8,252.5 L98.3,252.4 L98.8,252.3 L99.3,252.2 L99.8,252.1 L100.3,252.0 L100.8,251.9 L101.3,251.8 L101.8,251.8 L102.3,251.8 L102.8,251.8 L103.3,251.8 L103.8,251.8 L104.3,251.9 L104.8,251.9 L105.3,252.0 L105.8,252.1 L106.3,252.2 L106.8,252.3 L107.3,252.4 L107.8,252.5 L108.3,252.6 L108.8,252.8 L109.3,252.9 L109.8,253.0 L110.3,253.1 L110.8,253.2 L111.3,253.2 L111.8,253.3 L112.3,253.4 L112.8,253.5 L113.3,253.5 L113.8,253.6 L114.3,253.6 L114.8,253.7 L115.3,253.7 L115.8,253.7 L116.3,253.7 L116.8,253.7 L117.3,253.7 L117.8,253.7 L118.3,253.7 L118.8,253.6 L119.3,253.6 L119.8,253.5 L120.3,253.5 L120.8,253.4 L121.3,253.3 L121.8,253.3 L122.3,253.2 L122.8,253.1 L123.3,252.9 L123.8,252.8 L124.3,252.7 L124.8,252.5 L125.3,252.4 L125.8,252.2 L126.3,252.1 L126.8,251.9 L127.3,251.7 L127.8,251.5 L128.3,251.3 L128.8,251.2 L129.3,251.0 L129.8,250.9 L130.3,250.7 L130.8,250.6 L131.3,250.5 L131.8,250.4 L132.3,250.4 L132.8,250.3 L133.3,250.3 L133.8,250.3 L134.3,250.4 L134.8,250.4 L135.3,250.4 L135.8,250.5 L136.3,250.5 L136.8,250.5 L137.3,250.5 L137.8,250.5 L138.3,250.5 L138.8,250.5 L139.3,250.4 L139.8,250.3 L140.3,250.2 L140.8,250.0 L141.3,249.8 L141.8,249.6 L142.3,249.3 L142.8,249.0 L143.3,248.6 L143.8,248.2 L144.3,247.8 L144.8,247.3 L145.3,246.8 L145.8,246.3 L146.3,245.8 L146.8,245.3 L147.3,244.9 L147.8,244.6 L148.3,244.3 L148.8,244.2 L149.3,244.2 L149.8,244.3 L150.3,244.5 L150.8,244.8 L151.3,245.2 L151.8,245.5 L152.3,245.9 L152.8,246.2 L153.3,246.5 L153.8,246.8 L154.3,247.0 L154.8,247.1 L155.3,247.2 L155.8,247.2 L156.3,247.2 L156.8,247.2 L157.3,247.1 L157.8,247.1 L158.3,247.0 L158.8,247.0 L159.3,247.0 L159.8,247.1 L160.3,247.2 L160.8,247.4 L161.3,247.7 L161.8,248.0 L162.3,248.4 L162.8,248.8 L163.3,249.1 L163.8,249.5 L164.3,249.9 L164.8,250.3 L165.3,250.6 L165.8,250.9 L166.3,251.2 L166.8,251.4 L167.3,251.7 L167.8,251.9 L168.3,252.0 L168.8,252.2 L169.3,252.3 L169.8,252.5 L170.3,252.6 L170.8,252.7 L171.3,252.8 L171.8,252.8 L172.3,252.9 L172.8,253.0 L173.3,253.0 L173.8,253.0 L174.3,253.1 L174.8,253.1 L175.3,253.1 L175.8,253.1 L176.3,253.1 L176.8,253.1 L177.3,253.0 L177.8,253.0 L178.3,253.0 L178.8,252.9 L179.3,252.9 L179.8,252.8 L180.3,252.8 L180.8,252.7 L181.3,252.6 L181.8,252.5 L182.3,252.4 L182.8,252.3 L183.3,252.2 L183.8,252.1 L184.3,252.0 L184.8,251.8 L185.3,251.7 L185.8,251.5 L186.3,251.3 L186.8,251.1 L187.3,251.0 L187.8,250.8 L188.3,250.6 L188.8,250.4 L189.3,250.3 L189.8,250.1 L190.3,250.0 L190.8,249.9 L191.3,249.8 L191.8,249.8 L192.3,249.8 L192.8,249.9 L193.3,249.9 L193.8,250.1 L194.3,250.2 L194.8,250.4 L195.3,250.5 L195.8,250.7 L196.3,250.9 L196.8,251.1 L197.3,251.3 L197.8,251.5 L198.3,251.6 L198.8,251.8 L199.3,251.9 L199.8,252.1 L200.3,252.2 L200.8,252.3 L201.3,252.4 L201.8,252.4 L202.3,252.5 L202.8,252.5 L203.3,252.6 L203.8,252.6 L204.3,252.6 L204.8,252.5 L205.3,252.5 L205.8,252.5 L206.3,252.4 L206.8,252.3 L207.3,252.2 L207.8,252.1 L208.3,252.0 L208.8,251.9 L209.3,251.7 L209.8,251.6 L210.3,251.5 L210.8,251.3 L211.3,251.2 L211.8,251.1 L212.3,251.0 L212.8,250.9 L213.3,250.9 L213.8,250.9 L214.3,250.9 L214.8,251.0 L215.3,251.1 L215.8,251.2 L216.3,251.3 L216.8,251.5 L217.3,251.6 L217.8,251.8 L218.3,252.0 L218.8,252.2 L219.3,252.3 L219.8,252.5 L220.3,252.7 L220.8,252.8 L221.3,252.9 L221.8,253.1 L222.3,253.2 L222.8,253.3 L223.3,253.4 L223.8,253.5 L224.3,253.5 L224.8,253.6 L225.3,253.6 L225.8,253.7 L226.3,253.7 L226.8,253.7 L227.3,253.7 L227.8,253.7 L228.3,253.7 L228.8,253.7 L229.3,253.6 L229.8,253.6 L230.3,253.5 L230.8,253.4 L231.3,253.4 L231.8,253.3 L232.3,253.2 L232.8,253.1 L233.3,253.0 L233.8,252.9 L234.3,252.8 L234.8,252.7 L235.3,252.6 L235.8,252.6 L236.3,252.5 L236.8,252.5 L237.3,252.5 L237.8,252.5 L238.3,252.6 L238.8,252.6 L239.3,252.7 L239.8,252.8 L240.3,252.9 L240.8,253.0 L241.3,253.1 L241.8,253.2 L242.3,253.3 L242.8,253.5 L243.3,253.6 L243.8,253.7 L244.3,253.8 L244.8,253.9 L245.3,253.9 L245.8,254.0 L246.3,254.1 L246.8,254.1 L247.3,254.2 L247.8,254.2 L248.3,254.3 L248.8,254.3 L249.3,254.3 L249.8,254.3 L250.3,254.3 L250.8,254.3 L251.3,254.3 L251.8,254.3 L252.3,254.3 L252.8,254.2 L253.3,254.2 L253.8,254.1 L254.3,254.1 L254.8,254.0 L255.3,254.0 L255.8,253.9 L256.3,253.8 L256.8,253.7 L257.3,253.7 L257.8,253.6 L258.3,253.5 L258.8,253.4 L259.3,253.3 L259.8,253.2 L260.3,253.2 L260.8,253.1 L261.3,253.0 L261.8,253.0 L262.3,253.0 L262.8,253.0 L263.3,253.0 L263.8,253.0 L264.3,253.0 L264.8,253.0 L265.3,253.1 L265.8,253.1 L266.3,253.1 L266.8,253.2 L267.3,253.2 L267.8,253.2 L268.3,253.2 L268.8,253.2 L269.3,253.1 L269.8,253.1 L270.3,253.0 L270.8,253.0 L271.3,252.9 L271.8,252.8 L272.3,252.7 L272.8,252.6 L273.3,252.4 L273.8,252.3 L274.3,252.2 L274.8,252.1 L275.3,251.9 L275.8,251.8 L276.3,251.7 L276.8,251.7 L277.3,251.6 L277.8,251.6 L278.3,251.6 L278.8,251.6 L279.3,251.6 L279.8,251.7 L280.3,251.8 L280.8,251.8 L281.3,251.9 L281.8,251.9 L282.3,252.0 L282.8,252.0 L283.3,252.0 L283.8,252.0 L284.3,252.0 L284.8,251.9 L285.3,251.9 L285.8,251.8 L286.3,251.7 L286.8,251.5 L287.3,251.4 L287.8,251.2 L288.3,251.0 L288.8,250.7 L289.3,250.5 L289.8,250.3 L290.3,250.0 L290.8,249.7 L291.3,249.4 L291.8,249.2 L292.3,249.0 L292.8,248.7 L293.3,248.6 L293.8,248.4 L294.3,248.4 L294.8,248.3 L295.3,248.3 L295.8,248.3 L296.3,248.4 L296.8,248.4 L297.3,248.5 L297.8,248.5 L298.3,248.5 L298.8,248.5 L299.3,248.4 L299.8,248.3 L300.3,248.2 L300.8,248.0 L301.3,247.7 L301.8,247.3 L302.3,246.9 L302.8,246.4 L303.3,245.8 L303.8,245.0 L304.3,244.1 L304.8,243.1 L305.3,241.9 L305.8,240.6 L306.3,239.1 L306.8,237.4 L307.3,235.7 L307.8,233.9 L308.3,232.1 L308.8,230.6 L309.3,229.3 L309.8,228.6 L310.3,228.4 L310.8,228.9 L311.3,229.9 L311.8,231.3 L312.3,233.0 L312.8,234.9 L313.3,236.7 L313.8,238.5 L314.3,240.2 L314.8,241.7 L315.3,243.0 L315.8,244.2 L316.3,245.3 L316.8,246.2 L317.3,247.0 L317.8,247.7 L318.3,248.4 L318.8,248.9 L319.3,249.4 L319.8,249.8 L320.3,250.2 L320.8,250.5 L321.3,250.8 L321.8,251.0 L322.3,251.3 L322.8,251.5 L323.3,251.6 L323.8,251.8 L324.3,251.9 L324.8,252.0 L325.3,252.1 L325.8,252.2 L326.3,252.3 L326.8,252.3 L327.3,252.4 L327.8,252.4 L328.3,252.5 L328.8,252.5 L329.3,252.5 L329.8,252.5 L330.3,252.5 L330.8,252.5 L331.3,252.5 L331.8,252.4 L332.3,252.4 L332.8,252.3 L333.3,252.3 L333.8,252.2 L334.3,252.1 L334.8,252.0 L335.3,251.9 L335.8,251.8 L336.3,251.6 L336.8,251.5 L337.3,251.3 L337.8,251.1 L338.3,250.9 L338.8,250.6 L339.3,250.4 L339.8,250.1 L340.3,249.7 L340.8,249.3 L341.3,248.9 L341.8,248.4 L342.3,247.8 L342.8,247.2 L343.3,246.4 L343.8,245.6 L344.3,244.6 L344.8,243.6 L345.3,242.3 L345.8,240.9 L346.3,239.3 L346.8,237.6 L347.3,235.6 L347.8,233.4 L348.3,231.1 L348.8,228.7 L349.3,226.3 L349.8,224.2 L350.3,222.4 L350.8,221.3 L351.3,220.9 L351.8,221.3 L352.3,222.5 L352.8,224.2 L353.3,226.4 L353.8,228.7 L354.3,231.2 L354.8,233.5 L355.3,235.7 L355.8,237.7 L356.3,239.5 L356.8,241.1 L357.3,242.5 L357.8,243.8 L358.3,244.9 L358.8,245.8 L359.3,246.7 L359.8,247.4 L360.3,248.1 L360.8,248.7 L361.3,249.2 L361.8,249.7 L362.3,250.1 L362.8,250.4 L363.3,250.8 L363.8,251.1 L364.3,251.3 L364.8,251.6 L365.3,251.8 L365.8,252.0 L366.3,252.1 L366.8,252.3 L367.3,252.5 L367.8,252.6 L368.3,252.7 L368.8,252.8 L369.3,252.9 L369.8,253.0 L370.3,253.1 L370.8,253.1 L371.3,253.2 L371.8,253.3 L372.3,253.3 L372.8,253.4 L373.3,253.4 L373.8,253.5 L374.3,253.5 L374.8,253.5 L375.3,253.6 L375.8,253.6 L376.3,253.6 L376.8,253.6 L377.3,253.7 L377.8,253.7 L378.3,253.7 L378.8,253.7 L379.3,253.7 L379.8,253.7 L380.3,253.7 L380.8,253.7 L381.3,253.7 L381.8,253.7 L382.3,253.7 L382.8,253.7 L383.3,253.7 L383.8,253.7 L384.3,253.7 L384.8,253.6 L385.3,253.6 L385.8,253.6 L386.3,253.6 L386.8,253.5 L387.3,253.5 L387.8,253.5 L388.3,253.4 L388.8,253.4 L389.3,253.4 L389.8,253.3 L390.3,253.3 L390.8,253.2 L391.3,253.2 L391.8,253.1 L392.3,253.0 L392.8,252.9 L393.3,252.9 L393.8,252.8 L394.3,252.7 L394.8,252.6 L395.3,252.4 L395.8,252.3 L396.3,252.2 L396.8,252.0 L397.3,251.9 L397.8,251.7 L398.3,251.5 L398.8,251.3 L399.3,251.0 L399.8,250.8 L400.3,250.5 L400.8,250.2 L401.3,249.8 L401.8,249.5 L402.3,249.0 L402.8,248.6 L403.3,248.1 L403.8,247.5 L404.3,246.8 L404.8,246.1 L405.3,245.3 L405.8,244.4 L406.3,243.3 L406.8,242.2 L407.3,240.8 L407.8,239.3 L408.3,237.6 L408.8,235.6 L409.3,233.4 L409.8,230.9 L410.3,228.1 L410.8,224.9 L411.3,221.5 L411.8,217.9 L412.3,214.2 L412.8,210.7 L413.3,207.5 L413.8,204.9 L414.3,203.4 L414.8,203.0 L415.3,203.9 L415.8,205.8 L416.3,208.6 L416.8,212.0 L417.3,215.6 L417.8,219.2 L418.3,222.8 L418.8,226.0 L419.3,229.0 L419.8,231.7 L420.3,234.0 L420.8,236.1 L421.3,237.9 L421.8,239.5 L422.3,241.0 L422.8,242.2 L423.3,243.3 L423.8,244.2 L424.3,245.1 L424.8,245.8 L425.3,246.5 L425.8,247.0 L426.3,247.5 L426.8,248.0 L427.3,248.4 L427.8,248.7 L428.3,249.0 L428.8,249.3 L429.3,249.5 L429.8,249.7 L430.3,249.9 L430.8,250.0 L431.3,250.1 L431.8,250.2 L432.3,250.3 L432.8,250.3 L433.3,250.3 L433.8,250.3 L434.3,250.2 L434.8,250.2 L435.3,250.0 L435.8,249.9 L436.3,249.7 L436.8,249.5 L437.3,249.2 L437.8,248.9 L438.3,248.5 L438.8,248.0 L439.3,247.5 L439.8,246.9 L440.3,246.1 L440.8,245.3 L441.3,244.4 L441.8,243.4 L442.3,242.3 L442.8,241.2 L443.3,240.0 L443.8,239.0 L444.3,238.1 L444.8,237.5 L445.3,237.2 L445.8,237.3 L446.3,237.8 L446.8,238.6 L447.3,239.7 L447.8,240.8 L448.3,242.0 L448.8,243.1 L449.3,244.2 L449.8,245.2 L450.3,246.0 L450.8,246.8 L451.3,247.5 L451.8,248.1 L452.3,248.6 L452.8,249.1 L453.3,249.4 L453.8,249.8 L454.3,250.0 L454.8,250.3 L455.3,250.5 L455.8,250.6 L456.3,250.8 L456.8,250.9 L457.3,251.0 L457.8,251.0 L458.3,251.0 L458.8,251.1 L459.3,251.0 L459.8,251.0 L460.3,251.0 L460.8,250.9 L461.3,250.8 L461.8,250.7 L462.3,250.6 L462.8,250.4 L463.3,250.2 L463.8,250.0 L464.3,249.8 L464.8,249.6 L465.3,249.3 L465.8,249.0 L466.3,248.6 L466.8,248.2 L467.3,247.8 L467.8,247.3 L468.3,246.8 L468.8,246.2 L469.3,245.5 L469.8,244.8 L470.3,244.0 L470.8,243.0 L471.3,242.0 L471.8,240.8 L472.3,239.5 L472.8,238.0 L473.3,236.3 L473.8,234.3 L474.3,232.1 L474.8,229.6 L475.3,226.8 L475.8,223.6 L476.3,219.9 L476.8,215.8 L477.3,211.2 L477.8,206.1 L478.3,200.7 L478.8,195.0 L479.3,189.4 L479.8,184.3 L480.3,179.9 L480.8,176.9 L481.3,175.6 L481.8,176.2 L482.3,178.6 L482.8,182.5 L483.3,187.4 L483.8,192.9 L484.3,198.6 L484.8,204.1 L485.3,209.4 L485.8,214.2 L486.3,218.5 L486.8,222.4 L487.3,225.8 L487.8,228.8 L488.3,231.5 L488.8,233.8 L489.3,235.9 L489.8,237.7 L490.3,239.3 L490.8,240.7 L491.3,242.0 L491.8,243.1 L492.3,244.1 L492.8,245.0 L493.3,245.8 L493.8,246.5 L494.3,247.2 L494.8,247.8 L495.3,248.3 L495.8,248.8 L496.3,249.3 L496.8,249.7 L497.3,250.1 L497.8,250.4 L498.3,250.7 L498.8,251.0 L499.3,251.3 L499.8,251.6 L500.3,251.8 L500.8,252.0 L501.3,252.2 L501.8,252.4 L502.3,252.6 L502.8,252.7 L503.3,252.9 L503.8,253.0 L504.3,253.2 L504.8,253.3 L505.3,253.4 L505.8,253.5 L506.3,253.6 L506.8,253.7 L507.3,253.8 L507.8,253.9 L508.3,254.0 L508.8,254.1 L509.3,254.2 L509.8,254.2 L510.3,254.3 L510.8,254.4 L511.3,254.4 L511.8,254.5 L512.3,254.5 L512.8,254.6 L513.3,254.6 L513.8,254.7 L514.3,254.7 L514.8,254.8 L515.3,254.8 L515.8,254.9 L516.3,254.9 L516.8,254.9 L517.3,255.0 L517.8,255.0 L518.3,255.0 L518.8,255.1 L519.3,255.1 L519.8,255.1 L520.3,255.2 L520.8,255.2 L521.3,255.2 L521.8,255.2 L522.3,255.3 L522.8,255.3 L523.3,255.3 L523.8,255.3 L524.3,255.3 L524.8,255.4 L525.3,255.4 L525.8,255.4 L526.3,255.4 L526.8,255.4 L527.3,255.4 L527.8,255.5 L528.3,255.5 L528.8,255.5 L529.3,255.5 L529.8,255.5 L530.3,255.5 L530.8,255.5 L531.3,255.5 L531.8,255.6 L532.3,255.6 L532.8,255.6 L533.3,255.6 L533.8,255.6 L534.3,255.6 L534.8,255.6 L535.3,255.6 L535.8,255.6 L536.3,255.6 L536.8,255.6 L537.3,255.6 L537.8,255.6 L538.3,255.6 L538.8,255.6 L539.3,255.6 L539.8,255.6 L540.3,255.6 L540.8,255.6 L541.3,255.6 L541.8,255.6 L542.3,255.6 L542.8,255.6 L543.3,255.6 L543.8,255.6 L544.3,255.6 L544.8,255.6 L545.3,255.6 L545.8,255.6 L546.3,255.6 L546.8,255.6 L547.3,255.6 L547.8,255.6 L548.3,255.6 L548.8,255.6 L549.3,255.6 L549.8,255.6 L550.3,255.6 L550.8,255.6 L551.3,255.6 L551.8,255.6 L552.3,255.6 L552.8,255.6 L553.3,255.6 L553.8,255.6 L554.3,255.6 L554.8,255.6 L555.3,255.6 L555.8,255.6 L556.3,255.6 L556.8,255.6 L557.3,255.6 L557.8,255.6 L558.3,255.6 L558.8,255.6 L559.3,255.6 L559.8,255.6 L560.3,255.6 L560.8,255.6 L561.3,255.6 L561.8,255.6 L562.3,255.6 L562.8,255.6 L563.3,255.6 L563.8,255.6 L564.3,255.7 L564.8,255.7 L565.3,255.7 L565.8,255.7 L566.3,255.7 L566.8,255.7 L567.3,255.7 L567.8,255.7 L568.3,255.7 L568.8,255.7 L569.3,255.7 L569.8,255.8 L570.3,255.8 L570.8,255.8 L571.3,255.8 L571.8,255.8 L572.3,255.8 L572.8,255.8 L573.3,255.8 L573.8,255.9 L574.3,255.9 L574.8,255.9 L575.3,255.9 L575.8,255.9 L576.3,255.9 L576.8,255.9 L577.3,255.9 L577.8,255.9 L578.3,255.9 L578.8,256.0 L579.3,256.0 L579.8,256.0 L580.3,256.0 L580.8,256.0 L581.3,256.0 L581.8,256.0 L582.3,256.0 L582.8,256.0 L583.3,256.0 L583.8,256.0 L584.3,256.0 L584.8,256.1 L585.3,256.1 L585.8,256.1 L586.3,256.1 L586.8,256.1 L587.3,256.1 L587.8,256.1 L588.3,256.1 L588.8,256.1 L589.3,256.1 L589.8,256.1 L590.3,256.1 L590.8,256.1 L591.3,256.1 L591.8,256.1 L592.3,256.1 L592.8,256.1 L593.3,256.1 L593.8,256.1 L594.3,256.1 L594.8,256.1 L595.3,256.1 L595.8,256.1 L596.3,256.0 L596.8,256.0 L597.3,256.0 L597.8,256.0 L598.3,256.0 L598.8,256.0 L599.3,256.0 L599.8,255.9 L600.3,255.9 L600.8,255.9 L601.3,255.8 L601.8,255.8 L602.3,255.8 L602.8,255.7 L603.3,255.7 L603.8,255.6 L604.3,255.6 L604.8,255.5 L605.3,255.4 L605.8,255.4 L606.3,255.3 L606.8,255.2 L607.3,255.1 L607.8,255.0 L608.3,254.9 L608.8,254.7 L609.3,254.6 L609.8,254.5 L610.3,254.3 L610.8,254.2 L611.3,254.1 L611.8,254.0 L612.3,253.9 L612.8,253.8 L613.3,253.8 L613.8,253.8 L614.3,253.9 L614.8,253.9 L615.3,254.0 L615.8,254.1 L616.3,254.3 L616.8,254.4 L617.3,254.5 L617.8,254.7 L618.3,254.8 L618.8,254.9 L619.3,255.0 L619.8,255.1 L620.3,255.2 L620.8,255.2 L621.3,255.3 L621.8,255.4 L622.3,255.4 L622.8,255.5 L623.3,255.5 L623.8,255.6 L624.3,255.6 L624.8,255.6 L625.3,255.6 L625.8,255.7 L626.3,255.7 L626.8,255.7 L627.3,255.7 L627.8,255.7 L628.3,255.7 L628.8,255.7 L629.3,255.8 L629.8,255.8 L630.3,255.8 L630.8,255.8 L631.3,255.8 L631.8,255.8 L632.3,255.7 L632.8,255.7 L633.3,255.7 L633.8,255.7 L634.3,255.7 L634.8,255.7 L635.3,255.7 L635.8,255.7 L636.3,255.6 L636.8,255.6 L637.3,255.6 L637.8,255.6 L638.3,255.5 L638.8,255.5 L639.3,255.5 L639.8,255.4 L640.3,255.4 L640.8,255.3 L641.3,255.3 L641.8,255.2 L642.3,255.2 L642.8,255.1 L643.3,255.0 L643.8,255.0 L644.3,254.9 L644.8,254.8 L645.3,254.7 L645.8,254.6 L646.3,254.5 L646.8,254.4 L647.3,254.3 L647.8,254.2 L648.3,254.0 L648.8,253.9 L649.3,253.8 L649.8,253.6 L650.3,253.5 L650.8,253.4 L651.3,253.2 L651.8,253.1 L652.3,253.0 L652.8,252.9 L653.3,252.8 L653.8,252.7 L654.3,252.6 L654.8,252.6 L655.3,252.6 L655.8,252.6 L656.3,252.6 L656.8,252.7 L657.3,252.7 L657.8,252.8 L658.3,252.8 L658.8,252.9 L659.3,253.0 L659.8,253.1 L660.3,253.2 L660.8,253.2 L661.3,253.3 L661.8,253.3 L662.3,253.4 L662.8,253.4 L663.3,253.4 L663.8,253.4 L664.3,253.4 L664.8,253.3 L665.3,253.3 L665.8,253.2 L666.3,253.0 L666.8,252.9 L667.3,252.7 L667.8,252.4 L668.3,252.1 L668.8,251.8 L669.3,251.4 L669.8,251.0 L670.3,250.5 L670.8,250.0 L671.3,249.5 L671.8,249.0 L672.3,248.6 L672.8,248.3 L673.3,248.2 L673.8,248.2 L674.3,248.5 L674.8,248.8 L675.3,249.2 L675.8,249.7 L676.3,250.2 L676.8,250.7 L677.3,251.1 L677.8,251.4 L678.3,251.8 L678.8,252.0 L679.3,252.2 L679.8,252.3 L680.3,252.4 L680.8,252.5 L681.3,252.5 L681.8,252.5 L682.3,252.5 L682.8,252.4 L683.3,252.4 L683.8,252.4 L684.3,252.5 L684.8,252.6 L685.3,252.7 L685.8,252.9 L686.3,253.1 L686.8,253.3 L687.3,253.5 L687.8,253.7 L688.3,253.9 L688.8,254.1 L689.3,254.3 L689.8,254.5 L690.3,254.6 L690.8,254.8 L691.3,254.9 L691.8,255.0 L692.3,255.1 L692.8,255.2 L693.3,255.2 L693.8,255.3 L694.3,255.3 L694.8,255.4 L695.3,255.4 L695.8,255.5 L696.3,255.5 L696.8,255.6 L697.3,255.6 L697.8,255.6 L698.3,255.6 L698.8,255.7 L699.3,255.7 L699.8,255.7 L700.3,255.7 L700.8,255.7 L701.3,255.7 L701.8,255.7 L702.3,255.7 L702.8,255.7 L703.3,255.7 L703.8,255.7 L704.3,255.7 L704.8,255.7 L705.3,255.6 L705.8,255.6 L706.3,255.6 L706.8,255.5 L707.3,255.5 L707.8,255.5 L708.3,255.4 L708.8,255.3 L709.3,255.3 L709.8,255.2 L710.3,255.1 L710.8,255.0 L711.3,255.0 L711.8,254.9 L712.3,254.8 L712.8,254.7 L713.3,254.7 L713.8,254.6 L714.3,254.6 L714.8,254.6 L715.3,254.6 L715.8,254.7 L716.3,254.8 L716.8,254.8 L717.3,254.9 L717.8,255.0 L718.3,255.2 L718.8,255.3 L719.3,255.4 L719.8,255.5 L720.3,255.6 L720.8,255.6 L721.3,255.7 L721.8,255.8 L722.3,255.9 L722.8,255.9 L723.3,256.0 L723.8,256.0 L724.3,256.1 L724.8,256.1 L725.3,256.2 L725.8,256.2 L726.3,256.2 L726.8,256.3 L727.3,256.3 L727.8,256.3 L728.3,256.3 L728.8,256.4 L729.3,256.4 L729.8,256.4 L730.3,256.4 L730.8,256.4 L731.3,256.4 L731.8,256.5 L732.3,256.5 L732.8,256.5 L733.3,256.5 L733.8,256.5 L734.3,256.5 L734.8,256.5 L735.3,256.5 L735.8,256.5 L736.3,256.6 L736.8,256.6 L737.3,256.6 L737.8,256.6 L738.3,256.6 L738.8,256.6 L739.3,256.6 L739.8,256.6 L740.3,256.6 L740.8,256.6 L741.3,256.6 L741.8,256.6 L742.3,256.6 L742.8,256.6 L743.3,256.6 L743.8,256.6 L744.3,256.7 L744.8,256.7 L745.3,256.7 L745.8,256.7 L746.3,256.7 L746.8,256.7 L747.3,256.7 L747.8,256.7 L748.3,256.7 L748.8,256.7 L749.3,256.7 L749.8,256.7 L750.3,256.7 L750.8,256.7 L751.3,256.7 L751.8,256.7 L752.3,256.7 L752.8,256.7 L753.3,256.7 L753.8,256.7 L754.3,256.7 L754.8,256.7 L755.3,256.7 L755.8,256.7 L756.3,256.8 L756.8,256.8 L757.3,256.8 L757.8,256.8 L758.3,256.8 L758.8,256.8 L759.3,256.8 L759.8,256.8 L760.3,256.8 L760.8,256.8 L761.3,256.8 L761.8,256.8 L762.3,256.8 L762.8,256.8 L763.3,256.8 L763.8,256.8 L764.3,256.8 L764.8,256.8 L765.3,256.8 L765.8,256.8 L766.3,256.8 L766.8,256.8 L767.3,256.8 L767.8,256.8 L768.3,256.8 L768.8,256.9 L769.3,256.9 L769.8,256.9 L770.3,256.9 L770.8,256.9 L771.3,256.9 L771.8,256.9 L772.3,256.9 L772.8,256.9 L773.3,256.9 L773.8,256.9 L774.3,256.9 L774.8,256.9 L775.3,256.9 L775.8,256.9 L776.3,256.9 L776.8,256.9 L777.3,256.9 L777.8,256.9 L778.3,256.9 L778.8,256.9 L779.3,256.9 L779.8,256.9 L780.3,256.9 L780.8,256.9 L781.3,256.9 L781.8,256.9 L782.3,256.9 L782.8,256.9 L783.3,256.9 L783.8,256.9 L784.3,256.9 L784.8,256.9 L785.3,256.9 L785.8,257.0 L786.3,257.0 L786.8,257.0 L787.3,257.0 L787.8,257.0 L788.3,257.0 L788.8,257.0 L789.3,257.0 L789.8,257.0 L790.3,257.0 L790.8,257.0 L791.3,257.0 L791.8,257.0 L792.3,257.0 L792.8,257.0 L793.3,257.0 L793.8,257.0 L794.3,257.0 L794.8,257.0 L795.3,257.0 L795.8,257.0 L796.3,257.0 L796.8,257.0 L797.3,257.0 L797.8,257.0 L798.3,257.0 L798.8,257.0 L799.3,257.0 L799.8,257.0 L800.3,257.0 L800.8,257.0" stroke="#b71fe0"/>
<path d="M69.3,209.7 L69.8,209.7 L70.3,209.6 L70.8,209.6 L71.3,209.6 L71.8,209.6 L72.3,209.6 L72.8,209.6 L73.3,209.6 L73.8,209.5 L74.3,209.5 L74.8,209.5 L75.3,209.5 L75.8,209.5 L76.3,209.5 L76.8,209.5 L77.3,209.5 L77.8,209.5 L78.3,209.5 L78.8,209.5 L79.3,209.5 L79.8,209.5 L80.3,209.5 L80.8,209.5 L81.3,209.5 L81.8,209.5 L82.3,209.5 L82.8,209.5 L83.3,209.5 L83.8,209.5 L84.3,209.5 L84.8,209.5 L85.3,209.5 L85.8,209.5 L86.3,209.5 L86.8,209.5 L87.3,209.5 L87.8,209.5 L88.3,209.5 L88.8,209.5 L89.3,209.5 L89.8,209.5 L90.3,209.5 L90.8,209.5 L91.3,209.5 L91.8,209.5 L92.3,209.5 L92.8,209.5 L93.3,209.4 L93.8,209.4 L94.3,209.4 L94.8,209.3 L95.3,209.3 L95.8,209.3 L96.3,209.2 L96.8,209.1 L97.3,209.1 L97.8,209.0 L98.3,208.9 L98.8,208.8 L99.3,208.6 L99.8,208.5 L100.3,208.4 L100.8,208.2 L101.3,208.0 L101.8,207.9 L102.3,207.7 L102.8,207.6 L103.3,207.5 L103.8,207.4 L104.3,207.4 L104.8,207.4 L105.3,207.5 L105.8,207.5 L106.3,207.6 L106.8,207.7 L107.3,207.8 L107.8,207.9 L108.3,207.9 L108.8,208.0 L109.3,208.0 L109.8,208.0 L110.3,208.0 L110.8,208.0 L111.3,207.9 L111.8,207.8 L112.3,207.7 L112.8,207.6 L113.3,207.5 L113.8,207.3 L114.3,207.1 L114.8,206.9 L115.3,206.7 L115.8,206.4 L116.3,206.2 L116.8,205.9 L117.3,205.7 L117.8,205.4 L118.3,205.2 L118.8,205.0 L119.3,204.8 L119.8,204.7 L120.3,204.7 L120.8,204.6 L121.3,204.6 L121.8,204.6 L122.3,204.6 L122.8,204.5 L123.3,204.4 L123.8,204.3 L124.3,204.2 L124.8,203.9 L125.3,203.6 L125.8,203.3 L126.3,202.8 L126.8,202.3 L127.3,201.8 L127.8,201.3 L128.3,200.8 L128.8,200.3 L129.3,200.0 L129.8,199.9 L130.3,200.0 L130.8,200.2 L131.3,200.6 L131.8,201.0 L132.3,201.5 L132.8,202.1 L133.3,202.5 L133.8,203.0 L134.3,203.3 L134.8,203.6 L135.3,203.8 L135.8,203.9 L136.3,203.9 L136.8,203.8 L137.3,203.7 L137.8,203.5 L138.3,203.3 L138.8,203.1 L139.3,202.8 L139.8,202.7 L140.3,202.6 L140.8,202.6 L141.3,202.8 L141.8,203.0 L142.3,203.4 L142.8,203.8 L143.3,204.3 L143.8,204.8 L144.3,205.2 L144.8,205.6 L145.3,206.0 L145.8,206.3 L146.3,206.6 L146.8,206.8 L147.3,207.0 L147.8,207.2 L148.3,207.4 L148.8,207.6 L149.3,207.7 L149.8,207.8 L150.3,207.9 L150.8,208.0 L151.3,208.0 L151.8,208.1 L152.3,208.1 L152.8,208.2 L153.3,208.2 L153.8,208.2 L154.3,208.3 L154.8,208.3 L155.3,208.3 L155.8,208.3 L156.3,208.3 L156.8,208.3 L157.3,208.3 L157.8,208.3 L158.3,208.2 L158.8,208.2 L159.3,208.2 L159.8,208.2 L160.3,208.1 L160.8,208.1 L161.3,208.0 L161.8,208.0 L162.3,207.9 L162.8,207.9 L163.3,207.8 L163.8,207.7 L164.3,207.6 L164.8,207.5 L165.3,207.3 L165.8,207.2 L166.3,207.0 L166.8,206.9 L167.3,206.7 L167.8,206.4 L168.3,206.2 L168.8,205.9 L169.3,205.6 L169.8,205.3 L170.3,205.1 L170.8,204.8 L171.3,204.5 L171.8,204.4 L172.3,204.2 L172.8,204.2 L173.3,204.2 L173.8,204.3 L174.3,204.5 L174.8,204.7 L175.3,204.9 L175.8,205.1 L176.3,205.4 L176.8,205.5 L177.3,205.7 L177.8,205.8 L178.3,205.9 L178.8,206.0 L179.3,206.0 L179.8,206.1 L180.3,206.0 L180.8,206.0 L181.3,205.9 L181.8,205.8 L182.3,205.6 L182.8,205.5 L183.3,205.3 L183.8,205.1 L184.3,204.9 L184.8,204.8 L185.3,204.7 L185.8,204.7 L186.3,204.8 L186.8,204.9 L187.3,205.1 L187.8,205.4 L188.3,205.7 L188.8,206.0 L189.3,206.3 L189.8,206.5 L190.3,206.8 L190.8,207.0 L191.3,207.2 L191.8,207.4 L192.3,207.5 L192.8,207.7 L193.3,207.8 L193.8,207.9 L194.3,208.0 L194.8,208.1 L195.3,208.2 L195.8,208.3 L196.3,208.4 L196.8,208.5 L197.3,208.5 L197.8,208.6 L198.3,208.7 L198.8,208.7 L199.3,208.8 L199.8,208.8 L200.3,208.9 L200.8,208.9 L201.3,209.0 L201.8,209.0 L202.3,209.1 L202.8,209.1 L203.3,209.1 L203.8,209.2 L204.3,209.2 L204.8,209.3 L205.3,209.3 L205.8,209.3 L206.3,209.4 L206.8,209.4 L207.3,209.4 L207.8,209.5 L208.3,209.5 L208.8,209.5 L209.3,209.6 L209.8,209.6 L210.3,209.6 L210.8,209.7 L211.3,209.7 L211.8,209.7 L212.3,209.7 L212.8,209.8 L213.3,209.8 L213.8,209.8 L214.3,209.9 L214.8,209.9 L215.3,209.9 L215.8,209.9 L216.3,210.0 L216.8,210.0 L217.3,210.0 L217.8,210.0 L218.3,210.0 L218.8,210.1 L219.3,210.1 L219.8,210.1 L220.3,210.1 L220.8,210.1 L221.3,210.2 L221.8,210.2 L222.3,210.2 L222.8,210.2 L223.3,210.2 L223.8,210.2 L224.3,210.2 L224.8,210.2 L225.3,210.3 L225.8,210.3 L226.3,210.3 L226.8,210.3 L227.3,210.3 L227.8,210.3 L228.3,210.3 L228.8,210.3 L229.3,210.3 L229.8,210.3 L230.3,210.3 L230.8,210.3 L231.3,210.3 L231.8,210.3 L232.3,210.3 L232.8,210.3 L233.3,210.3 L233.8,210.2 L234.3,210.2 L234.8,210.2 L235.3,210.2 L235.8,210.2 L236.3,210.2 L236.8,210.1 L237.3,210.1 L237.8,210.1 L238.3,210.1 L238.8,210.0 L239.3,210.0 L239.8,209.9 L240.3,209.9 L240.8,209.9 L241.3,209.8 L241.8,209.8 L242.3,209.7 L242.8,209.7 L243.3,209.6 L243.8,209.6 L244.3,209.5 L244.8,209.4 L245.3,209.4 L245.8,209.3 L246.3,209.3 L246.8,209.2 L247.3,209.2 L247.8,209.1 L248.3,209.1 L248.8,209.0 L249.3,209.0 L249.8,209.0 L250.3,209.0 L250.8,209.0 L251.3,209.0 L251.8,209.0 L252.3,209.0 L252.8,209.0 L253.3,209.1 L253.8,209.1 L254.3,209.1 L254.8,209.2 L255.3,209.2 L255.8,209.2 L256.3,209.3 L256.8,209.3 L257.3,209.3 L257.8,209.3 L258.3,209.3 L258.8,209.4 L259.3,209.4 L259.8,209.4 L260.3,209.4 L260.8,209.3 L261.3,209.3 L261.8,209.3 L262.3,209.3 L262.8,209.3 L263.3,209.2 L263.8,209.2 L264.3,209.1 L264.8,209.1 L265.3,209.0 L265.8,208.9 L266.3,208.8 L266.8,208.8 L267.3,208.7 L267.8,208.6 L268.3,208.5 L268.8,208.4 L269.3,208.3 L269.8,208.3 L270.3,208.2 L270.8,208.1 L271.3,208.1 L271.8,208.0 L272.3,208.0 L272.8,208.0 L273.3,208.0 L273.8,207.9 L274.3,208.0 L274.8,208.0 L275.3,208.0 L275.8,208.0 L276.3,208.0 L276.8,208.0 L277.3,208.0 L277.8,208.0 L278.3,208.0 L278.8,207.9 L279.3,207.9 L279.8,207.8 L280.3,207.7 L280.8,207.6 L281.3,207.5 L281.8,207.4 L282.3,207.2 L282.8,207.0 L283.3,206.8 L283.8,206.5 L284.3,206.2 L284.8,205.9 L285.3,205.5 L285.8,205.1 L286.3,204.6 L286.8,204.1 L287.3,203.4 L287.8,202.7 L288.3,201.8 L288.8,200.9 L289.3,199.8 L289.8,198.6 L290.3,197.3 L290.8,195.8 L291.3,194.2 L291.8,192.7 L292.3,191.1 L292.8,189.7 L293.3,188.6 L293.8,188.0 L294.3,187.8 L294.8,188.2 L295.3,189.0 L295.8,190.2 L296.3,191.6 L296.8,193.2 L297.3,194.8 L297.8,196.3 L298.3,197.7 L298.8,199.0 L299.3,200.1 L299.8,201.1 L300.3,202.0 L300.8,202.8 L301.3,203.5 L301.8,204.1 L302.3,204.6 L302.8,205.1 L303.3,205.5 L303.8,205.8 L304.3,206.1 L304.8,206.4 L305.3,206.7 L305.8,206.9 L306.3,207.1 L306.8,207.2 L307.3,207.4 L307.8,207.5 L308.3,207.6 L308.8,207.7 L309.3,207.8 L309.8,207.9 L310.3,208.0 L310.8,208.1 L311.3,208.1 L311.8,208.2 L312.3,208.2 L312.8,208.2 L313.3,208.3 L313.8,208.3 L314.3,208.3 L314.8,208.4 L315.3,208.4 L315.8,208.4 L316.3,208.4 L316.8,208.4 L317.3,208.4 L317.8,208.4 L318.3,208.4 L318.8,208.4 L319.3,208.4 L319.8,208.4 L320.3,208.4 L320.8,208.4 L321.3,208.3 L321.8,208.3 L322.3,208.3 L322.8,208.2 L323.3,208.2 L323.8,208.2 L324.3,208.1 L324.8,208.1 L325.3,208.0 L325.8,207.9 L326.3,207.8 L326.8,207.8 L327.3,207.7 L327.8,207.6 L328.3,207.5 L328.8,207.3 L329.3,207.2 L329.8,207.1 L330.3,206.9 L330.8,206.7 L331.3,206.5 L331.8,206.3 L332.3,206.0 L332.8,205.8 L333.3,205.4 L333.8,205.1 L334.3,204.7 L334.8,204.3 L335.3,203.8 L335.8,203.2 L336.3,202.6 L336.8,201.9 L337.3,201.0 L337.8,200.1 L338.3,199.1 L338.8,197.9 L339.3,196.5 L339.8,195.0 L340.3,193.2 L340.8,191.3 L341.3,189.3 L341.8,187.0 L342.3,184.8 L342.8,182.5 L343.3,180.5 L343.8,178.8 L344.3,177.6 L344.8,177.0 L345.3,177.0 L345.8,177.4 L346.3,178.1 L346.8,178.9 L347.3,179.7 L347.8,180.4 L348.3,180.8 L348.8,181.1 L349.3,181.4 L349.8,181.9 L350.3,182.8 L350.8,184.1 L351.3,185.8 L351.8,187.9 L352.3,190.1 L352.8,192.2 L353.3,194.2 L353.8,196.0 L354.3,197.6 L354.8,199.0 L355.3,200.2 L355.8,201.2 L356.3,202.1 L356.8,202.8 L357.3,203.5 L357.8,204.1 L358.3,204.6 L358.8,205.0 L359.3,205.4 L359.8,205.7 L360.3,206.0 L360.8,206.3 L361.3,206.6 L361.8,206.8 L362.3,207.0 L362.8,207.1 L363.3,207.3 L363.8,207.4 L364.3,207.5 L364.8,207.7 L365.3,207.8 L365.8,207.8 L366.3,207.9 L366.8,208.0 L367.3,208.1 L367.8,208.1 L368.3,208.2 L368.8,208.2 L369.3,208.2 L369.8,208.3 L370.3,208.3 L370.8,208.3 L371.3,208.4 L371.8,208.4 L372.3,208.4 L372.8,208.4 L373.3,208.4 L373.8,208.4 L374.3,208.4 L374.8,208.4 L375.3,208.4 L375.8,208.4 L376.3,208.4 L376.8,208.4 L377.3,208.4 L377.8,208.4 L378.3,208.4 L378.8,208.3 L379.3,208.3 L379.8,208.3 L380.3,208.3 L380.8,208.2 L381.3,208.2 L381.8,208.1 L382.3,208.1 L382.8,208.0 L383.3,208.0 L383.8,207.9 L384.3,207.8 L384.8,207.7 L385.3,207.6 L385.8,207.6 L386.3,207.4 L386.8,207.3 L387.3,207.2 L387.8,207.1 L388.3,206.9 L388.8,206.8 L389.3,206.6 L389.8,206.4 L390.3,206.2 L390.8,206.0 L391.3,205.7 L391.8,205.5 L392.3,205.2 L392.8,204.9 L393.3,204.5 L393.8,204.1 L394.3,203.7 L394.8,203.2 L395.3,202.7 L395.8,202.2 L396.3,201.5 L396.8,200.8 L397.3,200.0 L397.8,199.1 L398.3,198.2 L398.8,197.0 L399.3,195.8 L399.8,194.4 L400.3,192.8 L400.8,190.9 L401.3,188.9 L401.8,186.5 L402.3,183.8 L402.8,180.8 L403.3,177.3 L403.8,173.5 L404.3,169.3 L404.8,164.8 L405.3,160.0 L405.8,155.2 L406.3,150.7 L406.8,146.9 L407.3,144.1 L407.8,142.6 L408.3,142.8 L408.8,144.5 L409.3,147.5 L409.8,151.5 L410.3,156.1 L410.8,160.8 L411.3,165.6 L411.8,170.0 L412.3,174.1 L412.8,177.9 L413.3,181.2 L413.8,184.1 L414.3,186.7 L414.8,189.0 L415.3,191.0 L415.8,192.8 L416.3,194.3 L416.8,195.7 L417.3,196.9 L417.8,198.0 L418.3,198.9 L418.8,199.7 L419.3,200.5 L419.8,201.2 L420.3,201.8 L420.8,202.3 L421.3,202.8 L421.8,203.2 L422.3,203.6 L422.8,204.0 L423.3,204.3 L423.8,204.6 L424.3,204.9 L424.8,205.1 L425.3,205.3 L425.8,205.5 L426.3,205.7 L426.8,205.8 L427.3,206.0 L427.8,206.1 L428.3,206.2 L428.8,206.3 L429.3,206.4 L429.8,206.5 L430.3,206.5 L430.8,206.6 L431.3,206.6 L431.8,206.6 L432.3,206.6 L432.8,206.6 L433.3,206.6 L433.8,206.5 L434.3,206.5 L434.8,206.4 L435.3,206.3 L435.8,206.2 L436.3,206.1 L436.8,205.9 L437.3,205.7 L437.8,205.5 L438.3,205.3 L438.8,205.0 L439.3,204.7 L439.8,204.4 L440.3,204.0 L440.8,203.5 L441.3,203.0 L441.8,202.4 L442.3,201.7 L442.8,200.9 L443.3,200.0 L443.8,199.0 L444.3,197.8 L444.8,196.5 L445.3,195.0 L445.8,193.3 L446.3,191.5 L446.8,189.5 L447.3,187.5 L447.8,185.5 L448.3,183.6 L448.8,182.0 L449.3,180.9 L449.8,180.4 L450.3,180.6 L450.8,181.5 L451.3,182.9 L451.8,184.6 L452.3,186.6 L452.8,188.7 L453.3,190.7 L453.8,192.5 L454.3,194.3 L454.8,195.8 L455.3,197.2 L455.8,198.4 L456.3,199.5 L456.8,200.4 L457.3,201.2 L457.8,201.9 L458.3,202.5 L458.8,203.1 L459.3,203.5 L459.8,203.9 L460.3,204.3 L460.8,204.6 L461.3,204.8 L461.8,205.1 L462.3,205.3 L462.8,205.4 L463.3,205.5 L463.8,205.7 L464.3,205.7 L464.8,205.8 L465.3,205.8 L465.8,205.8 L466.3,205.8 L466.8,205.8 L467.3,205.8 L467.8,205.7 L468.3,205.6 L468.8,205.5 L469.3,205.4 L469.8,205.2 L470.3,205.1 L470.8,204.9 L471.3,204.7 L471.8,204.4 L472.3,204.1 L472.8,203.8 L473.3,203.4 L473.8,203.0 L474.3,202.6 L474.8,202.1 L475.3,201.5 L475.8,200.9 L476.3,200.2 L476.8,199.4 L477.3,198.5 L477.8,197.5 L478.3,196.4 L478.8,195.1 L479.3,193.7 L479.8,192.0 L480.3,190.2 L480.8,188.0 L481.3,185.6 L481.8,182.9 L482.3,179.7 L482.8,176.2 L483.3,172.3 L483.8,167.9 L484.3,163.2 L484.8,158.3 L485.3,153.4 L485.8,148.7 L486.3,144.8 L486.8,141.9 L487.3,140.4 L487.8,140.6 L488.3,142.4 L488.8,145.5 L489.3,149.7 L489.8,154.5 L490.3,159.4 L490.8,164.3 L491.3,169.0 L491.8,173.3 L492.3,177.2 L492.8,180.6 L493.3,183.7 L493.8,186.4 L494.3,188.8 L494.8,190.9 L495.3,192.8 L495.8,194.4 L496.3,195.8 L496.8,197.1 L497.3,198.2 L497.8,199.2 L498.3,200.1 L498.8,200.9 L499.3,201.7 L499.8,202.3 L500.3,202.9 L500.8,203.4 L501.3,203.9 L501.8,204.4 L502.3,204.7 L502.8,205.1 L503.3,205.4 L503.8,205.7 L504.3,206.0 L504.8,206.3 L505.3,206.5 L505.8,206.7 L506.3,206.9 L506.8,207.1 L507.3,207.3 L507.8,207.4 L508.3,207.6 L508.8,207.7 L509.3,207.8 L509.8,208.0 L510.3,208.1 L510.8,208.2 L511.3,208.3 L511.8,208.3 L512.3,208.4 L512.8,208.5 L513.3,208.6 L513.8,208.6 L514.3,208.7 L514.8,208.8 L515.3,208.8 L515.8,208.9 L516.3,208.9 L516.8,209.0 L517.3,209.0 L517.8,209.1 L518.3,209.1 L518.8,209.2 L519.3,209.2 L519.8,209.2 L520.3,209.3 L520.8,209.3 L521.3,209.3 L521.8,209.4 L522.3,209.4 L522.8,209.5 L523.3,209.5 L523.8,209.5 L524.3,209.5 L524.8,209.6 L525.3,209.6 L525.8,209.6 L526.3,209.7 L526.8,209.7 L527.3,209.7 L527.8,209.7 L528.3,209.8 L528.8,209.8 L529.3,209.8 L529.8,209.8 L530.3,209.9 L530.8,209.9 L531.3,209.9 L531.8,209.9 L532.3,210.0 L532.8,210.0 L533.3,210.0 L533.8,210.0 L534.3,210.0 L534.8,210.1 L535.3,210.1 L535.8,210.1 L536.3,210.1 L536.8,210.1 L537.3,210.1 L537.8,210.1 L538.3,210.1 L538.8,210.1 L539.3,210.1 L539.8,210.1 L540.3,210.1 L540.8,210.1 L541.3,210.1 L541.8,210.0 L542.3,210.0 L542.8,210.0 L543.3,209.9 L543.8,209.8 L544.3,209.8 L544.8,209.7 L545.3,209.6 L545.8,209.4 L546.3,209.3 L546.8,209.2 L547.3,209.1 L547.8,209.0 L548.3,208.9 L548.8,208.9 L549.3,209.0 L549.8,209.0 L550.3,209.2 L550.8,209.3 L551.3,209.4 L551.8,209.6 L552.3,209.7 L552.8,209.8 L553.3,209.9 L553.8,210.0 L554.3,210.0 L554.8,210.1 L555.3,210.1 L555.8,210.2 L556.3,210.2 L556.8,210.2 L557.3,210.3 L557.8,210.3 L558.3,210.3 L558.8,210.3 L559.3,210.3 L559.8,210.3 L560.3,210.3 L560.8,210.3 L561.3,210.3 L561.8,210.3 L562.3,210.3 L562.8,210.3 L563.3,210.3 L563.8,210.3 L564.3,210.3 L564.8,210.3 L565.3,210.3 L565.8,210.3 L566.3,210.3 L566.8,210.3 L567.3,210.3 L567.8,210.3 L568.3,210.3 L568.8,210.3 L569.3,210.3 L569.8,210.3 L570.3,210.3 L570.8,210.3 L571.3,210.3 L571.8,210.3 L572.3,210.3 L572.8,210.3 L573.3,210.3 L573.8,210.3 L574.3,210.3 L574.8,210.3 L575.3,210.3 L575.8,210.3 L576.3,210.3 L576.8,210.3 L577.3,210.3 L577.8,210.3 L578.3,210.3 L578.8,210.3 L579.3,210.3 L579.8,210.3 L580.3,210.3 L580.8,210.3 L581.3,210.3 L581.8,210.3 L582.3,210.3 L582.8,210.3 L583.3,210.3 L583.8,210.2 L584.3,210.2 L584.8,210.2 L585.3,210.2 L585.8,210.1 L586.3,210.1 L586.8,210.0 L587.3,210.0 L587.8,209.9 L588.3,209.8 L588.8,209.8 L589.3,209.7 L589.8,209.6 L590.3,209.6 L590.8,209.6 L591.3,209.6 L591.8,209.7 L592.3,209.7 L592.8,209.8 L593.3,209.9 L593.8,210.0 L594.3,210.0 L594.8,210.1 L595.3,210.1 L595.8,210.2 L596.3,210.2 L596.8,210.2 L597.3,210.3 L597.8,210.3 L598.3,210.3 L598.8,210.3 L599.3,210.3 L599.8,210.4 L600.3,210.4 L600.8,210.4 L601.3,210.4 L601.8,210.4 L602.3,210.4 L602.8,210.4 L603.3,210.4 L603.8,210.4 L604.3,210.4 L604.8,210.4 L605.3,210.4 L605.8,210.4 L606.3,210.4 L606.8,210.4 L607.3,210.4 L607.8,210.4 L608.3,210.4 L608.8,210.4 L609.3,210.4 L609.8,210.4 L610.3,210.4 L610.8,210.4 L611.3,210.4 L611.8,210.4 L612.3,210.4 L612.8,210.4 L613.3,210.4 L613.8,210.4 L614.3,210.4 L614.8,210.4 L615.3,210.4 L615.8,210.4 L616.3,210.4 L616.8,210.4 L617.3,210.4 L617.8,210.4 L618.3,210.4 L618.8,210.4 L619.3,210.4 L619.8,210.4 L620.3,210.4 L620.8,210.4 L621.3,210.4 L621.8,210.4 L622.3,210.4 L622.8,210.4 L623.3,210.4 L623.8,210.4 L624.3,210.4 L624.8,210.4 L625.3,210.4 L625.8,210.4 L626.3,210.3 L626.8,210.3 L627.3,210.3 L627.8,210.3 L628.3,210.2 L628.8,210.2 L629.3,210.1 L629.8,210.1 L630.3,210.0 L630.8,209.9 L631.3,209.8 L631.8,209.7 L632.3,209.6 L632.8,209.5 L633.3,209.3 L633.8,209.2 L634.3,209.0 L634.8,208.9 L635.3,208.8 L635.8,208.7 L636.3,208.7 L636.8,208.8 L637.3,208.9 L637.8,209.0 L638.3,209.2 L638.8,209.3 L639.3,209.5 L639.8,209.6 L640.3,209.7 L640.8,209.8 L641.3,209.9 L641.8,210.0 L642.3,210.0 L642.8,210.1 L643.3,210.1 L643.8,210.1 L644.3,210.2 L644.8,210.2 L645.3,210.2 L645.8,210.2 L646.3,210.2 L646.8,210.3 L647.3,210.3 L647.8,210.3 L648.3,210.3 L648.8,210.3 L649.3,210.3 L649.8,210.3 L650.3,210.3 L650.8,210.3 L651.3,210.3 L651.8,210.3 L652.3,210.3 L652.8,210.3 L653.3,210.3 L653.8,210.3 L654.3,210.3 L654.8,210.3 L655.3,210.3 L655.8,210.2 L656.3,210.2 L656.8,210.2 L657.3,210.2 L657.8,210.2 L658.3,210.2 L658.8,210.2 L659.3,210.2 L659.8,210.2 L660.3,210.2 L660.8,210.2 L661.3,210.2 L661.8,210.2 L662.3,210.2 L662.8,210.2 L663.3,210.2 L663.8,210.2 L664.3,210.2 L664.8,210.2 L665.3,210.2 L665.8,210.2 L666.3,210.2 L666.8,210.2 L667.3,210.2 L667.8,210.2 L668.3,210.2 L668.8,210.2 L669.3,210.2 L669.8,210.2 L670.3,210.2 L670.8,210.2 L671.3,210.2 L671.8,210.2 L672.3,210.2 L672.8,210.2 L673.3,210.2 L673.8,210.2 L674.3,210.2 L674.8,210.2 L675.3,210.2 L675.8,210.2 L676.3,210.1 L676.8,210.1 L677.3,210.1 L677.8,210.1 L678.3,210.1 L678.8,210.0 L679.3,210.0 L679.8,210.0 L680.3,210.0 L680.8,209.9 L681.3,209.9 L681.8,209.8 L682.3,209.8 L682.8,209.7 L683.3,209.6 L683.8,209.6 L684.3,209.5 L684.8,209.4 L685.3,209.3 L685.8,209.2 L686.3,209.1 L686.8,209.0 L687.3,208.8 L687.8,208.6 L688.3,208.5 L688.8,208.3 L689.3,208.0 L689.8,207.8 L690.3,207.5 L690.8,207.2 L691.3,206.9 L691.8,206.5 L692.3,206.1 L692.8,205.7 L693.3,205.2 L693.8,204.7 L694.3,204.2 L694.8,203.7 L695.3,203.2 L695.8,202.7 L696.3,202.2 L696.8,201.8 L697.3,201.5 L697.8,201.3 L698.3,201.3 L698.8,201.4 L699.3,201.6 L699.8,202.0 L700.3,202.4 L700.8,202.9 L701.3,203.4 L701.8,204.0 L702.3,204.5 L702.8,205.0 L703.3,205.5 L703.8,206.0 L704.3,206.4 L704.8,206.8 L705.3,207.2 L705.8,207.5 L706.3,207.8 L706.8,208.1 L707.3,208.3 L707.8,208.6 L708.3,208.8 L708.8,208.9 L709.3,209.1 L709.8,209.3 L710.3,209.4 L710.8,209.5 L711.3,209.6 L711.8,209.7 L712.3,209.8 L712.8,209.9 L713.3,210.0 L713.8,210.1 L714.3,210.1 L714.8,210.2 L715.3,210.3 L715.8,210.3 L716.3,210.4 L716.8,210.4 L717.3,210.5 L717.8,210.5 L718.3,210.5 L718.8,210.6 L719.3,210.6 L719.8,210.6 L720.3,210.6 L720.8,210.7 L721.3,210.7 L721.8,210.7 L722.3,210.7 L722.8,210.8 L723.3,210.8 L723.8,210.8 L724.3,210.8 L724.8,210.8 L725.3,210.8 L725.8,210.8 L726.3,210.9 L726.8,210.9 L727.3,210.9 L727.8,210.9 L728.3,210.9 L728.8,210.9 L729.3,210.9 L729.8,210.9 L730.3,210.9 L730.8,210.9 L731.3,210.9 L731.8,210.9 L732.3,210.9 L732.8,210.9 L733.3,210.9 L733.8,211.0 L734.3,211.0 L734.8,211.0 L735.3,211.0 L735.8,211.0 L736.3,211.0 L736.8,211.0 L737.3,211.0 L737.8,211.0 L738.3,211.0 L738.8,211.0 L739.3,211.0 L739.8,211.0 L740.3,211.0 L740.8,211.0 L741.3,211.0 L741.8,211.0 L742.3,211.0 L742.8,211.0 L743.3,211.0 L743.8,211.0 L744.3,211.0 L744.8,211.0 L745.3,211.0 L745.8,211.0 L746.3,211.1 L746.8,211.1 L747.3,211.1 L747.8,211.1 L748.3,211.1 L748.8,211.1 L749.3,211.1 L749.8,211.1 L750.3,211.1 L750.8,211.1 L751.3,211.1 L751.8,211.1 L752.3,211.1 L752.8,211.1 L753.3,211.1 L753.8,211.1 L754.3,211.1 L754.8,211.1 L755.3,211.1 L755.8,211.1 L756.3,211.1 L756.8,211.1 L757.3,211.1 L757.8,211.1 L758.3,211.1 L758.8,211.1 L759.3,211.1 L759.8,211.1 L760.3,211.2 L760.8,211.2 L761.3,211.2 L761.8,211.2 L762.3,211.2 L762.8,211.2 L763.3,211.2 L763.8,211.2 L764.3,211.2 L764.8,211.2 L765.3,211.2 L765.8,211.2 L766.3,211.2 L766.8,211.2 L767.3,211.2 L767.8,211.2 L768.3,211.2 L768.8,211.2 L769.3,211.2 L769.8,211.2 L770.3,211.2 L770.8,211.2 L771.3,211.2 L771.8,211.2 L772.3,211.2 L772.8,211.2 L773.3,211.2 L773.8,211.2 L774.3,211.2 L774.8,211.2 L775.3,211.2 L775.8,211.2 L776.3,211.2 L776.8,211.2 L777.3,211.2 L777.8,211.2 L778.3,211.2 L778.8,211.2 L779.3,211.2 L779.8,211.2 L780.3,211.2 L780.8,211.2 L781.3,211.2 L781.8,211.2 L782.3,211.2 L782.8,211.2 L783.3,211.2 L783.8,211.2 L784.3,211.2 L784.8,211.2 L785.3,211.3 L785.8,211.3 L786.3,211.3 L786.8,211.3 L787.3,211.3 L787.8,211.3 L788.3,211.3 L788.8,211.3 L789.3,211.3 L789.8,211.3 L790.3,211.3 L790.8,211.3 L791.3,211.3 L791.8,211.3 L792.3,211.3 L792.8,211.3 L793.3,211.4 L793.8,211.4 L794.3,211.4 L794.8,211.4 L795.3,211.4 L795.8,211.4 L796.3,211.4 L796.8,211.4 L797.3,211.4 L797.8,211.4 L798.3,211.4 L798.8,211.4 L799.3,211.4 L799.8,211.4 L800.3,211.4 L800.8,211.5" stroke="#f747b8"/>
<path d="M69.3,164.6 L69.8,164.6 L70.3,164.6 L70.8,164.5 L71.3,164.5 L71.8,164.5 L72.3,164.5 L72.8,164.5 L73.3,164.5 L73.8,164.4 L74.3,164.4 L74.8,164.4 L75.3,164.4 L75.8,164.4 L76.3,164.4 L76.8,164.4 L77.3,164.4 L77.8,164.4 L78.3,164.4 L78.8,164.4 L79.3,164.4 L79.8,164.3 L80.3,164.3 L80.8,164.3 L81.3,164.3 L81.8,164.3 L82.3,164.3 L82.8,164.3 L83.3,164.3 L83.8,164.3 L84.3,164.3 L84.8,164.3 L85.3,164.3 L85.8,164.2 L86.3,164.2 L86.8,164.2 L87.3,164.2 L87.8,164.2 L88.3,164.2 L88.8,164.1 L89.3,164.1 L89.8,164.1 L90.3,164.1 L90.8,164.0 L91.3,164.0 L91.8,163.9 L92.3,163.9 L92.8,163.8 L93.3,163.8 L93.8,163.7 L94.3,163.7 L94.8,163.6 L95.3,163.5 L95.8,163.4 L96.3,163.3 L96.8,163.1 L97.3,163.0 L97.8,162.8 L98.3,162.6 L98.8,162.4 L99.3,162.1 L99.8,161.8 L100.3,161.5 L100.8,161.1 L101.3,160.7 L101.8,160.3 L102.3,159.8 L102.8,159.2 L103.3,158.7 L103.8,158.2 L104.3,157.8 L104.8,157.4 L105.3,157.2 L105.8,157.2 L106.3,157.2 L106.8,157.4 L107.3,157.7 L107.8,157.9 L108.3,158.2 L108.8,158.4 L109.3,158.5 L109.8,158.6 L110.3,158.5 L110.8,158.4 L111.3,158.2 L111.8,157.9 L112.3,157.5 L112.8,157.1 L113.3,156.7 L113.8,156.4 L114.3,156.2 L114.8,156.2 L115.3,156.5 L115.8,156.9 L116.3,157.4 L116.8,158.0 L117.3,158.6 L117.8,159.2 L118.3,159.8 L118.8,160.3 L119.3,160.7 L119.8,161.0 L120.3,161.4 L120.8,161.6 L121.3,161.9 L121.8,162.0 L122.3,162.2 L122.8,162.3 L123.3,162.5 L123.8,162.6 L124.3,162.6 L124.8,162.7 L125.3,162.7 L125.8,162.8 L126.3,162.8 L126.8,162.8 L127.3,162.8 L127.8,162.8 L128.3,162.8 L128.8,162.8 L129.3,162.7 L129.8,162.7 L130.3,162.6 L130.8,162.5 L131.3,162.4 L131.8,162.4 L132.3,162.2 L132.8,162.1 L133.3,162.0 L133.8,161.8 L134.3,161.7 L134.8,161.5 L135.3,161.4 L135.8,161.3 L136.3,161.1 L136.8,161.0 L137.3,161.0 L137.8,160.9 L138.3,160.9 L138.8,160.9 L139.3,160.8 L139.8,160.8 L140.3,160.8 L140.8,160.7 L141.3,160.7 L141.8,160.6 L142.3,160.4 L142.8,160.2 L143.3,160.0 L143.8,159.8 L144.3,159.5 L144.8,159.2 L145.3,158.9 L145.8,158.5 L146.3,158.2 L146.8,157.9 L147.3,157.7 L147.8,157.5 L148.3,157.5 L148.8,157.6 L149.3,157.7 L149.8,158.0 L150.3,158.2 L150.8,158.5 L151.3,158.8 L151.8,159.0 L152.3,159.2 L152.8,159.3 L153.3,159.4 L153.8,159.5 L154.3,159.5 L154.8,159.5 L155.3,159.4 L155.8,159.3 L156.3,159.1 L156.8,158.9 L157.3,158.7 L157.8,158.4 L158.3,158.1 L158.8,157.8 L159.3,157.6 L159.8,157.3 L160.3,157.2 L160.8,157.2 L161.3,157.3 L161.8,157.5 L162.3,157.8 L162.8,158.2 L163.3,158.7 L163.8,159.1 L164.3,159.6 L164.8,160.0 L165.3,160.3 L165.8,160.7 L166.3,161.0 L166.8,161.3 L167.3,161.5 L167.8,161.7 L168.3,161.9 L168.8,162.1 L169.3,162.3 L169.8,162.4 L170.3,162.6 L170.8,162.7 L171.3,162.8 L171.8,162.9 L172.3,163.0 L172.8,163.1 L173.3,163.2 L173.8,163.3 L174.3,163.3 L174.8,163.4 L175.3,163.5 L175.8,163.5 L176.3,163.6 L176.8,163.7 L177.3,163.7 L177.8,163.8 L178.3,163.8 L178.8,163.9 L179.3,163.9 L179.8,163.9 L180.3,164.0 L180.8,164.0 L181.3,164.1 L181.8,164.1 L182.3,164.1 L182.8,164.2 L183.3,164.2 L183.8,164.2 L184.3,164.2 L184.8,164.3 L185.3,164.3 L185.8,164.3 L186.3,164.3 L186.8,164.4 L187.3,164.4 L187.8,164.4 L188.3,164.4 L188.8,164.4 L189.3,164.5 L189.8,164.5 L190.3,164.5 L190.8,164.5 L191.3,164.5 L191.8,164.5 L192.3,164.6 L192.8,164.6 L193.3,164.6 L193.8,164.6 L194.3,164.6 L194.8,164.6 L195.3,164.6 L195.8,164.6 L196.3,164.6 L196.8,164.7 L197.3,164.7 L197.8,164.7 L198.3,164.7 L198.8,164.7 L199.3,164.7 L199.8,164.7 L200.3,164.7 L200.8,164.7 L201.3,164.7 L201.8,164.7 L202.3,164.7 L202.8,164.7 L203.3,164.7 L203.8,164.7 L204.3,164.7 L204.8,164.8 L205.3,164.8 L205.8,164.8 L206.3,164.8 L206.8,164.8 L207.3,164.8 L207.8,164.8 L208.3,164.8 L208.8,164.8 L209.3,164.8 L209.8,164.8 L210.3,164.8 L210.8,164.8 L211.3,164.8 L211.8,164.8 L212.3,164.8 L212.8,164.8 L213.3,164.8 L213.8,164.8 L214.3,164.8 L214.8,164.8 L215.3,164.8 L215.8,164.8 L216.3,164.8 L216.8,164.7 L217.3,164.7 L217.8,164.7 L218.3,164.7 L218.8,164.7 L219.3,164.7 L219.8,164.7 L220.3,164.7 L220.8,164.7 L221.3,164.7 L221.8,164.7 L222.3,164.7 L222.8,164.7 L223.3,164.7 L223.8,164.6 L224.3,164.6 L224.8,164.6 L225.3,164.6 L225.8,164.6 L226.3,164.6 L226.8,164.6 L227.3,164.6 L227.8,164.5 L228.3,164.5 L228.8,164.5 L229.3,164.5 L229.8,164.5 L230.3,164.5 L230.8,164.5 L231.3,164.5 L231.8,164.5 L232.3,164.5 L232.8,164.4 L233.3,164.4 L233.8,164.4 L234.3,164.4 L234.8,164.4 L235.3,164.4 L235.8,164.4 L236.3,164.4 L236.8,164.4 L237.3,164.4 L237.8,164.4 L238.3,164.3 L238.8,164.3 L239.3,164.3 L239.8,164.3 L240.3,164.3 L240.8,164.3 L241.3,164.3 L241.8,164.3 L242.3,164.3 L242.8,164.3 L243.3,164.3 L243.8,164.3 L244.3,164.3 L244.8,164.3 L245.3,164.3 L245.8,164.3 L246.3,164.3 L246.8,164.3 L247.3,164.3 L247.8,164.3 L248.3,164.3 L248.8,164.3 L249.3,164.3 L249.8,164.3 L250.3,164.3 L250.8,164.3 L251.3,164.3 L251.8,164.2 L252.3,164.2 L252.8,164.2 L253.3,164.2 L253.8,164.2 L254.3,164.2 L254.8,164.2 L255.3,164.1 L255.8,164.1 L256.3,164.1 L256.8,164.1 L257.3,164.0 L257.8,164.0 L258.3,164.0 L258.8,163.9 L259.3,163.9 L259.8,163.8 L260.3,163.8 L260.8,163.7 L261.3,163.6 L261.8,163.5 L262.3,163.5 L262.8,163.4 L263.3,163.3 L263.8,163.1 L264.3,163.0 L264.8,162.9 L265.3,162.7 L265.8,162.5 L266.3,162.3 L266.8,162.1 L267.3,161.8 L267.8,161.5 L268.3,161.2 L268.8,160.8 L269.3,160.4 L269.8,159.9 L270.3,159.4 L270.8,158.8 L271.3,158.0 L271.8,157.2 L272.3,156.3 L272.8,155.3 L273.3,154.2 L273.8,152.9 L274.3,151.6 L274.8,150.1 L275.3,148.7 L275.8,147.4 L276.3,146.2 L276.8,145.4 L277.3,144.9 L277.8,145.0 L278.3,145.5 L278.8,146.4 L279.3,147.6 L279.8,148.9 L280.3,150.4 L280.8,151.8 L281.3,153.1 L281.8,154.3 L282.3,155.4 L282.8,156.4 L283.3,157.3 L283.8,158.0 L284.3,158.7 L284.8,159.3 L285.3,159.8 L285.8,160.3 L286.3,160.7 L286.8,161.0 L287.3,161.3 L287.8,161.6 L288.3,161.9 L288.8,162.1 L289.3,162.3 L289.8,162.4 L290.3,162.6 L290.8,162.7 L291.3,162.8 L291.8,163.0 L292.3,163.1 L292.8,163.1 L293.3,163.2 L293.8,163.3 L294.3,163.4 L294.8,163.4 L295.3,163.5 L295.8,163.5 L296.3,163.5 L296.8,163.6 L297.3,163.6 L297.8,163.6 L298.3,163.7 L298.8,163.7 L299.3,163.7 L299.8,163.7 L300.3,163.7 L300.8,163.8 L301.3,163.8 L301.8,163.8 L302.3,163.8 L302.8,163.8 L303.3,163.8 L303.8,163.8 L304.3,163.8 L304.8,163.8 L305.3,163.8 L305.8,163.8 L306.3,163.8 L306.8,163.8 L307.3,163.8 L307.8,163.8 L308.3,163.8 L308.8,163.8 L309.3,163.8 L309.8,163.8 L310.3,163.8 L310.8,163.8 L311.3,163.8 L311.8,163.7 L312.3,163.7 L312.8,163.7 L313.3,163.6 L313.8,163.6 L314.3,163.6 L314.8,163.5 L315.3,163.5 L315.8,163.4 L316.3,163.4 L316.8,163.3 L317.3,163.2 L317.8,163.1 L318.3,163.0 L318.8,162.9 L319.3,162.8 L319.8,162.7 L320.3,162.5 L320.8,162.4 L321.3,162.2 L321.8,162.0 L322.3,161.8 L322.8,161.5 L323.3,161.2 L323.8,160.8 L324.3,160.4 L324.8,160.0 L325.3,159.4 L325.8,158.8 L326.3,158.1 L326.8,157.3 L327.3,156.4 L327.8,155.3 L328.3,154.2 L328.8,153.0 L329.3,151.9 L329.8,151.0 L330.3,150.4 L330.8,150.1 L331.3,150.1 L331.8,150.2 L332.3,150.5 L332.8,150.7 L333.3,150.8 L333.8,150.7 L334.3,150.4 L334.8,149.8 L335.3,149.0 L335.8,148.0 L336.3,146.7 L336.8,145.2 L337.3,143.4 L337.8,141.3 L338.3,139.1 L338.8,136.8 L339.3,134.5 L339.8,132.4 L340.3,130.7 L340.8,129.6 L341.3,129.3 L341.8,129.8 L342.3,131.0 L342.8,132.9 L343.3,135.1 L343.8,137.6 L344.3,140.1 L344.8,142.6 L345.3,144.9 L345.8,147.0 L346.3,148.8 L346.8,150.5 L347.3,152.0 L347.8,153.3 L348.3,154.4 L348.8,155.4 L349.3,156.3 L349.8,157.1 L350.3,157.8 L350.8,158.4 L351.3,158.9 L351.8,159.4 L352.3,159.9 L352.8,160.2 L353.3,160.6 L353.8,160.9 L354.3,161.2 L354.8,161.4 L355.3,161.6 L355.8,161.8 L356.3,162.0 L356.8,162.2 L357.3,162.3 L357.8,162.5 L358.3,162.6 L358.8,162.7 L359.3,162.8 L359.8,162.9 L360.3,163.0 L360.8,163.1 L361.3,163.1 L361.8,163.2 L362.3,163.2 L362.8,163.3 L363.3,163.3 L363.8,163.3 L364.3,163.4 L364.8,163.4 L365.3,163.4 L365.8,163.4 L366.3,163.4 L366.8,163.4 L367.3,163.4 L367.8,163.4 L368.3,163.4 L368.8,163.4 L369.3,163.4 L369.8,163.4 L370.3,163.4 L370.8,163.3 L371.3,163.3 L371.8,163.3 L372.3,163.2 L372.8,163.2 L373.3,163.1 L373.8,163.1 L374.3,163.0 L374.8,162.9 L375.3,162.9 L375.8,162.8 L376.3,162.7 L376.8,162.6 L377.3,162.5 L377.8,162.4 L378.3,162.3 L378.8,162.2 L379.3,162.0 L379.8,161.9 L380.3,161.7 L380.8,161.6 L381.3,161.4 L381.8,161.2 L382.3,161.0 L382.8,160.7 L383.3,160.5 L383.8,160.2 L384.3,159.9 L384.8,159.6 L385.3,159.3 L385.8,158.9 L386.3,158.5 L386.8,158.0 L387.3,157.5 L387.8,157.0 L388.3,156.4 L388.8,155.7 L389.3,155.0 L389.8,154.2 L390.3,153.3 L390.8,152.3 L391.3,151.2 L391.8,149.9 L392.3,148.5 L392.8,146.9 L393.3,145.1 L393.8,143.0 L394.3,140.7 L394.8,138.0 L395.3,135.0 L395.8,131.6 L396.3,127.7 L396.8,123.4 L397.3,118.5 L397.8,113.2 L398.3,107.5 L398.8,101.5 L399.3,95.6 L399.8,90.2 L400.3,85.6 L400.8,82.4 L401.3,81.0 L401.8,81.6 L402.3,84.1 L402.8,88.2 L403.3,93.3 L403.8,99.1 L404.3,105.1 L404.8,110.9 L405.3,116.4 L405.8,121.4 L406.3,126.0 L406.8,130.0 L407.3,133.6 L407.8,136.8 L408.3,139.6 L408.8,142.0 L409.3,144.2 L409.8,146.1 L410.3,147.7 L410.8,149.2 L411.3,150.5 L411.8,151.7 L412.3,152.8 L412.8,153.7 L413.3,154.5 L413.8,155.3 L414.3,156.0 L414.8,156.6 L415.3,157.1 L415.8,157.6 L416.3,158.1 L416.8,158.5 L417.3,158.9 L417.8,159.2 L418.3,159.5 L418.8,159.8 L419.3,160.1 L419.8,160.3 L420.3,160.6 L420.8,160.8 L421.3,161.0 L421.8,161.1 L422.3,161.3 L422.8,161.4 L423.3,161.6 L423.8,161.7 L424.3,161.8 L424.8,161.9 L425.3,162.0 L425.8,162.1 L426.3,162.2 L426.8,162.2 L427.3,162.3 L427.8,162.3 L428.3,162.4 L428.8,162.4 L429.3,162.4 L429.8,162.5 L430.3,162.5 L430.8,162.5 L431.3,162.5 L431.8,162.5 L432.3,162.5 L432.8,162.4 L433.3,162.4 L433.8,162.4 L434.3,162.3 L434.8,162.3 L435.3,162.2 L435.8,162.1 L436.3,162.0 L436.8,162.0 L437.3,161.9 L437.8,161.7 L438.3,161.6 L438.8,161.5 L439.3,161.3 L439.8,161.1 L440.3,160.9 L440.8,160.7 L441.3,160.4 L441.8,160.2 L442.3,159.8 L442.8,159.5 L443.3,159.1 L443.8,158.7 L444.3,158.2 L444.8,157.7 L445.3,157.1 L445.8,156.4 L446.3,155.6 L446.8,154.7 L447.3,153.8 L447.8,152.6 L448.3,151.4 L448.8,149.9 L449.3,148.3 L449.8,146.4 L450.3,144.3 L450.8,141.9 L451.3,139.2 L451.8,136.4 L452.3,133.3 L452.8,130.2 L453.3,127.2 L453.8,124.5 L454.3,122.3 L454.8,121.0 L455.3,120.7 L455.8,121.4 L456.3,123.1 L456.8,125.4 L457.3,128.3 L457.8,131.4 L458.3,134.5 L458.8,137.4 L459.3,140.2 L459.8,142.7 L460.3,145.0 L460.8,147.0 L461.3,148.7 L461.8,150.3 L462.3,151.6 L462.8,152.8 L463.3,153.9 L463.8,154.8 L464.3,155.6 L464.8,156.3 L465.3,156.9 L465.8,157.5 L466.3,158.0 L466.8,158.4 L467.3,158.8 L467.8,159.1 L468.3,159.4 L468.8,159.6 L469.3,159.9 L469.8,160.0 L470.3,160.2 L470.8,160.4 L471.3,160.5 L471.8,160.6 L472.3,160.6 L472.8,160.7 L473.3,160.7 L473.8,160.7 L474.3,160.7 L474.8,160.7 L475.3,160.7 L475.8,160.6 L476.3,160.5 L476.8,160.4 L477.3,160.3 L477.8,160.2 L478.3,160.0 L478.8,159.8 L479.3,159.6 L479.8,159.3 L480.3,159.0 L480.8,158.7 L481.3,158.4 L481.8,157.9 L482.3,157.5 L482.8,157.0 L483.3,156.4 L483.8,155.7 L484.3,155.0 L484.8,154.1 L485.3,153.1 L485.8,152.0 L486.3,150.8 L486.8,149.4 L487.3,147.8 L487.8,145.9 L488.3,143.8 L488.8,141.4 L489.3,138.7 L489.8,135.7 L490.3,132.3 L490.8,128.7 L491.3,124.8 L491.8,120.8 L492.3,116.9 L492.8,113.5 L493.3,110.8 L493.8,109.1 L494.3,108.7 L494.8,109.7 L495.3,111.8 L495.8,114.9 L496.3,118.6 L496.8,122.6 L497.3,126.6 L497.8,130.4 L498.3,134.0 L498.8,137.3 L499.3,140.2 L499.8,142.8 L500.3,145.1 L500.8,147.2 L501.3,149.0 L501.8,150.5 L502.3,151.9 L502.8,153.2 L503.3,154.2 L503.8,155.2 L504.3,156.1 L504.8,156.8 L505.3,157.5 L505.8,158.1 L506.3,158.7 L506.8,159.2 L507.3,159.6 L507.8,160.1 L508.3,160.4 L508.8,160.8 L509.3,161.1 L509.8,161.4 L510.3,161.6 L510.8,161.9 L511.3,162.1 L511.8,162.3 L512.3,162.5 L512.8,162.7 L513.3,162.8 L513.8,163.0 L514.3,163.1 L514.8,163.3 L515.3,163.4 L515.8,163.5 L516.3,163.6 L516.8,163.7 L517.3,163.8 L517.8,163.9 L518.3,164.0 L518.8,164.1 L519.3,164.2 L519.8,164.2 L520.3,164.3 L520.8,164.4 L521.3,164.4 L521.8,164.5 L522.3,164.6 L522.8,164.6 L523.3,164.7 L523.8,164.7 L524.3,164.8 L524.8,164.8 L525.3,164.8 L525.8,164.9 L526.3,164.9 L526.8,165.0 L527.3,165.0 L527.8,165.0 L528.3,165.1 L528.8,165.1 L529.3,165.1 L529.8,165.1 L530.3,165.2 L530.8,165.2 L531.3,165.2 L531.8,165.2 L532.3,165.3 L532.8,165.3 L533.3,165.3 L533.8,165.3 L534.3,165.3 L534.8,165.4 L535.3,165.4 L535.8,165.4 L536.3,165.4 L536.8,165.4 L537.3,165.4 L537.8,165.4 L538.3,165.5 L538.8,165.5 L539.3,165.5 L539.8,165.5 L540.3,165.5 L540.8,165.5 L541.3,165.5 L541.8,165.5 L542.3,165.5 L542.8,165.5 L543.3,165.5 L543.8,165.5 L544.3,165.5 L544.8,165.5 L545.3,165.5 L545.8,165.5 L546.3,165.5 L546.8,165.5 L547.3,165.4 L547.8,165.4 L548.3,165.4 L548.8,165.4 L549.3,165.3 L549.8,165.3 L550.3,165.2 L550.8,165.2 L551.3,165.1 L551.8,165.0 L552.3,164.9 L552.8,164.8 L553.3,164.7 L553.8,164.5 L554.3,164.4 L554.8,164.2 L555.3,164.0 L555.8,163.8 L556.3,163.7 L556.8,163.5 L557.3,163.5 L557.8,163.5 L558.3,163.6 L558.8,163.8 L559.3,164.0 L559.8,164.2 L560.3,164.4 L560.8,164.5 L561.3,164.7 L561.8,164.9 L562.3,165.0 L562.8,165.1 L563.3,165.2 L563.8,165.3 L564.3,165.4 L564.8,165.4 L565.3,165.5 L565.8,165.5 L566.3,165.6 L566.8,165.6 L567.3,165.6 L567.8,165.7 L568.3,165.7 L568.8,165.7 L569.3,165.7 L569.8,165.8 L570.3,165.8 L570.8,165.8 L571.3,165.8 L571.8,165.8 L572.3,165.8 L572.8,165.8 L573.3,165.8 L573.8,165.8 L574.3,165.9 L574.8,165.9 L575.3,165.9 L575.8,165.9 L576.3,165.9 L576.8,165.9 L577.3,165.9 L577.8,165.9 L578.3,165.9 L578.8,165.9 L579.3,165.9 L579.8,165.9 L580.3,165.9 L580.8,165.9 L581.3,165.8 L581.8,165.8 L582.3,165.8 L582.8,165.8 L583.3,165.8 L583.8,165.8 L584.3,165.8 L584.8,165.7 L585.3,165.7 L585.8,165.7 L586.3,165.6 L586.8,165.6 L587.3,165.5 L587.8,165.5 L588.3,165.4 L588.8,165.3 L589.3,165.3 L589.8,165.2 L590.3,165.0 L590.8,164.9 L591.3,164.8 L591.8,164.7 L592.3,164.6 L592.8,164.6 L593.3,164.6 L593.8,164.6 L594.3,164.7 L594.8,164.8 L595.3,164.9 L595.8,165.0 L596.3,165.1 L596.8,165.2 L597.3,165.3 L597.8,165.4 L598.3,165.4 L598.8,165.5 L599.3,165.5 L599.8,165.6 L600.3,165.6 L600.8,165.6 L601.3,165.6 L601.8,165.7 L602.3,165.7 L602.8,165.7 L603.3,165.7 L603.8,165.7 L604.3,165.7 L604.8,165.7 L605.3,165.7 L605.8,165.7 L606.3,165.7 L606.8,165.7 L607.3,165.7 L607.8,165.7 L608.3,165.7 L608.8,165.7 L609.3,165.7 L609.8,165.6 L610.3,165.6 L610.8,165.6 L611.3,165.6 L611.8,165.6 L612.3,165.6 L612.8,165.6 L613.3,165.6 L613.8,165.6 L614.3,165.6 L614.8,165.6 L615.3,165.6 L615.8,165.6 L616.3,165.6 L616.8,165.6 L617.3,165.5 L617.8,165.5 L618.3,165.5 L618.8,165.5 L619.3,165.5 L619.8,165.5 L620.3,165.5 L620.8,165.5 L621.3,165.5 L621.8,165.5 L622.3,165.5 L622.8,165.5 L623.3,165.5 L623.8,165.5 L624.3,165.5 L624.8,165.5 L625.3,165.5 L625.8,165.5 L626.3,165.5 L626.8,165.5 L627.3,165.6 L627.8,165.6 L628.3,165.6 L628.8,165.6 L629.3,165.6 L629.8,165.6 L630.3,165.6 L630.8,165.6 L631.3,165.6 L631.8,165.6 L632.3,165.7 L632.8,165.7 L633.3,165.7 L633.8,165.7 L634.3,165.7 L634.8,165.7 L635.3,165.7 L635.8,165.7 L636.3,165.7 L636.8,165.7 L637.3,165.8 L637.8,165.8 L638.3,165.8 L638.8,165.8 L639.3,165.8 L639.8,165.8 L640.3,165.8 L640.8,165.8 L641.3,165.8 L641.8,165.8 L642.3,165.8 L642.8,165.8 L643.3,165.8 L643.8,165.8 L644.3,165.8 L644.8,165.8 L645.3,165.8 L645.8,165.8 L646.3,165.8 L646.8,165.8 L647.3,165.8 L647.8,165.8 L648.3,165.8 L648.8,165.7 L649.3,165.7 L649.8,165.7 L650.3,165.7 L650.8,165.7 L651.3,165.7 L651.8,165.6 L652.3,165.6 L652.8,165.6 L653.3,165.6 L653.8,165.5 L654.3,165.5 L654.8,165.4 L655.3,165.4 L655.8,165.3 L656.3,165.3 L656.8,165.2 L657.3,165.1 L657.8,165.1 L658.3,165.0 L658.8,164.9 L659.3,164.8 L659.8,164.7 L660.3,164.6 L660.8,164.5 L661.3,164.4 L661.8,164.3 L662.3,164.2 L662.8,164.1 L663.3,164.0 L663.8,164.0 L664.3,164.0 L664.8,164.0 L665.3,164.1 L665.8,164.1 L666.3,164.2 L666.8,164.3 L667.3,164.4 L667.8,164.5 L668.3,164.6 L668.8,164.7 L669.3,164.8 L669.8,164.8 L670.3,164.9 L670.8,165.0 L671.3,165.0 L671.8,165.1 L672.3,165.1 L672.8,165.2 L673.3,165.2 L673.8,165.2 L674.3,165.3 L674.8,165.3 L675.3,165.3 L675.8,165.3 L676.3,165.3 L676.8,165.3 L677.3,165.3 L677.8,165.3 L678.3,165.3 L678.8,165.3 L679.3,165.3 L679.8,165.3 L680.3,165.3 L680.8,165.3 L681.3,165.3 L681.8,165.3 L682.3,165.3 L682.8,165.3 L683.3,165.3 L683.8,165.3 L684.3,165.3 L684.8,165.3 L685.3,165.3 L685.8,165.3 L686.3,165.3 L686.8,165.3 L687.3,165.3 L687.8,165.2 L688.3,165.2 L688.8,165.2 L689.3,165.2 L689.8,165.2 L690.3,165.2 L690.8,165.2 L691.3,165.2 L691.8,165.2 L692.3,165.2 L692.8,165.2 L693.3,165.2 L693.8,165.2 L694.3,165.1 L694.8,165.1 L695.3,165.1 L695.8,165.1 L696.3,165.1 L696.8,165.1 L697.3,165.1 L697.8,165.1 L698.3,165.0 L698.8,165.0 L699.3,165.0 L699.8,165.0 L700.3,165.0 L700.8,164.9 L701.3,164.9 L701.8,164.9 L702.3,164.9 L702.8,164.8 L703.3,164.8 L703.8,164.7 L704.3,164.7 L704.8,164.7 L705.3,164.6 L705.8,164.5 L706.3,164.5 L706.8,164.4 L707.3,164.3 L707.8,164.3 L708.3,164.2 L708.8,164.1 L709.3,164.0 L709.8,163.8 L710.3,163.7 L710.8,163.5 L711.3,163.4 L711.8,163.2 L712.3,163.0 L712.8,162.8 L713.3,162.5 L713.8,162.2 L714.3,161.9 L714.8,161.6 L715.3,161.2 L715.8,160.8 L716.3,160.3 L716.8,159.8 L717.3,159.3 L717.8,158.8 L718.3,158.2 L718.8,157.6 L719.3,157.1 L719.8,156.6 L720.3,156.1 L720.8,155.7 L721.3,155.5 L721.8,155.4 L722.3,155.4 L722.8,155.6 L723.3,156.0 L723.8,156.4 L724.3,156.9 L724.8,157.4 L725.3,158.0 L725.8,158.6 L726.3,159.2 L726.8,159.7 L727.3,160.2 L727.8,160.7 L728.3,161.1 L728.8,161.5 L729.3,161.9 L729.8,162.2 L730.3,162.5 L730.8,162.8 L731.3,163.0 L731.8,163.2 L732.3,163.4 L732.8,163.6 L733.3,163.8 L733.8,163.9 L734.3,164.1 L734.8,164.2 L735.3,164.3 L735.8,164.4 L736.3,164.5 L736.8,164.6 L737.3,164.7 L737.8,164.7 L738.3,164.8 L738.8,164.9 L739.3,164.9 L739.8,165.0 L740.3,165.0 L740.8,165.1 L741.3,165.1 L741.8,165.2 L742.3,165.2 L742.8,165.2 L743.3,165.3 L743.8,165.3 L744.3,165.3 L744.8,165.3 L745.3,165.4 L745.8,165.4 L746.3,165.4 L746.8,165.4 L747.3,165.4 L747.8,165.4 L748.3,165.5 L748.8,165.5 L749.3,165.5 L749.8,165.5 L750.3,165.5 L750.8,165.5 L751.3,165.5 L751.8,165.5 L752.3,165.5 L752.8,165.5 L753.3,165.6 L753.8,165.6 L754.3,165.6 L754.8,165.6 L755.3,165.6 L755.8,165.6 L756.3,165.6 L756.8,165.5 L757.3,165.5 L757.8,165.5 L758.3,165.5 L758.8,165.5 L759.3,165.5 L759.8,165.5 L760.3,165.4 L760.8,165.4 L761.3,165.4 L761.8,165.4 L762.3,165.3 L762.8,165.3 L763.3,165.2 L763.8,165.2 L764.3,165.1 L764.8,165.0 L765.3,164.9 L765.8,164.9 L766.3,164.8 L766.8,164.8 L767.3,164.7 L767.8,164.7 L768.3,164.7 L768.8,164.7 L769.3,164.8 L769.8,164.8 L770.3,164.9 L770.8,165.0 L771.3,165.1 L771.8,165.1 L772.3,165.2 L772.8,165.3 L773.3,165.3 L773.8,165.4 L774.3,165.4 L774.8,165.5 L775.3,165.5 L775.8,165.5 L776.3,165.6 L776.8,165.6 L777.3,165.6 L777.8,165.6 L778.3,165.6 L778.8,165.7 L779.3,165.7 L779.8,165.7 L780.3,165.7 L780.8,165.7 L781.3,165.7 L781.8,165.7 L782.3,165.7 L782.8,165.7 L783.3,165.7 L783.8,165.7 L784.3,165.8 L784.8,165.8 L785.3,165.8 L785.8,165.8 L786.3,165.8 L786.8,165.8 L787.3,165.8 L787.8,165.8 L788.3,165.8 L788.8,165.8 L789.3,165.8 L789.8,165.8 L790.3,165.8 L790.8,165.8 L791.3,165.8 L791.8,165.8 L792.3,165.8 L792.8,165.8 L793.3,165.8 L793.8,165.8 L794.3,165.9 L794.8,165.9 L795.3,165.9 L795.8,165.9 L796.3,165.9 L796.8,165.9 L797.3,165.9 L797.8,165.9 L798.3,165.9 L798.8,165.9 L799.3,165.9 L799.8,165.9 L800.3,166.0 L800.8,166.0" stroke="#ff708f"/>
<path d="M69.3,117.4 L69.8,117.5 L70.3,117.6 L70.8,117.6 L71.3,117.6 L71.8,117.6 L72.3,117.6 L72.8,117.6 L73.3,117.6 L73.8,117.5 L74.3,117.5 L74.8,117.4 L75.3,117.3 L75.8,117.3 L76.3,117.1 L76.8,117.0 L77.3,116.9 L77.8,116.7 L78.3,116.5 L78.8,116.3 L79.3,116.0 L79.8,115.8 L80.3,115.5 L80.8,115.1 L81.3,114.8 L81.8,114.4 L82.3,114.0 L82.8,113.5 L83.3,113.1 L83.8,112.8 L84.3,112.5 L84.8,112.3 L85.3,112.2 L85.8,112.2 L86.3,112.4 L86.8,112.6 L87.3,112.9 L87.8,113.2 L88.3,113.6 L88.8,113.9 L89.3,114.3 L89.8,114.6 L90.3,114.9 L90.8,115.1 L91.3,115.4 L91.8,115.6 L92.3,115.7 L92.8,115.9 L93.3,116.0 L93.8,116.1 L94.3,116.2 L94.8,116.3 L95.3,116.4 L95.8,116.5 L96.3,116.5 L96.8,116.6 L97.3,116.6 L97.8,116.7 L98.3,116.7 L98.8,116.8 L99.3,116.8 L99.8,116.8 L100.3,116.9 L100.8,116.9 L101.3,116.9 L101.8,117.0 L102.3,117.0 L102.8,117.0 L103.3,117.1 L103.8,117.1 L104.3,117.1 L104.8,117.1 L105.3,117.2 L105.8,117.2 L106.3,117.2 L106.8,117.2 L107.3,117.2 L107.8,117.2 L108.3,117.2 L108.8,117.2 L109.3,117.2 L109.8,117.1 L110.3,117.1 L110.8,117.1 L111.3,117.0 L111.8,117.0 L112.3,116.9 L112.8,116.9 L113.3,116.8 L113.8,116.7 L114.3,116.6 L114.8,116.5 L115.3,116.4 L115.8,116.3 L116.3,116.1 L116.8,115.9 L117.3,115.8 L117.8,115.6 L118.3,115.4 L118.8,115.2 L119.3,115.0 L119.8,114.8 L120.3,114.6 L120.8,114.4 L121.3,114.3 L121.8,114.1 L122.3,114.0 L122.8,114.0 L123.3,114.0 L123.8,114.0 L124.3,114.0 L124.8,114.1 L125.3,114.2 L125.8,114.3 L126.3,114.4 L126.8,114.4 L127.3,114.5 L127.8,114.5 L128.3,114.4 L128.8,114.4 L129.3,114.2 L129.8,114.0 L130.3,113.8 L130.8,113.4 L131.3,113.0 L131.8,112.5 L132.3,111.9 L132.8,111.3 L133.3,110.6 L133.8,110.0 L134.3,109.5 L134.8,109.2 L135.3,109.2 L135.8,109.5 L136.3,110.0 L136.8,110.7 L137.3,111.5 L137.8,112.3 L138.3,113.0 L138.8,113.8 L139.3,114.4 L139.8,115.0 L140.3,115.5 L140.8,115.9 L141.3,116.3 L141.8,116.6 L142.3,116.9 L142.8,117.1 L143.3,117.3 L143.8,117.5 L144.3,117.7 L144.8,117.8 L145.3,118.0 L145.8,118.1 L146.3,118.2 L146.8,118.3 L147.3,118.4 L147.8,118.5 L148.3,118.5 L148.8,118.6 L149.3,118.7 L149.8,118.7 L150.3,118.8 L150.8,118.8 L151.3,118.9 L151.8,118.9 L152.3,118.9 L152.8,119.0 L153.3,119.0 L153.8,119.1 L154.3,119.1 L154.8,119.1 L155.3,119.1 L155.8,119.2 L156.3,119.2 L156.8,119.2 L157.3,119.2 L157.8,119.3 L158.3,119.3 L158.8,119.3 L159.3,119.3 L159.8,119.4 L160.3,119.4 L160.8,119.4 L161.3,119.4 L161.8,119.4 L162.3,119.5 L162.8,119.5 L163.3,119.5 L163.8,119.5 L164.3,119.5 L164.8,119.5 L165.3,119.6 L165.8,119.6 L166.3,119.6 L166.8,119.6 L167.3,119.6 L167.8,119.6 L168.3,119.6 L168.8,119.7 L169.3,119.7 L169.8,119.7 L170.3,119.7 L170.8,119.7 L171.3,119.7 L171.8,119.7 L172.3,119.7 L172.8,119.7 L173.3,119.8 L173.8,119.8 L174.3,119.8 L174.8,119.8 L175.3,119.8 L175.8,119.8 L176.3,119.8 L176.8,119.8 L177.3,119.8 L177.8,119.8 L178.3,119.8 L178.8,119.8 L179.3,119.8 L179.8,119.8 L180.3,119.8 L180.8,119.9 L181.3,119.9 L181.8,119.9 L182.3,119.9 L182.8,119.9 L183.3,119.9 L183.8,119.9 L184.3,119.9 L184.8,119.9 L185.3,119.9 L185.8,119.9 L186.3,119.9 L186.8,119.9 L187.3,119.9 L187.8,119.9 L188.3,119.9 L188.8,119.9 L189.3,119.9 L189.8,119.9 L190.3,119.9 L190.8,119.9 L191.3,119.9 L191.8,119.9 L192.3,119.9 L192.8,119.9 L193.3,119.9 L193.8,119.9 L194.3,119.9 L194.8,119.9 L195.3,119.9 L195.8,119.9 L196.3,119.9 L196.8,119.9 L197.3,119.9 L197.8,119.9 L198.3,119.9 L198.8,119.9 L199.3,119.9 L199.8,119.9 L200.3,119.9 L200.8,119.9 L201.3,119.9 L201.8,119.9 L202.3,119.9 L202.8,119.9 L203.3,119.9 L203.8,119.9 L204.3,119.9 L204.8,119.9 L205.3,119.9 L205.8,119.9 L206.3,119.9 L206.8,119.9 L207.3,119.9 L207.8,119.9 L208.3,119.9 L208.8,119.8 L209.3,119.8 L209.8,119.8 L210.3,119.8 L210.8,119.8 L211.3,119.8 L211.8,119.8 L212.3,119.8 L212.8,119.8 L213.3,119.8 L213.8,119.8 L214.3,119.8 L214.8,119.8 L215.3,119.7 L215.8,119.7 L216.3,119.7 L216.8,119.7 L217.3,119.7 L217.8,119.7 L218.3,119.7 L218.8,119.7 L219.3,119.7 L219.8,119.7 L220.3,119.6 L220.8,119.6 L221.3,119.6 L221.8,119.6 L222.3,119.6 L222.8,119.6 L223.3,119.6 L223.8,119.6 L224.3,119.6 L224.8,119.5 L225.3,119.5 L225.8,119.5 L226.3,119.5 L226.8,119.5 L227.3,119.5 L227.8,119.5 L228.3,119.5 L228.8,119.4 L229.3,119.4 L229.8,119.4 L230.3,119.4 L230.8,119.4 L231.3,119.4 L231.8,119.4 L232.3,119.4 L232.8,119.3 L233.3,119.3 L233.8,119.3 L234.3,119.3 L234.8,119.3 L235.3,119.3 L235.8,119.2 L236.3,119.2 L236.8,119.2 L237.3,119.2 L237.8,119.2 L238.3,119.1 L238.8,119.1 L239.3,119.1 L239.8,119.0 L240.3,119.0 L240.8,119.0 L241.3,118.9 L241.8,118.9 L242.3,118.8 L242.8,118.7 L243.3,118.7 L243.8,118.6 L244.3,118.5 L244.8,118.4 L245.3,118.3 L245.8,118.2 L246.3,118.1 L246.8,118.0 L247.3,117.8 L247.8,117.7 L248.3,117.5 L248.8,117.3 L249.3,117.1 L249.8,116.8 L250.3,116.5 L250.8,116.2 L251.3,115.8 L251.8,115.4 L252.3,114.9 L252.8,114.3 L253.3,113.7 L253.8,113.0 L254.3,112.2 L254.8,111.3 L255.3,110.3 L255.8,109.2 L256.3,108.0 L256.8,106.8 L257.3,105.6 L257.8,104.5 L258.3,103.6 L258.8,103.0 L259.3,102.8 L259.8,103.0 L260.3,103.6 L260.8,104.5 L261.3,105.6 L261.8,106.8 L262.3,108.0 L262.8,109.2 L263.3,110.3 L263.8,111.3 L264.3,112.2 L264.8,113.0 L265.3,113.8 L265.8,114.4 L266.3,114.9 L266.8,115.4 L267.3,115.9 L267.8,116.2 L268.3,116.6 L268.8,116.9 L269.3,117.1 L269.8,117.4 L270.3,117.6 L270.8,117.7 L271.3,117.9 L271.8,118.1 L272.3,118.2 L272.8,118.3 L273.3,118.4 L273.8,118.5 L274.3,118.6 L274.8,118.7 L275.3,118.8 L275.8,118.8 L276.3,118.9 L276.8,118.9 L277.3,119.0 L277.8,119.0 L278.3,119.1 L278.8,119.1 L279.3,119.1 L279.8,119.2 L280.3,119.2 L280.8,119.2 L281.3,119.3 L281.8,119.3 L282.3,119.3 L282.8,119.3 L283.3,119.3 L283.8,119.3 L284.3,119.4 L284.8,119.4 L285.3,119.4 L285.8,119.4 L286.3,119.4 L286.8,119.4 L287.3,119.4 L287.8,119.4 L288.3,119.4 L288.8,119.4 L289.3,119.4 L289.8,119.4 L290.3,119.4 L290.8,119.4 L291.3,119.4 L291.8,119.4 L292.3,119.4 L292.8,119.4 L293.3,119.4 L293.8,119.4 L294.3,119.4 L294.8,119.4 L295.3,119.4 L295.8,119.3 L296.3,119.3 L296.8,119.3 L297.3,119.3 L297.8,119.3 L298.3,119.3 L298.8,119.2 L299.3,119.2 L299.8,119.2 L300.3,119.2 L300.8,119.1 L301.3,119.1 L301.8,119.0 L302.3,119.0 L302.8,118.9 L303.3,118.9 L303.8,118.8 L304.3,118.8 L304.8,118.7 L305.3,118.6 L305.8,118.5 L306.3,118.4 L306.8,118.3 L307.3,118.2 L307.8,118.0 L308.3,117.8 L308.8,117.6 L309.3,117.4 L309.8,117.2 L310.3,116.9 L310.8,116.5 L311.3,116.1 L311.8,115.6 L312.3,115.1 L312.8,114.5 L313.3,113.9 L313.8,113.3 L314.3,112.7 L314.8,112.2 L315.3,111.9 L315.8,111.9 L316.3,112.0 L316.8,112.3 L317.3,112.6 L317.8,113.0 L318.3,113.3 L318.8,113.5 L319.3,113.7 L319.8,113.7 L320.3,113.7 L320.8,113.6 L321.3,113.5 L321.8,113.2 L322.3,112.9 L322.8,112.5 L323.3,112.0 L323.8,111.4 L324.3,110.7 L324.8,109.9 L325.3,108.9 L325.8,107.8 L326.3,106.6 L326.8,105.2 L327.3,103.5 L327.8,101.7 L328.3,99.6 L328.8,97.4 L329.3,95.0 L329.8,92.6 L330.3,90.2 L330.8,88.1 L331.3,86.5 L331.8,85.5 L332.3,85.2 L332.8,85.8 L333.3,87.1 L333.8,89.0 L334.3,91.2 L334.8,93.6 L335.3,96.1 L335.8,98.4 L336.3,100.6 L336.8,102.6 L337.3,104.4 L337.8,106.0 L338.3,107.4 L338.8,108.6 L339.3,109.7 L339.8,110.6 L340.3,111.4 L340.8,112.2 L341.3,112.8 L341.8,113.4 L342.3,113.9 L342.8,114.3 L343.3,114.7 L343.8,115.1 L344.3,115.4 L344.8,115.7 L345.3,116.0 L345.8,116.2 L346.3,116.4 L346.8,116.6 L347.3,116.7 L347.8,116.9 L348.3,117.0 L348.8,117.2 L349.3,117.3 L349.8,117.4 L350.3,117.5 L350.8,117.5 L351.3,117.6 L351.8,117.7 L352.3,117.7 L352.8,117.8 L353.3,117.8 L353.8,117.9 L354.3,117.9 L354.8,117.9 L355.3,118.0 L355.8,118.0 L356.3,118.0 L356.8,118.0 L357.3,118.0 L357.8,118.0 L358.3,118.0 L358.8,118.0 L359.3,118.0 L359.8,118.0 L360.3,118.0 L360.8,118.0 L361.3,117.9 L361.8,117.9 L362.3,117.9 L362.8,117.8 L363.3,117.8 L363.8,117.8 L364.3,117.7 L364.8,117.7 L365.3,117.6 L365.8,117.5 L366.3,117.5 L366.8,117.4 L367.3,117.3 L367.8,117.3 L368.3,117.2 L368.8,117.1 L369.3,117.0 L369.8,116.9 L370.3,116.7 L370.8,116.6 L371.3,116.5 L371.8,116.3 L372.3,116.2 L372.8,116.0 L373.3,115.8 L373.8,115.6 L374.3,115.4 L374.8,115.2 L375.3,114.9 L375.8,114.7 L376.3,114.4 L376.8,114.1 L377.3,113.8 L377.8,113.4 L378.3,113.0 L378.8,112.6 L379.3,112.1 L379.8,111.6 L380.3,111.0 L380.8,110.4 L381.3,109.7 L381.8,109.0 L382.3,108.1 L382.8,107.2 L383.3,106.2 L383.8,105.0 L384.3,103.8 L384.8,102.3 L385.3,100.7 L385.8,98.9 L386.3,96.9 L386.8,94.6 L387.3,91.9 L387.8,89.0 L388.3,85.6 L388.8,81.7 L389.3,77.4 L389.8,72.4 L390.3,66.9 L390.8,60.8 L391.3,54.2 L391.8,47.2 L392.3,40.2 L392.8,33.4 L393.3,27.5 L393.8,23.0 L394.3,20.5 L394.8,20.3 L395.3,22.4 L395.8,26.5 L396.3,32.2 L396.8,38.8 L397.3,45.8 L397.8,52.8 L398.3,59.5 L398.8,65.7 L399.3,71.4 L399.8,76.4 L400.3,80.9 L400.8,84.8 L401.3,88.3 L401.8,91.3 L402.3,94.0 L402.8,96.4 L403.3,98.5 L403.8,100.3 L404.3,102.0 L404.8,103.4 L405.3,104.7 L405.8,105.9 L406.3,107.0 L406.8,107.9 L407.3,108.7 L407.8,109.5 L408.3,110.2 L408.8,110.8 L409.3,111.4 L409.8,111.9 L410.3,112.4 L410.8,112.8 L411.3,113.2 L411.8,113.6 L412.3,113.9 L412.8,114.2 L413.3,114.5 L413.8,114.8 L414.3,115.1 L414.8,115.3 L415.3,115.5 L415.8,115.7 L416.3,115.9 L416.8,116.0 L417.3,116.2 L417.8,116.3 L418.3,116.5 L418.8,116.6 L419.3,116.7 L419.8,116.8 L420.3,116.9 L420.8,117.0 L421.3,117.1 L421.8,117.2 L422.3,117.3 L422.8,117.3 L423.3,117.4 L423.8,117.5 L424.3,117.5 L424.8,117.6 L425.3,117.6 L425.8,117.6 L426.3,117.7 L426.8,117.7 L427.3,117.7 L427.8,117.7 L428.3,117.8 L428.8,117.8 L429.3,117.8 L429.8,117.8 L430.3,117.8 L430.8,117.8 L431.3,117.8 L431.8,117.7 L432.3,117.7 L432.8,117.7 L433.3,117.7 L433.8,117.6 L434.3,117.6 L434.8,117.6 L435.3,117.5 L435.8,117.5 L436.3,117.4 L436.8,117.3 L437.3,117.3 L437.8,117.2 L438.3,117.1 L438.8,117.0 L439.3,116.9 L439.8,116.8 L440.3,116.7 L440.8,116.5 L441.3,116.4 L441.8,116.2 L442.3,116.0 L442.8,115.9 L443.3,115.6 L443.8,115.4 L444.3,115.2 L444.8,114.9 L445.3,114.6 L445.8,114.2 L446.3,113.9 L446.8,113.5 L447.3,113.0 L447.8,112.5 L448.3,112.0 L448.8,111.4 L449.3,110.7 L449.8,109.9 L450.3,109.1 L450.8,108.1 L451.3,107.0 L451.8,105.8 L452.3,104.4 L452.8,102.8 L453.3,101.0 L453.8,98.9 L454.3,96.6 L454.8,94.0 L455.3,91.0 L455.8,87.7 L456.3,84.0 L456.8,80.0 L457.3,75.9 L457.8,71.8 L458.3,67.8 L458.8,64.5 L459.3,62.1 L459.8,60.8 L460.3,60.9 L460.8,62.4 L461.3,65.0 L461.8,68.5 L462.3,72.5 L462.8,76.6 L463.3,80.7 L463.8,84.6 L464.3,88.2 L464.8,91.4 L465.3,94.3 L465.8,96.8 L466.3,99.1 L466.8,101.0 L467.3,102.8 L467.8,104.3 L468.3,105.6 L468.8,106.8 L469.3,107.8 L469.8,108.7 L470.3,109.5 L470.8,110.3 L471.3,110.9 L471.8,111.5 L472.3,112.0 L472.8,112.4 L473.3,112.8 L473.8,113.2 L474.3,113.5 L474.8,113.8 L475.3,114.0 L475.8,114.2 L476.3,114.4 L476.8,114.6 L477.3,114.8 L477.8,114.9 L478.3,115.0 L478.8,115.1 L479.3,115.2 L479.8,115.3 L480.3,115.3 L480.8,115.4 L481.3,115.4 L481.8,115.5 L482.3,115.5 L482.8,115.5 L483.3,115.5 L483.8,115.4 L484.3,115.4 L484.8,115.4 L485.3,115.3 L485.8,115.2 L486.3,115.1 L486.8,115.0 L487.3,114.9 L487.8,114.7 L488.3,114.6 L488.8,114.4 L489.3,114.1 L489.8,113.9 L490.3,113.6 L490.8,113.2 L491.3,112.8 L491.8,112.4 L492.3,111.9 L492.8,111.3 L493.3,110.7 L493.8,109.9 L494.3,109.1 L494.8,108.2 L495.3,107.1 L495.8,105.8 L496.3,104.4 L496.8,102.8 L497.3,100.9 L497.8,98.8 L498.3,96.4 L498.8,93.8 L499.3,91.0 L499.8,87.9 L500.3,84.8 L500.8,81.8 L501.3,79.1 L501.8,77.0 L502.3,75.7 L502.8,75.4 L503.3,76.2 L503.8,77.9 L504.3,80.3 L504.8,83.2 L505.3,86.3 L505.8,89.5 L506.3,92.5 L506.8,95.3 L507.3,97.9 L507.8,100.2 L508.3,102.3 L508.8,104.1 L509.3,105.7 L509.8,107.1 L510.3,108.3 L510.8,109.4 L511.3,110.4 L511.8,111.2 L512.3,112.0 L512.8,112.7 L513.3,113.3 L513.8,113.8 L514.3,114.3 L514.8,114.8 L515.3,115.2 L515.8,115.5 L516.3,115.8 L516.8,116.1 L517.3,116.4 L517.8,116.7 L518.3,116.9 L518.8,117.1 L519.3,117.3 L519.8,117.5 L520.3,117.6 L520.8,117.8 L521.3,117.9 L521.8,118.1 L522.3,118.2 L522.8,118.3 L523.3,118.4 L523.8,118.5 L524.3,118.6 L524.8,118.7 L525.3,118.8 L525.8,118.9 L526.3,118.9 L526.8,119.0 L527.3,119.1 L527.8,119.1 L528.3,119.2 L528.8,119.2 L529.3,119.3 L529.8,119.3 L530.3,119.4 L530.8,119.4 L531.3,119.5 L531.8,119.5 L532.3,119.6 L532.8,119.6 L533.3,119.6 L533.8,119.7 L534.3,119.7 L534.8,119.7 L535.3,119.7 L535.8,119.8 L536.3,119.8 L536.8,119.8 L537.3,119.8 L537.8,119.9 L538.3,119.9 L538.8,119.9 L539.3,119.9 L539.8,119.9 L540.3,120.0 L540.8,120.0 L541.3,120.0 L541.8,120.0 L542.3,120.0 L542.8,120.0 L543.3,120.0 L543.8,120.1 L544.3,120.1 L544.8,120.1 L545.3,120.1 L545.8,120.1 L546.3,120.1 L546.8,120.1 L547.3,120.1 L547.8,120.1 L548.3,120.2 L548.8,120.2 L549.3,120.2 L549.8,120.2 L550.3,120.2 L550.8,120.2 L551.3,120.2 L551.8,120.2 L552.3,120.2 L552.8,120.2 L553.3,120.2 L553.8,120.2 L554.3,120.2 L554.8,120.2 L555.3,120.2 L555.8,120.2 L556.3,120.2 L556.8,120.2 L557.3,120.2 L557.8,120.2 L558.3,120.1 L558.8,120.1 L559.3,120.1 L559.8,120.1 L560.3,120.0 L560.8,120.0 L561.3,119.9 L561.8,119.9 L562.3,119.8 L562.8,119.7 L563.3,119.6 L563.8,119.5 L564.3,119.4 L564.8,119.2 L565.3,119.1 L565.8,118.9 L566.3,118.8 L566.8,118.7 L567.3,118.6 L567.8,118.6 L568.3,118.7 L568.8,118.8 L569.3,118.9 L569.8,119.1 L570.3,119.3 L570.8,119.4 L571.3,119.6 L571.8,119.7 L572.3,119.8 L572.8,119.9 L573.3,120.0 L573.8,120.1 L574.3,120.2 L574.8,120.2 L575.3,120.3 L575.8,120.3 L576.3,120.3 L576.8,120.4 L577.3,120.4 L577.8,120.4 L578.3,120.5 L578.8,120.5 L579.3,120.5 L579.8,120.5 L580.3,120.5 L580.8,120.6 L581.3,120.6 L581.8,120.6 L582.3,120.6 L582.8,120.6 L583.3,120.6 L583.8,120.6 L584.3,120.6 L584.8,120.6 L585.3,120.6 L585.8,120.6 L586.3,120.7 L586.8,120.7 L587.3,120.7 L587.8,120.7 L588.3,120.7 L588.8,120.7 L589.3,120.7 L589.8,120.7 L590.3,120.7 L590.8,120.7 L591.3,120.7 L591.8,120.7 L592.3,120.7 L592.8,120.7 L593.3,120.7 L593.8,120.7 L594.3,120.6 L594.8,120.6 L595.3,120.6 L595.8,120.6 L596.3,120.6 L596.8,120.6 L597.3,120.6 L597.8,120.6 L598.3,120.5 L598.8,120.5 L599.3,120.5 L599.8,120.5 L600.3,120.4 L600.8,120.4 L601.3,120.3 L601.8,120.2 L602.3,120.2 L602.8,120.1 L603.3,120.0 L603.8,119.9 L604.3,119.8 L604.8,119.7 L605.3,119.6 L605.8,119.5 L606.3,119.4 L606.8,119.4 L607.3,119.4 L607.8,119.5 L608.3,119.6 L608.8,119.7 L609.3,119.8 L609.8,119.9 L610.3,120.0 L610.8,120.1 L611.3,120.2 L611.8,120.3 L612.3,120.4 L612.8,120.4 L613.3,120.5 L613.8,120.5 L614.3,120.5 L614.8,120.6 L615.3,120.6 L615.8,120.6 L616.3,120.6 L616.8,120.6 L617.3,120.6 L617.8,120.7 L618.3,120.7 L618.8,120.7 L619.3,120.7 L619.8,120.7 L620.3,120.7 L620.8,120.7 L621.3,120.7 L621.8,120.7 L622.3,120.7 L622.8,120.7 L623.3,120.7 L623.8,120.7 L624.3,120.7 L624.8,120.7 L625.3,120.7 L625.8,120.7 L626.3,120.7 L626.8,120.7 L627.3,120.7 L627.8,120.7 L628.3,120.7 L628.8,120.7 L629.3,120.7 L629.8,120.7 L630.3,120.7 L630.8,120.7 L631.3,120.7 L631.8,120.7 L632.3,120.7 L632.8,120.7 L633.3,120.7 L633.8,120.7 L634.3,120.7 L634.8,120.7 L635.3,120.7 L635.8,120.7 L636.3,120.7 L636.8,120.7 L637.3,120.7 L637.8,120.7 L638.3,120.7 L638.8,120.7 L639.3,120.7 L639.8,120.7 L640.3,120.7 L640.8,120.7 L641.3,120.7 L641.8,120.7 L642.3,120.7 L642.8,120.7 L643.3,120.7 L643.8,120.7 L644.3,120.7 L644.8,120.7 L645.3,120.7 L645.8,120.7 L646.3,120.7 L646.8,120.7 L647.3,120.7 L647.8,120.7 L648.3,120.7 L648.8,120.7 L649.3,120.7 L649.8,120.7 L650.3,120.7 L650.8,120.7 L651.3,120.7 L651.8,120.7 L652.3,120.7 L652.8,120.7 L653.3,120.7 L653.8,120.7 L654.3,120.7 L654.8,120.7 L655.3,120.7 L655.8,120.7 L656.3,120.7 L656.8,120.7 L657.3,120.7 L657.8,120.7 L658.3,120.7 L658.8,120.7 L659.3,120.7 L659.8,120.7 L660.3,120.7 L660.8,120.7 L661.3,120.7 L661.8,120.7 L662.3,120.7 L662.8,120.7 L663.3,120.7 L663.8,120.7 L664.3,120.7 L664.8,120.7 L665.3,120.7 L665.8,120.7 L666.3,120.7 L666.8,120.7 L667.3,120.7 L667.8,120.7 L668.3,120.7 L668.8,120.6 L669.3,120.6 L669.8,120.6 L670.3,120.6 L670.8,120.6 L671.3,120.6 L671.8,120.6 L672.3,120.6 L672.8,120.6 L673.3,120.6 L673.8,120.6 L674.3,120.5 L674.8,120.5 L675.3,120.5 L675.8,120.5 L676.3,120.5 L676.8,120.5 L677.3,120.4 L677.8,120.4 L678.3,120.4 L678.8,120.4 L679.3,120.3 L679.8,120.3 L680.3,120.3 L680.8,120.2 L681.3,120.2 L681.8,120.2 L682.3,120.1 L682.8,120.1 L683.3,120.0 L683.8,120.0 L684.3,119.9 L684.8,119.8 L685.3,119.8 L685.8,119.7 L686.3,119.6 L686.8,119.5 L687.3,119.4 L687.8,119.3 L688.3,119.3 L688.8,119.2 L689.3,119.1 L689.8,119.0 L690.3,118.9 L690.8,118.9 L691.3,118.8 L691.8,118.8 L692.3,118.8 L692.8,118.8 L693.3,118.8 L693.8,118.9 L694.3,118.9 L694.8,119.0 L695.3,119.1 L695.8,119.1 L696.3,119.2 L696.8,119.3 L697.3,119.3 L697.8,119.4 L698.3,119.5 L698.8,119.5 L699.3,119.6 L699.8,119.6 L700.3,119.7 L700.8,119.7 L701.3,119.7 L701.8,119.8 L702.3,119.8 L702.8,119.8 L703.3,119.8 L703.8,119.8 L704.3,119.8 L704.8,119.9 L705.3,119.9 L705.8,119.9 L706.3,119.9 L706.8,119.9 L707.3,119.9 L707.8,119.9 L708.3,119.9 L708.8,119.9 L709.3,119.9 L709.8,119.9 L710.3,119.9 L710.8,119.9 L711.3,119.8 L711.8,119.8 L712.3,119.8 L712.8,119.8 L713.3,119.8 L713.8,119.8 L714.3,119.8 L714.8,119.8 L715.3,119.8 L715.8,119.8 L716.3,119.7 L716.8,119.7 L717.3,119.7 L717.8,119.7 L718.3,119.7 L718.8,119.7 L719.3,119.6 L719.8,119.6 L720.3,119.6 L720.8,119.6 L721.3,119.6 L721.8,119.5 L722.3,119.5 L722.8,119.5 L723.3,119.5 L723.8,119.4 L724.3,119.4 L724.8,119.4 L725.3,119.3 L725.8,119.3 L726.3,119.3 L726.8,119.2 L727.3,119.2 L727.8,119.1 L728.3,119.1 L728.8,119.0 L729.3,118.9 L729.8,118.9 L730.3,118.8 L730.8,118.7 L731.3,118.6 L731.8,118.5 L732.3,118.4 L732.8,118.2 L733.3,118.1 L733.8,117.9 L734.3,117.7 L734.8,117.5 L735.3,117.3 L735.8,117.1 L736.3,116.8 L736.8,116.5 L737.3,116.2 L737.8,115.8 L738.3,115.4 L738.8,115.0 L739.3,114.5 L739.8,114.0 L740.3,113.5 L740.8,113.0 L741.3,112.5 L741.8,112.0 L742.3,111.6 L742.8,111.2 L743.3,111.0 L743.8,110.8 L744.3,110.8 L744.8,110.9 L745.3,111.2 L745.8,111.5 L746.3,112.0 L746.8,112.5 L747.3,113.0 L747.8,113.5 L748.3,114.1 L748.8,114.6 L749.3,115.1 L749.8,115.5 L750.3,115.9 L750.8,116.3 L751.3,116.6 L751.8,117.0 L752.3,117.2 L752.8,117.5 L753.3,117.7 L753.8,118.0 L754.3,118.2 L754.8,118.3 L755.3,118.5 L755.8,118.6 L756.3,118.8 L756.8,118.9 L757.3,119.0 L757.8,119.1 L758.3,119.2 L758.8,119.3 L759.3,119.4 L759.8,119.4 L760.3,119.5 L760.8,119.6 L761.3,119.6 L761.8,119.7 L762.3,119.7 L762.8,119.8 L763.3,119.8 L763.8,119.8 L764.3,119.9 L764.8,119.9 L765.3,120.0 L765.8,120.0 L766.3,120.0 L766.8,120.0 L767.3,120.1 L767.8,120.1 L768.3,120.1 L768.8,120.1 L769.3,120.1 L769.8,120.2 L770.3,120.2 L770.8,120.2 L771.3,120.2 L771.8,120.2 L772.3,120.2 L772.8,120.3 L773.3,120.3 L773.8,120.3 L774.3,120.3 L774.8,120.3 L775.3,120.3 L775.8,120.3 L776.3,120.3 L776.8,120.3 L777.3,120.4 L777.8,120.4 L778.3,120.4 L778.8,120.4 L779.3,120.4 L779.8,120.4 L780.3,120.4 L780.8,120.4 L781.3,120.4 L781.8,120.4 L782.3,120.4 L782.8,120.5 L783.3,120.5 L783.8,120.5 L784.3,120.5 L784.8,120.5 L785.3,120.5 L785.8,120.5 L786.3,120.5 L786.8,120.5 L787.3,120.5 L787.8,120.5 L788.3,120.6 L788.8,120.6 L789.3,120.6 L789.8,120.6 L790.3,120.6 L790.8,120.6 L791.3,120.6 L791.8,120.6 L792.3,120.6 L792.8,120.6 L793.3,120.6 L793.8,120.6 L794.3,120.7 L794.8,120.7 L795.3,120.7 L795.8,120.7 L796.3,120.7 L796.8,120.7 L797.3,120.7 L797.8,120.7 L798.3,120.7 L798.8,120.7 L799.3,120.7 L799.8,120.7 L800.3,120.7 L800.8,120.8" stroke="#ff9966"/>
</g>
<path d="M435.30,19.2 V529.1" stroke="#000" stroke-width="1.2" stroke-dasharray="3.5 6.884" stroke-dashoffset="2" fill="none"/>
<path d="M69.30,529.10 v-7.5 M69.30,19.20 v7.5 M160.76,529.10 v-7.5 M160.76,19.20 v7.5 M252.23,529.10 v-7.5 M252.23,19.20 v7.5 M343.69,529.10 v-7.5 M343.69,19.20 v7.5 M435.15,529.10 v-7.5 M435.15,19.20 v7.5 M526.61,529.10 v-7.5 M526.61,19.20 v7.5 M618.08,529.10 v-7.5 M618.08,19.20 v7.5 M709.54,529.10 v-7.5 M709.54,19.20 v7.5 M801.00,529.10 v-7.5 M801.00,19.20 v7.5 M69.30,529.10 h7.5 M801.00,529.10 h-7.5 M69.30,472.44 h7.5 M801.00,472.44 h-7.5 M69.30,415.79 h7.5 M801.00,415.79 h-7.5 M69.30,359.13 h7.5 M801.00,359.13 h-7.5 M69.30,302.48 h7.5 M801.00,302.48 h-7.5 M69.30,245.82 h7.5 M801.00,245.82 h-7.5 M69.30,189.17 h7.5 M801.00,189.17 h-7.5 M69.30,132.51 h7.5 M801.00,132.51 h-7.5 M69.30,75.86 h7.5 M801.00,75.86 h-7.5 M69.30,19.20 h7.5 M801.00,19.20 h-7.5" stroke="#000" stroke-width="1.4" fill="none"/>
<rect x="69.3" y="19.2" width="731.7" height="509.90000000000003" fill="none" stroke="#000" stroke-width="1.5"/>
</svg>
</body></html>
